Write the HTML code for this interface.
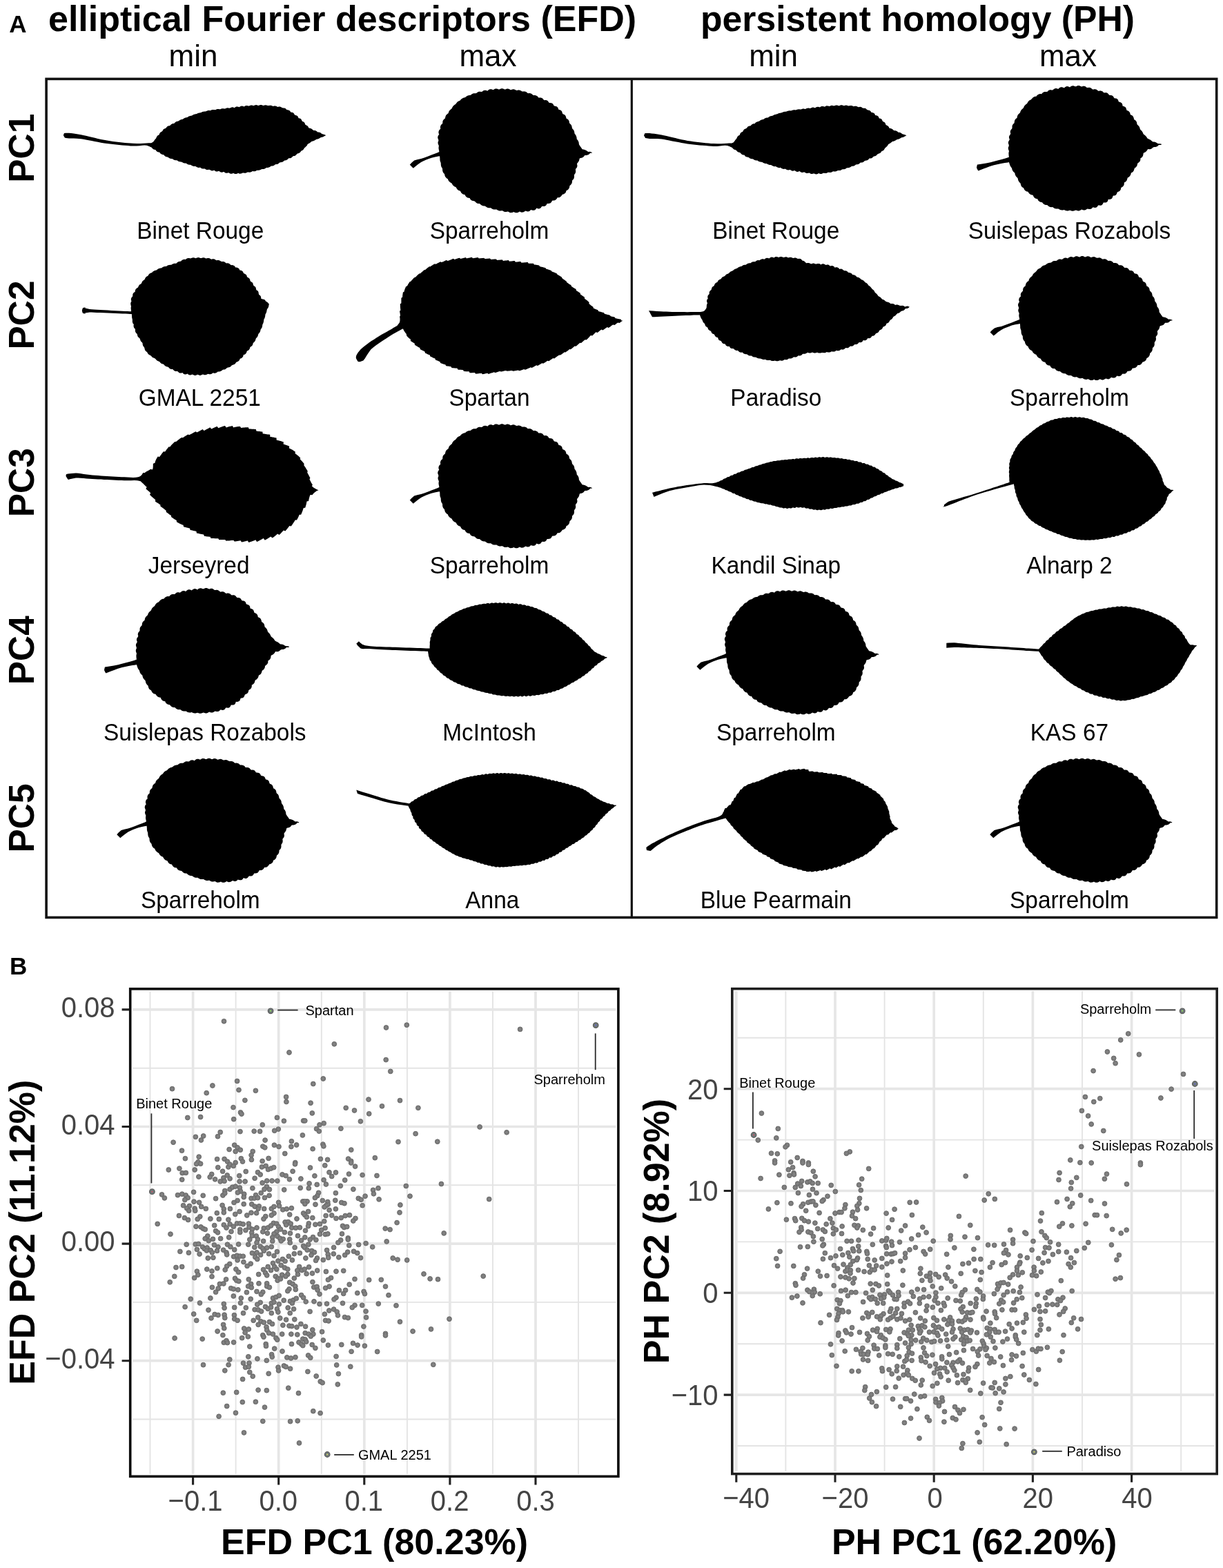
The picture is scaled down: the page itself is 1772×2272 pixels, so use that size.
<!DOCTYPE html>
<html lang="en"><head><meta charset="utf-8"><title>Figure: EFD vs PH leaf shape PCA</title>
<style>html,body{margin:0;padding:0;background:#fff}body{width:1772px;height:2272px;overflow:hidden}svg{display:block}text{font-family:"Liberation Sans", sans-serif}.b{font-weight:700}.ax{fill:#444;font-size:42.6px}.nm{font-size:34.4px;text-anchor:middle}.mm{font-size:44px;text-anchor:middle}.pc{font-size:52.7px;font-weight:700;text-anchor:middle}.lb{font-size:20px}.at{font-size:52px;font-weight:700;text-anchor:middle}.gM{stroke:#e6e6e6;stroke-width:3.7;fill:none}.gm{stroke:#e4e4e4;stroke-width:1.9;fill:none}.tk{stroke:#222;stroke-width:3.1;fill:none}.ld{stroke:#2a2a2a;stroke-width:1.8;fill:none}.d circle{fill:#7c7c7c;stroke:#6a6a6a;stroke-width:1}.di circle{fill:#949494}</style></head><body>
<svg width="1772" height="2272" viewBox="0 0 1772 2272">
<rect width="1772" height="2272" fill="#fff"/>
<text class="b" x="13.2" y="46.6" font-size="35">A</text>
<text class="b" x="70" y="44.5" font-size="52" textLength="852" lengthAdjust="spacingAndGlyphs">elliptical Fourier descriptors (EFD)</text>
<text class="b" x="1015" y="44.5" font-size="52" textLength="629" lengthAdjust="spacingAndGlyphs">persistent homology (PH)</text>
<text class="mm" x="280.0" y="96">min</text>
<text class="mm" x="707.0" y="96">max</text>
<text class="mm" x="1120.6" y="96">min</text>
<text class="mm" x="1547.5" y="96">max</text>
<rect x="67.1" y="114.4" width="1695.6" height="1215" fill="none" stroke="#111" stroke-width="3.6"/>
<line x1="915.3" y1="114.4" x2="915.3" y2="1329.4" stroke="#111" stroke-width="3.2"/>
<text class="pc" transform="translate(49.3 214.8) rotate(-90) scale(.977 1)">PC1</text>
<text class="pc" transform="translate(49.3 456.4) rotate(-90) scale(.977 1)">PC2</text>
<text class="pc" transform="translate(49.3 699.2) rotate(-90) scale(.977 1)">PC3</text>
<text class="pc" transform="translate(49.3 942.2) rotate(-90) scale(.977 1)">PC4</text>
<text class="pc" transform="translate(49.3 1185.4) rotate(-90) scale(.977 1)">PC5</text>
<text class="nm" transform="translate(290.3 345.5) scale(.972 1)">Binet Rouge</text>
<text class="nm" transform="translate(709.0 345.5) scale(.972 1)">Sparreholm</text>
<text class="nm" transform="translate(1124.3 345.5) scale(.972 1)">Binet Rouge</text>
<text class="nm" transform="translate(1549.4 345.5) scale(.972 1)">Suislepas Rozabols</text>
<text class="nm" transform="translate(289.3 588.0) scale(.972 1)">GMAL 2251</text>
<text class="nm" transform="translate(709.0 588.0) scale(.972 1)">Spartan</text>
<text class="nm" transform="translate(1124.3 588.0) scale(.972 1)">Paradiso</text>
<text class="nm" transform="translate(1549.4 588.0) scale(.972 1)">Sparreholm</text>
<text class="nm" transform="translate(288.1 830.5) scale(.972 1)">Jerseyred</text>
<text class="nm" transform="translate(709.0 830.5) scale(.972 1)">Sparreholm</text>
<text class="nm" transform="translate(1124.3 830.5) scale(.972 1)">Kandil Sinap</text>
<text class="nm" transform="translate(1549.4 830.5) scale(.972 1)">Alnarp 2</text>
<text class="nm" transform="translate(296.8 1073.0) scale(.972 1)">Suislepas Rozabols</text>
<text class="nm" transform="translate(709.0 1073.0) scale(.972 1)">McIntosh</text>
<text class="nm" transform="translate(1124.3 1073.0) scale(.972 1)">Sparreholm</text>
<text class="nm" transform="translate(1549.4 1073.0) scale(.972 1)">KAS 67</text>
<text class="nm" transform="translate(290.3 1315.5) scale(.972 1)">Sparreholm</text>
<text class="nm" transform="translate(713.3 1315.5) scale(.972 1)">Anna</text>
<text class="nm" transform="translate(1124.3 1315.5) scale(.972 1)">Blue Pearmain</text>
<text class="nm" transform="translate(1549.4 1315.5) scale(.972 1)">Sparreholm</text>
<g fill="#000">
<defs>
<path id="lf-binet" d="M221.3,206.1 222.1,205.4 222.8,204.4 223.6,203.4 224.4,202.3 225.4,201.2 226.3,200 226.9,198.5 227.7,197.2 228.9,196.1 230.5,195.5 230.9,194 231.5,192.9 232.2,191.9 233.3,191.2 234.6,190.6 235.5,189.7 236.1,188.3 237,187.2 238.3,186.4 239.9,186 241.1,184.7 242.3,183.3 243.3,182.7 244.6,182.3 246,182.2 247,181.2 248,180.2 249.2,179.4 250.6,179 252.2,178.9 253.3,177.7 254.5,176.7 255.9,176.1 257.5,175.8 259,175.3 260.2,174.2 261.6,173.4 263.2,173 264.9,172.8 266.1,171.8 267.5,171 268.7,170.5 270.1,170.2 271.6,170.1 272.7,169.1 273.9,168.5 275.3,168 276.7,167.7 278.1,167.5 279.4,166.6 280.7,166 282.1,165.6 283.5,165.3 285,165 286.3,164.3 287.6,163.7 289.1,163.4 290.6,163.2 292,162.8 293.3,162.1 294.7,161.7 296.2,161.5 297.7,161.5 299,161 300.3,160.4 301.7,160.1 303.2,160 304.7,160.2 306.1,159.6 307.5,159.1 309,158.9 310.5,159 312,159.2 313.4,158.5 314.9,158.1 316.4,158 317.9,158.3 319.3,158.2 320.7,157.6 322.1,157.2 323.5,157.2 324.9,157.6 326.3,157.5 327.5,156.8 328.8,156.4 330.1,156.3 331.8,156.7 333.5,156.5 334.9,155.7 336.5,155.3 338,155.5 339.6,156.2 341,155.2 342.3,154.6 343.8,154.4 345.2,154.7 346.7,155.3 348,154.3 349.4,153.7 350.8,153.6 352.3,154 353.8,154.4 355.1,153.5 356.6,153 358.1,153.1 359.6,153.5 361.1,153.6 362.5,152.8 363.9,152.5 365.4,152.6 367,153.2 368.4,152.8 369.9,152.2 371.3,152.1 372.8,152.4 374.3,153.1 375.8,152.4 377.2,152 378.7,152 380.2,152.5 381.6,153 383.2,152.4 384.7,152.2 386.3,152.4 387.8,153.1 389.4,153 391,152.7 392.6,152.8 394.1,153.3 395.6,154 397.1,153.5 398.6,153.4 400.1,153.7 401.4,154.4 402.6,154.9 404,154.6 405.3,154.5 407,155 408.5,156.1 410,156.4 411.5,156.4 412.9,156.8 414.1,157.6 415,158.8 416.3,159.2 417.8,159.4 419.2,160 420.3,161 421.1,162.4 422.5,162.8 424,163.1 425.3,163.8 426.2,165 426.9,166.6 428.5,166.9 430,167.4 431.2,168.3 432,169.7 432.6,171.2 434.3,171.4 435.6,172 436.7,173.2 437.3,174.7 438.2,175.9 439.8,176.5 441,177.5 441.7,178.8 442.2,180.4 443.4,181.3 444.8,181.9 445.9,182.8 446.7,184 447.4,185.5 449.1,185.8 450.6,186.2 452,187 453.2,188.2 454.6,188.9 456.3,189 457.7,189.5 459,190.3 460.2,191.4 461.6,191.5 462.9,191.8 464.7,192.6 466.3,193.9 468.2,194.4 469.9,194.9 471.2,195.5 472,196.1 472.2,196.3 471.9,196.4 471.1,196.4 470,197.2 468.7,198 467,198.7 465.1,199 463.4,200 461.8,200.9 460.3,201.5 458.8,201.8 457.4,202.4 456.2,203.3 454.8,203.9 453.4,204.4 451.8,204.7 450.6,205.8 449.3,206.8 447.9,207.7 446.7,208.3 445.6,209.1 445,210.4 444.2,211.5 443.2,212.5 442.1,213.4 440.9,214.4 440.3,215.8 439.3,217.1 438,218.1 436.3,218.7 435.3,220.2 434.5,221.1 433.5,221.8 432.3,222.3 430.9,222.6 429.9,223.4 429,224.5 427.9,225.4 426.6,225.9 425.1,226.1 423.9,226.9 422.8,228.1 421.6,228.9 420.1,229.3 418.3,229.3 417.2,230.6 415.9,231.6 414.4,232.2 412.6,232.4 411.4,232.9 410.5,233.9 409.3,234.7 408,235.1 406.6,235.2 405.2,235.5 404.1,236.6 402.9,237.4 401.5,237.9 399.9,238 398.5,238.5 397.3,239.5 396,240.2 394.5,240.5 392.9,240.5 391.6,241.4 390.3,242.3 388.8,242.8 387.3,242.9 385.7,243 384.5,244 383.1,244.7 381.7,245 380.1,245 378.8,245.3 377.5,246.1 376.1,246.6 374.7,246.8 373.1,246.7 371.7,247.1 370.3,247.9 368.9,248.3 367.4,248.3 365.8,248 364.4,248.9 363,249.5 361.5,249.7 360,249.5 358.5,249.4 357.2,250.2 355.8,250.7 354.4,250.8 352.9,250.5 351.5,250.4 350.3,251.2 349,251.6 347.7,251.7 346.4,251.4 345.1,250.7 343.4,251.7 341.8,252.1 340.2,251.9 338.6,251.1 337.2,251.2 335.6,251.7 334.2,251.8 332.8,251.2 331.6,250.2 330.1,250.4 328.7,250.8 327.3,250.7 325.9,250.2 324.7,249.1 323.1,249.2 321.6,249.7 320,249.5 318.7,248.9 317.4,247.7 315.9,248.3 314.4,248.6 312.9,248.4 311.5,247.6 310.2,246.7 308.6,247.3 307,247.4 305.6,247 304.2,246 302.7,245.8 301.1,246.1 299.6,246 298.2,245.4 296.9,244.4 295.4,244.5 293.9,244.6 292.5,244.3 291.1,243.6 289.9,242.5 288.3,242.9 286.8,242.8 285.4,242.3 284.1,241.6 282.8,240.8 281.3,240.9 279.8,240.7 278.5,240.2 277.2,239.4 275.9,238.8 274.4,238.8 273,238.5 271.7,237.9 270.4,237.1 269,236.6 267.5,236.6 266.1,236.2 264.7,235.6 263.4,234.7 261.9,234.5 260.3,234.3 258.9,233.9 257.5,233.1 256.2,232.3 254.6,232.3 253.1,232 251.7,231.4 250.4,230.5 249,230 247.5,229.9 246.2,229.5 244.9,228.9 243.9,227.9 242.7,227.4 240.9,227.2 239.4,226.6 238.2,225.6 237.2,224.2 235.5,224.1 234.1,223.6 232.8,222.8 231.9,221.7 230.9,220.6 229.4,220.4 228.1,219.9 227,219.2 226.1,218.3 225.3,217.1 223.6,216.8 222.2,216.2 221,215.3 220.1,214.3 219.1,213.3 217.9,212.9 216.7,212.3 215.4,211.7 214.1,211.2 212.6,210.8 209.3,210.5 206,210.8 202.2,211.2 197.8,211.6 192.6,211.6 189.2,211.4 185.4,211.1 181.4,210.8 177.1,210.5 172.7,210.1 168.2,209.6 163.7,209.1 159.3,208.6 155,208.1 150.8,207.4 146.3,206.7 141.8,205.8 137.3,204.9 132.8,204.1 128.5,203.2 124.5,202.5 120.8,201.8 117.5,201.3 111.5,200.7 106.8,200.6 103.1,200.6 100,200.6 95.4,199.9 93.8,199.6 92.8,197.8 91.8,196.1 92.4,194.5 93,193 95,192.8 100,192.8 103.2,193.1 106.9,193.5 111.5,194.2 117.5,195.3 120.8,196 124.5,196.8 128.5,197.8 132.8,198.8 137.3,199.8 141.8,200.9 146.3,201.9 150.8,202.8 155,203.6 159.3,204.2 163.7,204.9 168.1,205.4 172.5,206 176.9,206.5 181.2,206.9 185.2,207.3 189.1,207.6 192.6,207.8 198.3,208 203.4,208 208,207.8 211.9,207.5 215.1,207.3 219.1,207.3Z"/>
<path id="lf-sparre" d="M636.3,220.1 636.3,219.9 636.3,219.4 636.2,218.6 636,217.5 635.7,216.2 635.5,214.7 635.6,213.1 635.9,211.3 635.1,209.5 634.5,207.6 634.6,205.8 635.4,203.9 635.1,202.1 634.4,200.4 634.2,198.9 634.5,197.5 635.2,196 636.3,194.7 635.6,193.2 635.4,191.7 635.6,190.3 636.1,189 637,187.8 638.3,186.8 638,185.3 638,183.8 638.3,182.4 639,181.1 640,180 641.2,179 641.3,177.6 641.4,176.1 641.8,174.7 642.6,173.5 643.6,172.4 644.9,171.5 645.2,170 645.6,168.5 646.2,167.1 647.2,166 648.3,165 649.7,164.1 650,162.5 650.6,161.2 651.4,160 652.5,158.9 653.7,158 654.8,157 655.4,155.6 656.2,154.3 657.2,153.1 658.4,152.1 659.7,151.3 660.7,150.2 661.6,148.9 662.6,147.8 663.7,146.9 665,146.2 666.5,145.7 667.5,144.6 668.5,143.6 669.6,142.7 670.9,142 672.2,141.6 673.7,141.3 674.8,140.4 676,139.4 677.3,138.7 678.8,138.2 680.4,138 682.1,137.8 683.4,136.6 684.9,135.7 686.2,135.3 687.5,135.2 688.9,135.3 690.3,135 691.4,134 692.7,133.3 694.1,132.8 695.6,132.8 697.2,133.1 698.7,132.7 700,131.6 701.4,130.9 702.9,130.7 704.5,130.9 706.3,131.7 707.6,130.4 709,129.6 710.5,129.2 712.1,129.3 713.7,129.9 715.2,130 716.5,129.1 717.8,128.5 719.3,128.4 720.7,128.7 722.2,129.4 723.6,129.6 725.1,128.7 726.6,128.2 728,128.2 729.5,128.7 731,129.6 732.4,129.4 733.9,128.8 735.4,128.5 736.8,128.7 738.2,129.3 739.6,130.2 741,129.9 742.5,129.4 743.8,129.3 745.2,129.5 746.4,130 747.6,130.8 749.2,131 750.8,130.6 752.3,130.5 753.7,130.9 755.1,131.6 756.2,132.6 757.6,132.6 759.1,132.4 760.5,132.5 761.8,132.9 763,133.6 764.1,134.7 765.4,135.2 767,135 768.5,135.2 769.9,135.7 771.3,136.7 772.4,138.1 773.8,138.1 775.3,138.1 776.7,138.4 778,139 779.2,140 780.2,141.4 781.8,141.5 783.5,141.5 785,141.9 786.3,142.8 787.4,144.2 788.6,145.2 790.4,145.1 792,145.3 793.4,146.1 794.5,147.2 795.3,148.8 796.8,149.1 798.4,149.2 799.8,149.6 801,150.4 801.8,151.5 802.4,152.9 803.9,153.7 805.8,153.9 807.2,154.7 808.3,156 808.9,157.6 809.6,159 811.4,159.3 812.8,160 813.8,161.1 814.5,162.4 814.8,164 815.6,165.2 817.1,165.7 818.3,166.5 819.2,167.5 819.8,168.7 820.2,170.1 820.6,171.7 822.2,172.4 823.4,173.4 824.2,174.7 824.7,176.1 824.9,177.7 825.5,178.9 826.7,179.9 827.6,181 828.2,182.3 828.6,183.7 828.8,185.1 829.3,186.4 830.4,187.5 831.3,188.7 831.9,190.1 832.3,191.7 832.4,193.3 833.3,194.6 834.3,195.9 834.9,197.3 835.4,198.8 835.6,200.2 835.8,201.7 836.8,202.8 837.5,203.8 838.1,204.9 838.7,206.8 838.8,208.6 839.3,210.1 840.2,211.3 841,212.5 841.8,213.6 842.8,215 843.6,216.2 845.2,216.6 847.1,217 848.9,217.7 850.6,218.8 852.2,219.9 854.2,219.8 855.7,220.1 856.8,220.5 857.6,220.8 857.7,221.3 857.6,221.7 856.8,221.7 855.6,221.6 854.5,222.5 853.2,223.7 851.5,224.6 849.6,225 847.3,225 846,226.8 844.5,228.1 842.8,228.8 841.1,229.1 839.8,229.6 839.3,231.4 838.9,232.9 838.3,234.1 837.5,235.2 836.4,236.4 836,237.8 836.4,239.5 836.4,241.1 835.8,242.8 835,243.8 834,244.9 833.9,246.2 834.2,247.7 834.1,249.1 833.8,250.5 833.1,251.8 832.1,253 831.9,254.5 832,256.1 831.8,257.5 831.3,258.9 830.4,260.2 829.2,261.2 829,262.6 828.9,264.1 828.5,265.5 827.8,266.8 826.8,267.9 825.5,268.9 825.2,270.4 824.9,271.9 824.2,273.3 823.3,274.4 822.1,275.4 820.6,276.1 820.2,277.6 819.6,278.9 818.7,280 817.6,280.8 816.3,281.4 814.8,281.7 814,282.9 813.2,284.1 812.2,285.1 810.9,285.9 809.4,286.3 807.7,286.3 806.8,287.7 805.8,289 804.5,290 802.9,290.5 801.5,290.6 800,290.8 799.3,292.3 798.4,293.5 797.2,294.4 795.8,294.8 794.2,294.9 792.6,295.1 791.8,296.8 790.7,298 789.4,298.7 787.8,298.9 785.9,298.7 784.7,299.6 783.7,301.1 782.4,302 780.8,302.4 779.1,302.2 777.4,301.6 776.4,303.1 775.2,304.2 773.8,304.8 772.3,304.8 770.7,304.4 769.1,304 767.8,305.4 766.4,306.3 764.9,306.6 763.3,306.3 761.7,305.6 760.2,306.2 758.8,307.2 757.4,307.6 755.9,307.7 754.4,307.3 752.9,306.5 751.6,307.3 750.3,308 749,308.3 747.7,308.3 746,307.9 744.5,307 743,307.7 741.5,308.1 740,308.2 738.6,307.9 737.3,307.3 736,306.4 734.6,306.8 733.2,307.1 731.8,307 730.5,306.7 729.2,306.1 728,305.3 726.6,305.2 725.1,305.4 723.6,305.4 722.2,305 720.9,304.4 719.6,303.5 718.1,303.5 716.6,303.6 715.2,303.4 713.8,303 712.4,302.2 711.2,301.2 709.7,301.3 708.1,301.3 706.7,300.9 705.3,300.3 704,299.4 702.8,298.4 701.2,298.5 699.8,298.3 698.4,297.8 697.1,297 696,295.9 694.8,295.1 693.1,295.1 691.6,294.8 690.3,294.1 689.1,293.1 688.1,291.8 686.6,291.3 685,291.1 683.6,290.6 682.3,289.7 681.3,288.5 680.6,286.9 678.9,286.8 677.4,286.5 676.2,285.8 675.1,284.7 674.2,283.4 673.5,282 671.8,281.7 670.4,281.2 669.2,280.3 668.2,279.2 667.5,277.8 666.6,276.6 665.1,276.2 663.8,275.5 662.7,274.5 661.9,273.4 661.2,272.2 660.4,271 658.8,270.4 657.4,269.5 656.3,268.5 655.4,267.2 654.7,265.7 653.4,264.9 652,264.1 650.9,263.1 650,261.9 649.2,260.6 648.8,259.2 647.4,258.4 646.3,257.5 645.5,256.5 644.8,255.3 644.3,253.8 644.1,252.2 642.9,251 642,249.7 641.4,248.3 641.1,246.8 641.1,245.3 640.8,243.8 639.9,242.6 639.3,241.3 639,240.1 638.8,238.8 638.8,237.6 638.6,235.7 637.8,233.8 637.4,231.9 637.4,230.2 637.3,228.6 637.2,227.4 637.1,226.6 637.1,226.3 635,226.6 630.2,227.5 625.1,228.8 621.5,230.1 617.5,231.6 613.6,233.2 610.1,235.1 605.2,238.5 600.8,242.1 598.8,243.8 596.3,241.3 593.8,238.8 595.9,236.2 600.1,232.6 604.5,231.3 610.1,230.1 614.8,228.4 620.2,226.4 625.1,224.6 629.9,222.7 634.4,220.9Z"/>
<path id="lf-suis" d="M1461.8,227.8 1461.8,227.6 1461.8,227.1 1461.7,226.3 1461.6,225.3 1461.5,224 1461.4,222.5 1461.5,220.9 1462,219.1 1461.3,217.3 1460.8,215.4 1460.9,213.5 1461.8,211.6 1461.7,209.8 1461,208.1 1460.9,206.4 1461.2,205 1462.1,203.6 1462.9,202.1 1462.2,200.6 1461.9,199 1462.1,197.6 1462.7,196.2 1463.7,194.9 1464.3,193.6 1463.8,192 1463.8,190.5 1464.2,189.1 1465,187.8 1466.2,186.6 1466.6,185.1 1466.5,183.6 1466.7,182.1 1467.3,180.8 1468.2,179.6 1469.4,178.6 1469.8,177.1 1469.9,175.5 1470.4,174.1 1471.2,172.8 1472.3,171.7 1473.6,170.7 1473.8,169 1474.3,167.5 1475.1,166.1 1476.1,164.9 1477.2,164 1478.1,162.9 1478.5,161.5 1479.2,160.2 1480,159 1481.1,157.9 1482.3,156.9 1483.2,155.7 1483.8,154.3 1484.6,153 1485.6,151.9 1486.8,150.9 1488.1,150.1 1488.8,148.8 1489.5,147.6 1490.4,146.5 1491.4,145.6 1492.5,144.9 1494,144.3 1495,143.1 1496,141.9 1497.1,140.9 1498.4,140.2 1499.9,139.8 1501.4,139.8 1502.3,138.5 1503.4,137.5 1504.6,136.7 1506,136.3 1507.4,136.1 1509.1,136.3 1510.1,135 1511.2,133.9 1512.6,133.2 1514,132.9 1515.7,132.9 1517.3,133 1518.4,131.7 1519.7,130.7 1521.2,130.3 1522.8,130.2 1524.5,130.7 1525.8,130.1 1527.1,128.9 1528.5,128.2 1529.9,128 1531.5,128.2 1533.2,129 1534.4,127.8 1535.8,126.8 1537.2,126.3 1538.7,126.3 1540.3,126.8 1541.9,127.4 1543.1,126.2 1544.5,125.4 1545.9,125.1 1547.3,125.2 1548.8,125.7 1550.2,126.4 1551.6,125.1 1553.1,124.4 1554.6,124.2 1556.1,124.5 1557.6,125.2 1559.1,125.2 1560.5,124.4 1561.9,124 1563.3,124 1564.8,124.4 1566.2,125.2 1567.6,125.4 1569.2,124.8 1570.7,124.7 1572.2,125.1 1573.5,125.9 1574.8,127.1 1576.4,127 1578,126.8 1579.5,127 1580.9,127.7 1582.2,128.7 1583.5,129.7 1585.2,129.3 1586.7,129.3 1588.1,129.6 1589.4,130.2 1590.6,131.2 1591.8,131.9 1593.4,131.6 1594.9,131.5 1596.3,131.9 1597.6,132.6 1598.7,133.7 1599.9,134.5 1601.5,134.2 1603,134.3 1604.4,134.8 1605.6,135.8 1606.5,137.1 1607.7,138 1609.4,137.9 1610.9,138.2 1612.2,138.9 1613.2,140.1 1613.9,141.6 1615.1,142.4 1616.8,142.5 1618.2,143 1619.4,144 1620.2,145.3 1620.6,147 1621.8,147.8 1623.5,148.2 1624.8,149 1625.7,150.1 1626.3,151.6 1626.5,153.5 1628.1,154 1629.7,154.7 1630.9,155.6 1631.6,156.9 1632.1,158.5 1632.6,160.1 1634.4,160.6 1635.8,161.5 1636.8,162.7 1637.5,164.2 1637.7,166 1639.1,166.8 1640.6,167.6 1641.6,168.6 1642.3,169.9 1642.8,171.2 1643,173.1 1644.6,173.9 1645.8,175 1646.6,176.2 1647.1,177.6 1647.3,179.1 1647.7,180.4 1648.9,181.4 1649.8,182.4 1650.6,183.5 1651.3,185 1651.7,186.5 1652.4,187.9 1653.6,188.9 1654.5,190.1 1655.3,191.3 1656,192.6 1656.5,194.1 1657.6,195.1 1658.9,196 1660,196.9 1660.9,198 1661.7,199.2 1662.5,200.6 1663.9,201.2 1665.3,201.9 1666.6,202.6 1667.9,203.5 1669,204.5 1670.4,205.4 1672.3,205.6 1674.2,206 1676,206.9 1677.5,208.1 1679.2,208.3 1680.8,208.3 1681.9,208.4 1682.6,208.6 1682.7,209.3 1682.6,209.9 1681.9,210.1 1680.6,210.1 1679,209.9 1677.6,211.4 1676,212.5 1674.1,213 1672.1,213 1670.4,213.7 1669.1,215 1668,215.8 1666.3,216.3 1664.7,216.3 1663.1,216.1 1662.3,217.5 1661.5,218.6 1660.6,219.6 1659.4,220.5 1658.3,221.1 1656.8,221.7 1656.5,223.1 1656.3,224.7 1655.9,226.1 1655,227.4 1653.8,228.5 1652.3,229.5 1652.4,231.3 1652,232.9 1651.3,234.1 1650.3,235.2 1649,236.1 1648,237.3 1647.8,238.9 1647.3,240.3 1646.5,241.6 1645.4,242.7 1644,243.6 1643.4,245 1643,246.6 1642.4,247.8 1641.5,248.9 1640.4,249.8 1639,250.6 1638.5,251.9 1638.1,253.4 1637.4,254.6 1636.5,255.7 1635.3,256.7 1633.9,257.4 1633.4,258.8 1633,260.3 1632.4,261.7 1631.5,262.8 1630.4,263.8 1628.8,264.6 1628.8,266.3 1628.5,267.9 1627.8,269.3 1626.8,270.4 1625.4,271.3 1624.2,272.3 1624,274.1 1623.3,275.6 1622.3,276.7 1621.1,277.4 1619.5,277.9 1618.6,279 1618.1,280.6 1617.3,281.9 1616.2,282.9 1614.7,283.5 1612.9,283.6 1612.2,285.1 1611.6,286.7 1610.6,287.9 1609.3,288.6 1607.7,288.9 1605.8,288.7 1605.3,290.6 1604.6,292 1603.5,293 1602.1,293.6 1600.4,293.6 1598.7,293.5 1598,295.3 1597.1,296.6 1595.9,297.4 1594.4,297.8 1592.7,297.6 1591.1,297.5 1590.2,299.1 1589.1,300.2 1587.8,300.8 1586.3,300.9 1584.6,300.5 1583.1,300.6 1582,301.9 1580.7,302.7 1579.2,303.1 1577.7,303 1576,302.4 1574.6,302.9 1573.2,303.9 1571.8,304.4 1570.2,304.5 1568.8,304.2 1567.3,303.6 1566,304.3 1564.7,305 1563.3,305.4 1561.8,305.4 1560.3,305.1 1558.8,304.5 1557.4,305.1 1556,305.6 1554.6,305.8 1553.1,305.7 1551.7,305.3 1550.3,304.7 1549,305.1 1547.6,305.5 1546.1,305.6 1544.6,305.3 1543.1,304.8 1541.7,303.9 1540.2,304.4 1538.7,304.5 1537.2,304.3 1535.8,303.9 1534.5,303.1 1533.2,302.4 1531.7,302.6 1530.2,302.6 1528.8,302.3 1527.5,301.8 1526.2,300.8 1524.9,300 1523.3,300.2 1521.7,300 1520.3,299.5 1519.1,298.7 1518,297.5 1516.7,296.9 1515.1,296.9 1513.6,296.5 1512.3,295.8 1511.2,294.8 1510.3,293.4 1509,292.9 1507.4,292.7 1506,292.1 1504.8,291.1 1503.9,289.9 1503.3,288.3 1501.7,287.9 1500.2,287.4 1499,286.7 1498,285.6 1497.2,284.3 1496.7,282.8 1495.1,282.6 1493.5,282.1 1492.2,281.3 1491.1,280.3 1490.2,279 1489.4,277.8 1487.8,277.5 1486.4,277 1485.3,276.1 1484.3,275 1483.6,273.6 1482.9,272.3 1481.6,271.6 1480.5,270.7 1479.7,269.5 1479.1,268.1 1478.8,266.6 1478.3,265.2 1477.1,264.2 1476.2,263 1475.5,261.7 1475,260.3 1474.8,258.7 1474,257.5 1472.9,256.4 1471.9,255.2 1471.2,253.9 1470.6,252.3 1470.4,250.7 1469.1,249.6 1468,248.5 1467.2,247.3 1466.6,245.9 1466.2,244.6 1466,243.4 1465.1,242.6 1463.8,240.4 1463,238.4 1462.4,236.6 1462,235.5 1461.8,235.1 1460.1,235.4 1455.9,236.1 1450.4,237.1 1444.7,238.3 1440.1,239.3 1434.3,241.1 1429.2,243 1425,244.6 1419.9,246.6 1417.5,247.6 1416.4,245.9 1415,243.1 1415.5,240.3 1416,238.6 1417.9,238.3 1422.7,237.6 1428.9,236.6 1435.1,235.3 1439.7,234.1 1445.4,232.6 1451.3,230.9 1456.6,229.4 1460.4,228.3Z"/>
<path id="lf-gmal" d="M190.1,451.3 190.1,451 190,450.3 189.9,449.1 189.7,447.6 189.6,445.9 190,444 189.5,442.1 189.2,440.1 189.5,438.2 190.5,436.6 190,435 189.8,433.4 190.2,431.9 191,430.5 192.2,429.5 192.2,427.9 192.4,426.3 193,425 194,423.8 195.6,422.9 195.8,421.4 196.1,420 196.9,418.8 197.9,417.8 199.3,417.1 200.2,415.9 200.8,414.4 201.6,413.2 202.8,412.1 204.2,411.4 205.2,410.1 205.7,408.8 206.4,407.6 207.4,406.6 208.6,405.8 209.7,404.8 210.2,403.4 211,402.1 212,401 213.3,400.2 214.6,399.4 215.3,398 216.2,396.9 217.4,396 218.7,395.4 220.2,395 221.2,393.8 222.4,392.9 223.7,392.2 225.1,391.7 226.7,391.4 227.9,390.4 229.2,389.6 230.7,389 232.2,388.6 233.8,388.4 235.1,387.4 236.4,386.7 237.8,386.2 239.3,386 240.9,385.9 242.2,385 243.7,384.3 245.2,383.9 246.8,383.8 248.3,383.7 249.6,382.8 251,382.2 252.4,381.8 253.8,381.7 255.3,381.7 256.6,380.5 257.9,379.6 259.3,379 260.8,378.8 262.3,378.5 263.3,377.3 264.5,376.4 265.8,375.9 267.2,375.7 268.9,376 270.1,374.9 271.4,374.2 272.8,373.9 274.3,374 275.8,374.6 277.2,374 278.7,373.4 280.2,373.2 281.7,373.5 283.2,374.3 284.7,373.8 286.2,373.2 287.6,373 289.1,373.4 290.5,374.1 291.9,374 293.4,373.4 294.8,373.2 296.3,373.5 297.6,374.2 299.1,374.6 300.6,374 302.2,373.9 303.7,374.3 305.1,375.2 306.4,375.7 307.9,375.2 309.4,375.2 310.9,375.6 312.2,376.4 313.5,377.3 315.2,376.9 316.8,376.9 318.2,377.4 319.5,378.3 320.9,379.1 322.5,378.9 324,379 325.3,379.6 326.6,380.5 327.9,381.5 329.5,381.3 331.1,381.5 332.5,382.2 333.7,383.2 334.9,384.2 336.5,384.1 338,384.4 339.2,385.1 340.3,386.1 341.1,387.5 342.7,387.5 344.3,387.9 345.6,388.7 346.6,389.8 347.3,391.4 348.9,391.7 350.3,392.2 351.4,393.1 352.3,394.3 352.8,395.8 354,396.6 355.5,397.2 356.7,398.1 357.5,399.4 357.9,401 358.9,402.1 360.4,402.8 361.5,403.8 362.2,405.2 362.5,406.8 363.3,408 364.7,408.7 365.8,409.6 366.6,411 366.9,412.7 367.6,414.1 369.1,414.9 370.2,415.9 370.8,417.3 371,418.9 371.5,420.3 373,421.1 374.1,422.2 374.6,423.7 374.8,425.4 375.3,426.9 376.7,428 377.6,429.1 378.1,430.4 378.3,431.7 378.5,432.9 380.8,433.6 382.3,433.7 384.1,434.8 384.8,436.3 386.4,437.3 388.1,438.4 389.2,439.8 389.8,441 390.2,441.3 389.6,441.5 389.4,442.8 389.1,444.5 388.3,446.3 387,448.1 386.5,450.1 386.3,451.4 385.9,452.7 385.4,454 384.6,455.3 384.3,456.8 384.2,458.3 383.8,459.8 383.3,461.2 382.5,462.5 382.2,463.9 382.1,465.4 381.8,466.8 381.4,468.2 380.7,469.5 380.2,470.9 380.1,472.4 379.8,473.8 379.2,475.2 378.3,476.4 377.5,477.8 377.3,479.3 376.8,480.8 375.9,482.2 374.8,483.3 374.1,484.7 373.7,486.4 373.1,487.8 372.2,489 371.1,490 370.5,491.3 370.2,492.8 369.6,494.1 368.7,495.3 367.5,496.3 366.6,497.4 366.3,499 365.6,500.4 364.7,501.5 363.5,502.3 362.3,503.2 362,504.8 361.4,506.1 360.4,507.2 359.2,508.1 357.7,508.8 357.3,510.4 356.6,511.8 355.6,512.9 354.3,513.7 352.7,514.2 352.4,515.9 351.7,517.3 350.6,518.4 349.3,519.2 347.7,519.7 347.2,521.3 346.4,522.6 345.2,523.6 343.9,524.3 342.3,524.7 341.5,526 340.6,527.2 339.4,528 338.1,528.6 336.5,528.9 335.4,529.8 334.4,530.9 333.2,531.7 331.8,532.2 330.2,532.4 328.9,533.1 327.8,534.1 326.6,534.9 325.3,535.4 323.8,535.6 322.4,535.9 321.3,537 320.1,537.8 318.7,538.3 317.2,538.5 315.6,538.4 314.5,539.5 313.1,540.3 311.7,540.7 310.2,540.7 308.6,540.3 307.4,541.3 306.1,542 304.7,542.3 303.2,542.2 301.7,541.7 300.3,542.3 298.9,543 297.4,543.3 295.9,543.2 294.4,542.5 293,542.8 291.6,543.6 290.2,543.9 288.7,543.7 287.2,543 285.7,542.8 284.3,543.7 282.8,544 281.3,543.7 279.8,542.9 278.4,542.5 276.9,543.3 275.4,543.6 274,543.3 272.7,542.5 271.5,541.4 270.1,542.2 268.4,542.6 266.9,542.3 265.6,541.5 264.5,540.1 263,540.5 261.4,540.6 260.1,540.4 258.9,539.6 257.8,538.5 256.6,537.8 255,538 253.5,537.7 252.2,537 251,535.8 249.8,534.8 248.1,534.9 246.6,534.4 245.3,533.6 244.3,532.3 242.9,531.4 241.3,531.2 239.8,530.6 238.7,529.7 237.7,528.4 236.4,527.6 234.8,527.3 233.4,526.5 232.3,525.5 231.3,524.2 229.9,523.5 228.5,522.9 227.2,522.2 226.1,521.1 225.2,519.9 223.9,519.1 222.4,518.6 221.1,517.9 220,516.9 219.1,515.7 217.9,514.9 216.5,514.3 215.3,513.5 214.3,512.4 213.6,511.1 212.8,509.9 211.5,509 210.5,507.9 209.8,506.5 209.5,504.9 209.1,503.4 207.9,502.1 207.1,500.8 206.7,499.3 206.6,497.6 205.9,496.3 204.8,495.3 203.8,494 203.2,492.6 202.9,491.1 202.1,489.9 200.9,489 199.9,487.9 199.3,486.7 199,485.2 198.6,483.7 197.3,482.7 196.5,481.5 196,480.2 195.9,478.6 196,477 194.8,475.8 194,474.5 193.6,473.1 193.5,471.6 193.9,470 192.8,468.9 192.2,467.7 191.8,466 191.9,464.1 191.7,462.3 191.2,460.5 191.1,458.8 191,457.3 190.9,456.1 190.8,455.3 190.8,455.1 190.2,455 188.4,454.9 185.6,454.8 181.9,454.6 177.5,454.4 172.6,454.2 167.4,454 161.8,453.7 156.3,453.5 150.8,453.2 145.5,453 140.6,452.9 136.3,452.7 132.8,452.6 130,452.6 123.3,453.5 123.8,454.6 121.3,454.3 120,453.8 119.4,452.4 118.8,450.1 119.4,447.7 120,446.3 121.3,445.8 123.8,445.6 123.4,446.6 130,448.1 132.7,448.3 136.3,448.5 140.5,448.8 145.3,449 150.5,449.3 155.9,449.6 161.4,449.9 166.9,450.2 172.1,450.4 177,450.7 181.3,450.9 184.9,451.1 187.7,451.2 189.4,451.3Z"/>
<path id="lf-spartan" d="M578.8,467.6 579.1,466.6 579.3,465.5 579.5,464.3 579.5,463 579.5,461.6 579.3,460.2 579.1,458.8 580,457.2 579.8,455.7 579.6,454.2 579.3,452.6 579,451 580.4,449.5 580.2,448 580.1,446.5 579.9,445 579.9,443.6 579.8,442.1 579.8,440.6 581.4,439.3 581.4,437.8 581.4,436.3 581.4,434.7 581.4,433.2 581.5,431.7 583.1,430.5 583.2,429.1 583.3,427.6 583.5,426.2 583.7,424.8 583.9,423.5 585.5,422.7 585.9,421.1 586.4,419.6 586.9,418.1 587.5,416.7 588.1,415.3 589.8,414.6 590.5,413.4 591.2,412.1 592,410.8 592.8,409.6 593.7,408.3 595.3,407.8 596.2,406.6 597.1,405.5 598.1,404.4 599.1,403.3 600.1,402.2 601.7,401.8 602.8,400.7 603.9,399.7 605,398.6 606.2,397.6 607.3,396.5 609,396.2 610.2,395.1 611.2,394.2 612.3,393.2 613.4,392.2 614.5,391.3 616.1,391 617.2,390 618.4,389.1 619.5,388.1 620.7,387.2 621.9,386.2 623.7,386.2 624.9,385.3 626.2,384.5 627.5,383.6 628.7,382.9 629.9,382.2 631.6,382.7 632.9,382 634.1,381.3 635.4,380.7 636.7,380 638,379.3 639.8,380.1 641.2,379.5 642.6,378.9 644,378.3 645.4,377.6 646.9,377 648.7,378.1 650.2,377.4 651.5,376.9 652.8,376.4 654.1,375.9 655.5,375.3 656.9,374.8 658.6,376.1 660,375.6 661.4,375.1 662.9,374.6 664.4,374.1 665.8,373.7 667.5,375.1 669,374.6 670.4,374.2 671.9,373.8 673.3,373.4 674.7,373 676.2,374.4 677.6,374.1 679.1,373.7 680.7,373.4 682.2,373 683.7,372.8 685.1,374.2 686.6,373.9 688.1,373.7 689.6,373.5 691,373.3 692.5,373.1 693.9,374.5 695.3,374.3 696.8,374.2 698.3,374 699.7,373.9 701.2,373.7 702.6,375.1 704.1,374.9 705.6,374.8 707.1,374.7 708.5,374.6 710,374.5 711.4,375.9 712.9,375.8 714.4,375.7 715.9,375.6 717.4,375.5 718.9,375.4 720.2,376.9 721.7,376.8 723.2,376.7 724.7,376.6 726.2,376.4 727.7,376.3 729,377.9 730.6,377.8 732.1,377.6 733.6,377.4 735.2,377.3 736.7,377.1 738.1,378.8 739.7,378.6 741.2,378.4 742.7,378.3 744.2,378.1 745.7,377.9 747,379.7 748.5,379.6 749.9,379.4 751.3,379.2 752.7,379.1 754.3,378.9 755.7,380.8 757.3,380.6 758.8,380.5 760.3,380.3 761.8,380.2 763.2,380.1 764.7,380 765.8,381.8 767.2,381.7 768.6,381.7 770,381.7 771.4,381.7 772.9,381.8 773.9,383.5 775.4,383.6 776.8,383.8 778.3,384 779.7,384.2 781.1,384.5 782,386.1 783.4,386.4 784.8,386.7 786.2,387 787.6,387.4 789,387.8 790.4,388.2 791.4,389.7 792.8,390.1 794.3,390.5 795.7,391 797.2,391.5 798.6,392 799.6,393.4 801.1,393.9 802.5,394.4 803.9,395 805.3,395.7 806.7,396.3 807.5,397.7 808.9,398.5 810.1,399.2 811.4,400 812.6,400.8 813.8,401.6 814.4,403.1 815.6,404 816.9,404.9 818.1,405.8 819.3,406.7 820.6,407.5 821.3,409.2 822.6,410.1 823.8,410.9 824.9,411.7 826.2,412.5 827.5,413.3 828,415 829.3,415.8 830.6,416.7 831.9,417.5 833.2,418.3 834.6,419.1 834.9,421 836.2,421.7 837.4,422.5 838.5,423.2 839.6,423.9 840.6,424.6 841.1,426.7 842.5,427.6 843.7,428.4 844.9,429.2 846,430 847,430.7 846.9,432.6 848,433.4 849.1,434.2 850.2,435 851.4,436 852.5,436.9 853.6,437.9 853.4,439.9 854.5,440.9 855.7,441.9 856.8,442.9 858.1,443.8 859.4,444.7 860,446.7 861.2,447.3 862.4,447.8 863.7,448.3 865,448.8 866.3,449.3 867.1,450.9 868.6,451.4 870.1,451.8 871.6,452.2 873.2,452.7 874.8,453.1 876,454.8 877.7,455.2 878.9,455.6 880.4,455.9 881.9,456.3 883.6,456.7 884.9,458.3 886.8,458.7 888.6,459.1 890.5,459.5 891.8,461.2 893.6,461.6 895.3,461.9 897,462.2 898.4,462.5 899.8,462.7 900.4,464.4 901.4,464.6 902.1,464.7 902.5,464.8 902.7,464.6 902.5,464.5 902,464.8 901.2,465.4 900.1,466.1 898.9,467 897.5,468 895.3,467.5 893.7,468.6 892.1,469.8 890.5,471 888.1,470.4 886.6,471.5 885.2,472.5 884.1,473.4 882.9,474.2 881.7,475.1 879.7,474 878.5,474.9 877.2,475.8 876,476.7 874.8,477.6 873.5,478.5 871.4,477.4 870.2,478.3 869,479.3 867.9,480.2 866.7,481.2 865.6,482.1 863.5,481.3 862.3,482.3 861.2,483.4 860.2,484.4 859.1,485.5 858.1,486.6 856,486 854.9,487.1 853.9,488.2 852.9,489.3 851.8,490.4 850.7,491.4 849.5,492.5 847.5,492.2 846.4,493.2 845.4,494.1 844.3,495.1 843.2,496.1 842.1,497 840.2,496.8 839.1,497.8 838,498.8 836.9,499.7 835.7,500.7 834.6,501.7 832.7,501.6 831.5,502.6 830.3,503.5 829.1,504.5 827.9,505.4 826.8,506.3 825.1,506.1 824,507 822.9,507.9 821.8,508.7 820.6,509.6 819.5,510.4 817.8,510.3 816.6,511.2 815.4,512 814.3,512.9 813.1,513.8 811.9,514.6 810.2,514.4 809,515.3 807.7,516.1 806.5,517 805.3,517.8 804.1,518.7 803,519.5 801.2,519.1 800,519.9 798.8,520.7 797.6,521.6 796.4,522.4 795.1,523.3 793.3,522.8 792.1,523.6 790.8,524.4 789.6,525.2 788.3,526 787.1,526.8 785.3,526.2 784,527 782.8,527.8 781.5,528.5 780.3,529.2 779,530 777.2,529.3 775.9,530 774.6,530.8 773.3,531.5 771.9,532.2 770.6,532.9 768.9,532.2 767.6,532.9 766.2,533.5 764.9,534.1 763.6,534.7 762.2,535.3 760.9,535.8 759.2,535.1 757.9,535.6 756.5,536.1 755.2,536.5 753.7,537 752.3,537.3 750.7,536.6 749.3,536.8 747.8,537.1 746.3,537.3 744.9,537.5 743.4,537.7 741.9,536.9 740.4,537 739,537.2 737.5,537.4 736,537.6 734.6,537.8 733.1,537 731.6,537.3 730.1,537.6 728.8,537.9 727.4,538.2 726,538.6 724.4,537.9 723,538.3 721.6,538.8 720.2,539.2 718.8,539.7 717.4,540.1 715.8,539.3 714.4,539.8 713.1,540.2 711.7,540.6 710.4,541.1 709.1,541.5 707.8,541.9 706.3,540.7 705.1,541 703.5,541.3 702,541.7 700.5,542 699,542.2 697.6,540.7 696.2,540.9 694.8,541.1 693.4,541.3 692,541.5 690.6,541.6 689.2,541.7 688,539.9 686.6,540 685.1,540.1 683.6,540.2 682.1,540.3 680.6,540.3 679.6,538.3 678.1,538.3 676.6,538.2 675,538.2 673.5,538.1 672,538.1 671,536 669.5,535.9 668,535.8 666.5,535.8 664.9,535.7 663.4,535.6 662.4,533.6 660.8,533.5 659.3,533.4 657.7,533.3 656.1,533.2 654.5,533.1 653.5,531.2 652,531 650.5,530.8 649,530.6 647.5,530.4 646.1,530.1 645.3,528.3 643.8,527.9 642.3,527.5 640.9,527 639.5,526.5 638.1,526 637.6,524.2 636.3,523.7 635,523.1 633.7,522.5 632.3,521.9 631,521.4 630.4,519.6 629,519 627.6,518.4 626.2,517.8 624.8,517.1 623.4,516.5 622.8,514.6 621.4,514 620,513.4 618.6,512.7 617.2,512.1 615.9,511.4 615.5,509.5 614.1,508.8 612.7,508.1 611.4,507.4 610,506.7 608.7,506 608.4,504.1 607.1,503.4 605.9,502.7 604.6,501.9 603.4,501.2 602.2,500.5 600.9,499.8 600.8,497.7 599.6,497 598.4,496.2 597.2,495.5 596,494.7 594.8,493.9 595,491.8 593.8,491 592.7,490 591.5,488.9 590.3,487.7 589.1,486.2 588.8,484 587.6,482.5 586.5,481 585.5,479.5 584.8,478.3 584.4,477.2 583.9,476.6 583.8,476.3 581.4,477.6 575.9,480.5 570,483.8 566.7,485.8 563.2,488.1 559.5,490.4 555.9,492.8 552.5,495.1 548.5,497.8 544.6,500.4 541,503.2 537.5,506.3 534.4,510.4 531.4,515.1 528.7,519.5 526.3,522.6 521.3,524.3 518.8,523.9 517.7,522.5 516.3,520.1 515.7,517.9 516.3,515.1 518.6,511 522.5,506.3 525.1,504 528.1,501.5 531.4,499 535,496.3 538.2,494.1 541.7,491.9 545.3,489.6 549,487.3 552.5,485.1 556.2,483 560,480.9 563.7,478.8 567.1,476.9 570,475.1 575.4,472.1Z"/>
<path id="lf-paradiso" d="M1018.8,451.3 1020.3,450.5 1021.3,449.4 1022.3,448.2 1023.3,446.8 1023.8,445 1023.8,443.7 1023.9,442.3 1024.3,440.8 1025,439.2 1024.2,437.5 1024,435.8 1024.5,434.1 1025.7,432.7 1025.3,431.1 1025.3,429.6 1025.7,428.2 1026.7,427 1027.8,425.8 1027.6,424.1 1028,422.6 1028.9,421.2 1030.3,420.2 1030.9,419 1031.2,417.5 1031.8,416.3 1032.8,415.2 1034.2,414.4 1035,413.2 1035.5,411.7 1036.5,410.5 1037.7,409.6 1039.3,409 1040,407.4 1040.8,406.3 1041.8,405.4 1043.1,404.7 1044.6,404.3 1045.4,402.9 1046.4,401.8 1047.7,401 1049.1,400.4 1050.4,399.7 1051.4,398.5 1052.5,397.6 1053.8,396.9 1055.1,396.4 1056.4,395.5 1057.4,394.5 1058.6,393.6 1059.8,393 1061.2,392.5 1062.3,391.7 1063.4,390.8 1064.6,390 1065.9,389.4 1067.4,389 1068.7,388.2 1070,387.3 1071.2,386.7 1072.5,386.3 1073.9,386.1 1075.1,385.4 1076.3,384.6 1077.6,384 1079,383.7 1080.6,383.7 1081.8,382.8 1083.1,382 1084.5,381.5 1086,381.3 1087.5,381.3 1088.7,380.3 1090,379.6 1091.4,379.2 1093,379.2 1094.5,378.9 1095.7,377.9 1097.1,377.2 1098.6,377 1100.2,377.2 1101.5,376.6 1102.8,375.7 1104.3,375.2 1105.8,375.2 1107.4,375.7 1108.7,374.7 1110,373.9 1111.4,373.7 1112.9,373.9 1114.4,374.5 1115.6,373.4 1116.9,372.8 1118.2,372.5 1119.6,372.8 1121.1,373.5 1122.4,372.7 1123.8,372.1 1125.3,372 1126.9,372.4 1128.5,373 1130.1,372.1 1131.4,371.9 1132.8,372.1 1134.2,372.7 1135.7,373 1137.2,372.4 1138.8,372.2 1140.4,372.6 1141.9,373.6 1143.6,373 1145.2,372.8 1146.8,373 1148.3,373.8 1149.8,374 1151.3,373.6 1152.8,373.6 1154.1,374 1155.3,374.7 1156.5,375.1 1157.7,374.8 1159.8,375.1 1161.3,376.1 1162.2,377.4 1163.6,377.7 1164.8,378.2 1165.9,378.9 1166.9,379.9 1168.1,381.2 1170.2,381 1171.4,381 1172.6,381.2 1173.9,381.7 1175.2,382.6 1176.7,381.9 1178.3,381.6 1179.8,381.7 1181.4,382.4 1183,382.6 1184.6,382 1186.2,381.9 1187.8,382.3 1189.3,383.4 1190.9,382.5 1192.4,382.3 1193.9,382.5 1195.2,383.3 1196.7,383.9 1198.4,383.4 1200,383.5 1201.4,384.2 1202.6,385.4 1204.2,385.2 1205.8,385.1 1207.2,385.4 1208.5,386.3 1209.5,387.7 1211.2,387.2 1212.7,387.2 1214,387.7 1215.2,388.6 1216.4,389.9 1218.1,389.5 1219.6,389.7 1220.9,390.4 1222.1,391.5 1223.3,392.3 1224.9,392.2 1226.3,392.5 1227.6,393.3 1228.6,394.5 1229.9,395.1 1231.5,395.2 1232.9,395.8 1234.1,396.6 1235.1,397.9 1236.5,398.3 1238,398.5 1239.4,399.2 1240.5,400.2 1241.5,401.5 1243.1,401.7 1244.5,402.2 1245.7,402.9 1246.8,404 1247.8,405.1 1249.2,405.4 1250.4,406 1251.6,406.9 1252.6,408.1 1253.6,409.2 1254.9,409.8 1256.1,410.6 1257.1,411.7 1257.9,412.8 1258.8,413.9 1260,414.6 1261,415.4 1261.9,416.4 1262.7,417.5 1263.6,418.8 1265,419.7 1266.1,420.8 1266.9,422 1267.6,423.4 1268.6,424.5 1269.8,425.4 1270.8,426.5 1271.7,427.7 1272.5,429.1 1273.9,429.7 1275.2,430.5 1276.4,431.5 1277.4,432.7 1278.5,433.8 1280.1,434.3 1281.4,434.9 1282.6,435.9 1283.7,437.1 1285.2,437.5 1286.6,437.7 1287.9,438.2 1289.1,438.9 1290.2,440 1291.7,440 1293.2,440 1294.6,440.2 1295.9,440.9 1297.2,441.9 1298.8,441.6 1300.3,441.5 1301.8,441.9 1303.4,442.8 1305.4,443 1307.4,442.7 1309.4,443.2 1311.2,444.4 1313.2,443.7 1314.9,443.6 1316.2,444 1317.3,444.5 1317.9,445 1318.2,444.6 1317.7,444.4 1317,445.4 1315.8,446.4 1314,447.1 1311.7,447.3 1310.4,449.1 1309.4,449.8 1308.2,450.3 1306.9,450.6 1305.5,450.9 1304.5,452.1 1303.4,453 1302,453.7 1300.4,454.1 1299.1,455.2 1298,456.6 1297.1,457.4 1296,458.1 1294.7,458.7 1293.9,459.7 1293.2,461 1292.4,462.1 1291.2,463 1289.8,463.7 1289,464.9 1288.3,466.3 1287.3,467.4 1286,468.3 1284.4,468.8 1283.9,470.4 1283.1,471.7 1282,472.6 1280.7,473.3 1279.3,473.8 1278.7,475.4 1277.9,476.6 1276.8,477.5 1275.3,478.1 1274,478.9 1273.4,480.4 1272.5,481.6 1271.2,482.4 1269.7,482.7 1268.6,483.7 1267.8,485.1 1266.8,486.1 1265.4,486.7 1263.7,486.8 1262.7,487.9 1261.7,489.2 1260.5,490 1259,490.3 1257.3,490.1 1256.4,491.4 1255.3,492.6 1254,493.2 1252.4,493.3 1250.6,493.1 1249.7,494.7 1248.4,495.8 1246.9,496.2 1245,496 1243.9,496.7 1243,497.9 1241.8,498.7 1240.5,499 1238.9,498.9 1237.6,499.4 1236.5,500.7 1235.3,501.5 1233.8,501.8 1232.2,501.6 1230.9,502.4 1229.8,503.5 1228.5,504.2 1227,504.3 1225.3,504.1 1224.2,505.1 1223,506 1221.7,506.5 1220.2,506.5 1218.6,506.2 1217.4,507.2 1216.1,507.9 1214.7,508.2 1213.3,508.2 1211.7,507.8 1210.5,508.8 1209.1,509.4 1207.7,509.6 1206.3,509.5 1204.8,509.2 1203.5,510 1202.2,510.4 1200.8,510.6 1199.3,510.5 1197.9,510.1 1196.6,510.8 1195.2,511.2 1193.7,511.3 1192.2,511.1 1190.6,510.9 1189.1,511.4 1187.5,511.6 1185.9,511.4 1184.4,510.8 1182.8,511.1 1181.3,511.4 1179.7,511.4 1178.2,511 1176.8,510.6 1175.3,511.2 1174,511.5 1172.7,511.5 1171.4,511.3 1170.1,510.8 1168.5,511.8 1167.1,512.4 1165.7,512.7 1164.4,512.8 1163,512.8 1162.1,513.8 1161.1,514.7 1159.9,515.2 1158.4,515.5 1156.6,515.2 1155.2,516.6 1154.1,517.2 1152.9,517.5 1151.5,517.5 1150,517.2 1148.8,518.3 1147.5,519.1 1146,519.5 1144.4,519.4 1142.9,519.6 1141.5,520.6 1140.1,521.2 1138.5,521.3 1136.9,521 1135.5,521.7 1134.2,522.4 1132.8,522.7 1131.4,522.6 1130.1,522.3 1128.5,522.8 1127,523.2 1125.5,523.3 1124,523 1122.6,522.5 1121.2,522.9 1119.8,523 1118.4,522.9 1117,522.4 1115.7,521.8 1114.3,522.1 1112.9,522.1 1111.5,521.9 1110.1,521.4 1108.7,520.8 1107.2,521 1105.8,520.9 1104.3,520.5 1103,519.9 1101.6,519.4 1100.1,519.4 1098.6,519.2 1097.2,518.7 1095.9,517.9 1094.4,517.6 1092.9,517.5 1091.4,517.2 1090.1,516.5 1088.9,515.6 1087.4,515.5 1086,515.4 1084.6,515 1083.4,514.3 1082.2,513.2 1080.7,513.2 1079.3,513.1 1077.9,512.6 1076.7,511.8 1075.7,510.5 1074,510.7 1072.5,510.5 1071.2,509.9 1070.1,508.9 1069,507.7 1067.2,507.9 1065.7,507.6 1064.4,506.8 1063.3,505.5 1061.8,505 1060.1,504.9 1058.6,504.4 1057.5,503.2 1056.6,501.7 1054.8,501.9 1053.2,501.6 1052,500.8 1051.2,499.6 1050.5,498.2 1048.6,498.2 1047.1,497.6 1046.1,496.6 1045.4,495.1 1044.6,494 1043.1,493.6 1041.9,492.9 1041,491.9 1040.5,490.5 1040,489.1 1038.4,488.7 1037.1,488.1 1036.1,487 1035.4,485.5 1034.6,484.2 1032.9,483.7 1031.7,482.9 1030.7,481.6 1030.2,480 1028.9,479.2 1027.5,478.5 1026.4,477.5 1025.8,476.2 1025.4,474.8 1023.9,473.8 1022.5,472.7 1021.7,471.3 1021.3,469.7 1020.5,468.4 1019.3,467.4 1018.5,466.3 1018,465 1017.6,463.8 1016.4,461.9 1015.3,459.9 1014.6,458.1 1014,456.8 1013.8,456.3 1012.7,456.4 1009.6,456.5 1005.1,456.6 999.7,456.9 993.7,457.1 987.9,457.3 982.5,457.6 978.2,457.8 973.2,458 967.7,458.2 962.2,458.5 956.9,458.7 952.2,459 948.4,459.2 945.9,459.3 945,459.3 942.5,454.7 940,450.1 941.8,450.2 946.1,450.6 951.8,451 957.5,451.3 961.3,451.5 965.3,451.6 969.6,451.8 973.9,451.9 978.3,452 982.5,452.1 986.9,452.1 991.4,452.1 995.9,452.2 1000.2,452.1 1004.2,452.1 1007.6,452.1 1014.4,452.1Z"/>
<path id="lf-jersey" d="M200.1,691.3 201.8,690.8 203.3,689.9 204.5,688.9 205.6,687.7 206.4,686.4 207.3,685 209.5,685.3 210.4,684.4 211.7,683.5 213.1,682.7 214.6,682 216,681.3 217.2,680.6 218.1,679.7 220.7,680.6 221.3,679.3 221.6,677.9 221.7,676.5 221.8,675 221.8,673.4 221.9,671.7 224.5,670.8 224.8,669.3 225.3,667.7 225.8,666.4 226.4,665.2 227.1,664 227.9,662.7 228.7,661.5 231.2,661.9 232.1,660.6 233,659.4 234,658.1 234.9,656.8 235.9,655.6 236.9,654.3 239,654.5 239.9,653.4 240.7,652.2 241.6,651 242.5,649.9 243.4,648.7 244.3,647.5 246.3,647.4 247.2,646.3 248.2,645.1 249.2,644 250.2,642.9 251.2,641.9 252.3,640.9 253.4,639.9 255.2,640 256.3,639.1 257.3,638.2 258.4,637.3 259.6,636.4 260.7,635.6 261.9,634.7 263,633.9 264.9,634.3 266.1,633.4 267.4,632.6 268.7,631.8 270,631 271.2,630.2 272.4,629.5 274.2,630.3 275.5,629.6 276.8,628.9 278.1,628.2 279.4,627.4 280.7,626.7 282.1,625.9 283.4,625.2 285.4,626.5 286.8,625.8 288.2,625.1 289.6,624.3 291,623.6 292.4,622.8 293.6,622.1 295.5,624 296.8,623.4 298,622.7 299.3,622.1 300.5,621.4 301.8,620.7 303.1,620 304.3,619.3 306.3,621.6 307.6,620.9 308.9,620.3 310.2,619.7 311.6,619 313,618.4 314.5,617.8 316.3,620.2 317.7,619.7 319,619.2 320.4,618.7 321.7,618.2 323.2,617.8 324.6,617.3 326.1,616.9 327.7,619.4 329.2,618.9 330.7,618.5 332.2,618.1 333.7,617.8 335.2,617.4 336.8,617.1 338.2,619.4 339.6,619.1 341.1,618.8 342.5,618.6 343.9,618.3 345.2,618.1 346.5,617.9 347.7,617.7 349.3,619.9 351,619.7 352.6,619.5 354.1,619.4 355.6,619.3 357.1,619.3 358.5,619.2 359.9,619.2 360.7,621.6 362.1,621.6 363.5,621.6 364.9,621.7 366.4,621.8 367.9,621.8 369.3,621.9 370.8,622 371.4,624.6 372.9,624.7 374.4,624.9 375.9,625 377.3,625.2 378.8,625.4 380.3,625.5 380.8,628.4 382.2,628.6 383.7,628.8 385.1,629 386.5,629.2 388,629.4 389.6,629.6 391.2,629.8 391.4,632.9 393,633.1 394.5,633.4 396,633.6 397.5,633.9 399,634.2 400.6,634.5 400.6,637.6 402.1,638 403.6,638.3 405.2,638.7 406.6,639.1 408,639.5 409.4,640 410.9,640.4 410.6,643.5 412.1,644 413.5,644.5 415,645 416.4,645.6 417.8,646.1 419.2,646.8 418.9,649.5 420.2,650.1 421.4,650.7 422.7,651.3 424,652.1 425.4,652.9 426.6,653.8 427.9,654.7 427.6,657 428.8,657.9 429.9,658.8 431.1,659.7 432.1,660.6 433.2,661.6 434.2,662.5 435.2,663.5 434.8,665.4 435.9,666.5 437,667.7 438,668.8 439,670 439.9,671.1 440.7,672.3 440.3,674.1 441.1,675.2 441.9,676.4 442.7,677.6 443.5,678.9 444.3,680.2 445.1,681.5 445.8,682.8 445.2,684.6 445.9,685.9 446.6,687.2 447.3,688.6 448,689.9 448.7,691.2 449.4,692.6 448.5,694.5 449.2,695.9 449.9,697.3 450.6,698.7 451.3,700 452.1,701.2 452.9,702.3 451.9,704.3 453.4,705.7 455.1,707 456.9,708.1 458.6,709 460.1,709.7 461.1,710.1 460.7,711.3 460,710.5 459.2,711.1 458,711.9 456.6,713 455,714.3 453.6,715.8 452.4,717.3 449.6,717 449,718.3 448.5,719.7 448.1,721.2 447.7,722.7 447.4,724.3 447.1,725.9 444.5,726.6 444.2,728.2 443.9,729.8 443.5,731.4 443.1,732.8 442.7,734.3 442.2,735.8 439.8,736.1 439.3,737.5 438.9,738.8 438.4,740.2 437.9,741.6 437.3,742.9 436.8,744.3 436.1,745.7 433.8,745.8 433.2,747.1 432.6,748.4 432,749.7 431.4,751 430.7,752.3 430,753.6 427.7,753.6 426.9,754.9 426.1,756.2 425.2,757.6 424.4,758.7 423.6,759.9 422.7,761.2 421.8,762.4 419.4,762 418.4,763.2 417.5,764.5 416.5,765.7 415.5,766.9 414.4,768.2 413.4,769.4 410.9,768.5 409.9,769.6 408.8,770.7 407.8,771.8 406.7,772.9 405.7,773.9 404.6,775 402.1,773.5 401,774.5 399.9,775.5 398.7,776.5 397.4,777.5 396.1,778.5 394.7,779.6 392.2,777.4 391.2,778.2 390,778.9 388.9,779.7 387.7,780.4 386.4,781.2 385.1,782 383.8,782.7 381.8,780.1 380.4,780.8 379.1,781.6 377.7,782.3 376.3,783 374.9,783.7 373.5,784.4 372.1,785 370.3,782.3 369,782.9 367.6,783.5 366.2,784 364.8,784.6 363.3,785.1 361.8,785.5 360.4,786 358.8,783.4 357.4,783.8 355.9,784.2 354.4,784.6 352.9,784.9 351.5,785.2 350,785.4 348.6,783.2 347.1,783.5 345.6,783.7 344.1,784 342.6,784.2 341.1,784.4 339.6,784.6 338.2,782.7 336.7,782.9 335.2,783.1 333.6,783.2 332.1,783.4 330.5,783.5 329,783.6 327.5,783.7 326.2,781.9 324.7,782 323.2,782.1 321.7,782.1 320.3,782.1 318.9,782.1 317.5,782.2 316.2,780.3 314.6,780.3 313,780.3 311.5,780.2 310,780.1 308.5,780.1 307,780 305.5,779.9 304.6,777.8 303.1,777.7 301.7,777.5 300.3,777.4 298.8,777.2 297.4,777 295.9,776.8 295.1,774.5 293.6,774.2 292.2,774 290.7,773.7 289.3,773.4 287.8,773.1 286.4,772.8 284.9,772.5 284.5,770 283,769.6 281.5,769.3 280.1,769 278.6,768.6 277.1,768.3 275.6,768 275,765.5 273.5,765.2 272,764.8 270.5,764.5 269,764.1 267.5,763.7 266,763.2 265.6,760.8 264.2,760.4 262.8,759.8 261.4,759.2 260,758.6 258.6,757.8 257.3,757.1 255.9,756.3 255.8,754.1 254.4,753.3 253.1,752.5 251.9,751.7 250.6,750.8 249.4,750 248.1,749.1 248,747.1 246.7,746.3 245.5,745.4 244.3,744.5 243.1,743.6 241.9,742.7 240.7,741.8 240.7,739.8 239.5,738.9 238.4,738 237.2,737.1 236,736.2 234.8,735.3 233.6,734.5 232.4,733.6 232.4,731.5 231.1,730.7 229.9,729.8 228.7,729 227.4,728.2 226.1,727.4 224.9,726.5 225.2,724.2 224.1,723.3 222.9,722.3 221.7,721.3 220.6,720.3 219.4,719.2 218.2,718.1 217,717 218.2,714.5 217.1,713.3 216,712.2 214.8,711.2 213.7,710.2 212.5,709.3 211.4,708.5 212.6,705.6 211.3,704.7 210.2,703.6 209.1,702.6 208.2,701.6 207.2,700.6 206.2,699.7 205.1,698.8 204.1,697.6 202.6,697.1 198.9,696.3 194.6,696.1 189.8,696.2 184.9,696.3 180.1,696.3 176,696.1 171.9,695.9 167.7,695.7 163.5,695.5 159.2,695.3 155,695.1 150.8,694.9 146.5,694.6 142.2,694.4 138,694.2 133.9,694 130,693.8 125.6,693.5 121.2,693.1 117.2,692.8 113.4,692.6 110,692.6 102.4,693.9 98.8,695.1 97.3,693.1 95.5,690.1 95.7,688.1 96.3,687.1 98.6,686.6 103.9,685.9 110,685.6 113.5,685.8 117.3,686.3 121.4,686.9 125.6,687.5 130,688.1 133.9,688.4 138,688.8 142.2,689.1 146.5,689.5 150.8,689.8 155,690.1 159.3,690.3 163.6,690.6 167.9,690.8 172.1,691 176.2,691.2 180.1,691.3 184.5,691.5 188.9,691.8 193,691.9 196.8,691.8Z"/>
<path id="lf-kandil" d="M1036.3,699.6 1037.5,699.2 1038.7,698.7 1039.9,698.3 1041.2,697.9 1042.5,697.2 1043.7,696.5 1045,695.9 1046.5,695.7 1047.7,694.6 1048.9,693.7 1050.5,693.3 1051.9,692.8 1053.1,691.7 1054.6,691 1056.3,691 1057.5,689.9 1058.6,689.2 1059.9,688.8 1061.4,688.8 1062.4,687.9 1063.5,687.1 1064.8,686.7 1066.3,686.7 1067.4,685.8 1068.6,685 1069.9,684.6 1071.4,684.6 1072.6,683.7 1073.9,682.9 1075.3,682.6 1076.9,682.6 1078.1,681.5 1079.5,680.8 1081.1,680.6 1082.6,680.1 1083.7,679.4 1085,678.9 1086.3,678.7 1087.6,678.3 1088.8,677.6 1090.2,677.1 1091.6,676.9 1093,676.4 1094.3,675.6 1095.7,675.2 1097.2,675.1 1098.5,674.4 1099.9,673.7 1101.3,673.4 1102.8,673.2 1104.1,672.5 1105.5,672 1107,671.7 1108.4,671.4 1109.7,670.8 1111.1,670.4 1112.5,670.2 1113.8,669.9 1115.1,669.4 1116.6,669 1118.1,669 1119.6,668.6 1121,668.1 1122.5,668 1124.1,668.1 1125.5,667.5 1126.9,667.2 1128.4,667.2 1129.9,667.2 1131.3,666.7 1132.7,666.5 1134.2,666.6 1135.6,666.5 1137,666.1 1138.4,665.9 1139.8,666.2 1141.1,666 1142.4,665.5 1143.8,665.4 1145.1,665.6 1146.7,665.4 1148.3,664.9 1149.8,664.9 1151.4,665.4 1152.8,664.6 1154.3,664.3 1155.8,664.6 1157.2,664.8 1158.6,664.1 1160.1,664 1161.5,664.3 1162.9,664.3 1164.3,663.7 1165.8,663.7 1167.2,664.1 1168.7,663.9 1170.1,663.3 1171.6,663.4 1173.1,664 1174.5,663.3 1176,662.9 1177.5,663.1 1179,663.6 1180.4,662.8 1181.9,662.6 1183.4,662.9 1184.9,662.9 1186.3,662.3 1187.8,662.3 1189.3,662.8 1190.7,662.5 1192.2,662.1 1193.7,662.3 1195.2,662.9 1196.6,662.4 1198.1,662.2 1199.6,662.5 1201,663 1202.5,662.5 1204,662.5 1205.5,663 1206.9,663.2 1208.4,662.9 1209.9,663.1 1211.3,663.7 1212.8,663.6 1214.3,663.4 1215.8,663.8 1217.2,664.6 1218.7,664.1 1220.2,664.2 1221.6,664.7 1222.9,665.2 1224.4,664.9 1225.9,665.1 1227.3,665.7 1228.7,666 1230.2,665.8 1231.6,666.1 1233,666.9 1234.4,667 1235.9,666.9 1237.3,667.4 1238.5,668.3 1240,668.1 1241.4,668.1 1242.7,668.6 1243.8,669.5 1245.2,669.5 1246.8,669.5 1248.2,670.1 1249.5,671.2 1251.1,670.9 1252.6,671.1 1253.8,672 1255.1,672.7 1256.6,672.6 1258,672.9 1259.1,673.8 1260.3,674.5 1261.7,674.5 1263,674.8 1264.1,675.7 1265,676.7 1266.8,676.6 1268.2,677.3 1269.3,678.4 1270.7,679.1 1272.2,679.4 1273.4,680.3 1274.2,681.5 1275.6,682 1277,682.5 1278.1,683.3 1278.9,684.6 1280.3,685 1281.8,685.6 1282.9,686.7 1283.9,688 1285.4,688.4 1286.6,689.2 1287.6,690.4 1288.7,691.3 1290.2,691.9 1291.4,692.8 1292.6,694 1294.1,694.4 1295.7,695.1 1297.2,696.2 1299.1,696.8 1301,697.6 1302.6,698.8 1304.4,699.2 1305.9,699.8 1307.1,700.5 1308.1,701.1 1308.8,701.2 1309,701.3 1309.2,702.9 1309,704.6 1308.8,704.6 1308.1,704.6 1307.2,705 1306.1,705.5 1304.6,705.9 1302.9,706 1301.2,706.9 1299.3,707.4 1297.2,707.6 1295.5,708.6 1293.6,709.1 1291.8,709.4 1290.3,710.3 1289,710.8 1287.6,710.9 1286.3,711.5 1285.1,712.2 1283.7,712.7 1282.3,712.9 1281,713.6 1279.7,714.4 1278.4,714.9 1276.8,715 1275.6,715.9 1274.4,716.7 1272.9,717.1 1271.4,717.2 1270.3,718.3 1269,719 1267.5,719.3 1266.1,719.8 1264.9,720.8 1263.6,721.4 1262,721.6 1260.8,722.5 1259.5,723.4 1258.1,723.9 1256.5,723.9 1255.4,725.1 1254.2,725.9 1252.8,726.2 1251.3,726.3 1250.3,727.3 1248.9,727.9 1247.5,728.1 1246.1,728.3 1244.9,729.2 1243.7,729.7 1242.4,729.8 1241,729.7 1239.9,730.6 1238.6,731.1 1237.2,731.2 1235.7,731.1 1234.3,732 1232.7,732.4 1231.5,732.4 1230.2,732.4 1229,733.1 1227.6,733.4 1226.2,733.4 1224.8,733.4 1223.4,734.1 1222,734.4 1220.5,734.3 1219,734.6 1217.6,735.1 1216.1,735.3 1214.6,735.1 1213.2,735.6 1211.8,736.1 1210.4,736.1 1209,735.9 1207.7,736.4 1206.2,736.9 1204.8,736.9 1203.3,736.6 1202,737.4 1200.6,737.8 1199.2,737.8 1197.7,737.6 1196.4,738.3 1195.1,738.7 1193.7,738.6 1192.3,738.2 1190.9,739 1189.5,739.2 1188.1,738.9 1186.6,738.6 1185.1,739.2 1183.8,739.2 1182.5,738.7 1181.1,738.3 1179.7,738.7 1178.2,738.6 1176.9,737.8 1175.5,737.5 1174,737.8 1172.6,737.5 1171.3,736.6 1169.8,736.5 1168.3,736.7 1166.9,736.3 1165.6,735.3 1164.2,735.6 1162.8,735.8 1161.4,735.5 1160.2,734.7 1158.7,735.2 1157.2,735.6 1155.8,735.4 1154.3,734.6 1152.9,735.6 1151.6,736 1150.1,735.8 1148.7,735.3 1147.4,736.2 1146,736.6 1144.6,736.4 1143.2,736 1141.8,736.7 1140.4,736.9 1139,736.5 1137.7,736 1136.2,736.5 1134.7,736.4 1133.4,735.8 1132,735.4 1130.4,735.5 1129,735.2 1127.7,734.4 1126.2,734.2 1124.7,734.1 1123.3,733.6 1122,732.8 1120.5,732.8 1119.1,732.6 1117.8,732.1 1116.5,731.3 1115.1,731.5 1113.5,731.3 1112.1,730.8 1110.7,730.3 1109.2,730.4 1107.7,730.1 1106.4,729.6 1105,729.3 1103.5,729.3 1102.1,729 1100.8,728.4 1099.3,728.2 1097.9,728.1 1096.5,727.7 1095.2,726.8 1093.7,726.8 1092.3,726.6 1091,726 1089.9,725.2 1088.4,725.1 1087,724.9 1085.7,724.2 1084.6,723.3 1083,723.3 1081.6,723 1080.4,722.2 1079.2,721.4 1077.7,721.3 1076.3,720.9 1075.1,720.1 1073.8,719.4 1072.3,719.3 1070.9,718.7 1069.7,717.7 1068.2,717.2 1066.7,716.9 1065.4,716.1 1064.3,714.9 1062.6,714.9 1061.2,714.4 1060,713.5 1058.8,712.7 1057.4,712.6 1056.1,712.1 1055,711.4 1053.6,710.6 1052,710.3 1050.7,709.7 1049.5,708.8 1048.2,708.4 1046.9,708 1045.6,707.4 1044.4,706.8 1043,706.4 1041.6,706 1040.1,705.6 1036.5,704.7 1032.7,703.8 1028.7,703.1 1024.5,702.7 1020.1,702.6 1016.2,702.8 1012.1,703.3 1007.9,703.9 1003.6,704.7 999.3,705.5 995,706.3 990.8,707 986.6,707.8 982.4,708.5 978.2,709.3 974.1,710.3 970,711.3 965.6,712.8 960.7,714.6 955.8,716.6 951.6,718.3 948.6,719.6 947.5,720.1 946.3,716.9 945,713.8 946.3,713.5 949.6,712.6 954.4,711.4 959.8,710 965.3,708.7 970,707.6 974.2,706.7 978.4,705.9 982.5,705.1 986.7,704.4 990.9,703.7 995,703.1 999.3,702.5 1003.7,701.9 1008.1,701.3 1012.4,700.8 1016.4,700.4 1020.1,700.1 1024.6,700 1028.4,700.2 1032.1,700.3Z"/>
<path id="lf-alnarp" d="M1462.6,698.8 1462.6,698.6 1462.5,698.1 1462.5,697.3 1462.4,696.3 1462.3,695 1462.4,693.5 1462.3,691.9 1462.1,690.1 1462.1,688.3 1462.4,686.3 1461.8,684.4 1462,682.4 1462.5,680.5 1461.9,678.6 1462,676.9 1462.6,675.3 1462.4,673.8 1462.2,672.5 1462.5,670.7 1463.4,669.2 1463.3,667.7 1463.4,666.2 1463.9,664.9 1464.8,663.8 1465.3,662.7 1465.5,661.3 1466,660 1466.8,658.9 1467.9,657.7 1468,656.2 1468.5,654.9 1469.3,653.7 1470.4,652.7 1470.7,651.2 1471.3,649.8 1472.2,648.6 1473.3,647.5 1473.9,646.1 1474.6,644.7 1475.6,643.6 1476.8,642.6 1477.5,641.2 1478.3,640.1 1479.3,639.1 1480.5,638.2 1481.4,637.1 1482.3,636 1483.4,635 1484.7,634.2 1485.7,633.2 1486.7,632.1 1487.9,631.2 1489.1,630.4 1490.3,629.4 1491.3,628.3 1492.5,627.4 1493.7,626.7 1494.8,625.8 1495.8,624.7 1496.9,623.8 1498.1,623.1 1499.4,622.3 1500.4,621.2 1501.5,620.3 1502.7,619.6 1504.1,619 1505.1,617.9 1506.3,617 1507.5,616.3 1509,615.9 1510.1,614.9 1511.2,614.1 1512.5,613.5 1513.9,613.2 1515.1,612.4 1516.3,611.5 1517.6,610.9 1519,610.7 1520.3,610.2 1521.5,609.3 1522.9,608.8 1524.3,608.6 1525.8,608.4 1527.1,607.5 1528.5,607 1530.1,607 1531.5,607 1532.8,606.2 1534.2,605.7 1535.7,605.8 1537.3,606.2 1538.7,605.3 1540.3,604.9 1541.8,605.1 1543.4,605.4 1544.9,604.6 1546.4,604.4 1548,604.7 1549.5,604.9 1550.9,604.3 1552.4,604.1 1553.8,604.4 1555.1,605 1556.7,604.2 1558.2,604 1559.7,604.4 1561.2,604.9 1562.7,604.4 1564.1,604.2 1565.5,604.5 1566.8,605.2 1568.2,604.9 1569.6,604.8 1571,605.1 1572.3,605.8 1573.7,606 1575.2,605.9 1576.6,606.3 1577.8,606.9 1579.1,607.6 1580.6,607.6 1581.9,607.9 1583.2,608.7 1584.3,609.7 1585.9,609.7 1587.3,610.1 1588.6,610.8 1589.7,611.8 1591.2,612 1592.6,612.3 1593.9,613 1595.1,614 1596.5,614.3 1598,614.5 1599.3,615.1 1600.4,616.1 1601.8,616.5 1603.3,616.7 1604.6,617.3 1605.8,618.2 1607.1,618.9 1608.6,619.1 1610,619.6 1611.2,620.6 1612.4,621.4 1614,621.6 1615.4,622.1 1616.4,623.1 1617.5,624.1 1619.1,624.2 1620.4,624.6 1621.6,625.6 1622.5,626.9 1624.2,626.9 1625.6,627.3 1626.7,628.2 1627.6,629.5 1629.2,629.8 1630.6,630.2 1631.8,631.1 1632.6,632.4 1634,632.9 1635.4,633.4 1636.6,634.3 1637.4,635.6 1638.7,636.4 1640.1,637 1641.2,638 1642.1,639.3 1643.2,640.3 1644.7,640.9 1645.8,641.9 1646.5,643.2 1647.6,644.2 1648.9,644.9 1650,645.8 1650.8,647 1651.5,648.1 1652.8,648.7 1654.1,649.7 1655.1,650.9 1656.1,652.2 1657.5,652.9 1658.6,653.9 1659.5,655.1 1660.2,656.3 1661.5,657 1662.6,657.9 1663.4,659.1 1664.1,660.4 1665.2,661.2 1666.3,662.2 1667.2,663.4 1667.8,664.7 1668.8,665.7 1669.8,666.8 1670.7,667.9 1671.3,669.2 1672.1,670.4 1673.1,671.4 1673.9,672.6 1674.5,673.8 1675.1,675.1 1676.1,676.3 1676.9,677.7 1677.5,679.1 1678.2,680.6 1679.2,681.9 1679.9,683.3 1680.3,684.9 1681,686.2 1681.8,687.4 1682.4,688.7 1682.7,690.1 1683.3,691.7 1684.1,693.2 1684.5,694.7 1684.5,696.3 1685,697.6 1685.7,698.8 1686.2,700.1 1686.5,701.3 1687.2,702.8 1688.5,703.7 1689.6,704.7 1690.4,705.9 1691.5,706.9 1692.9,707.4 1694.5,708.2 1696.2,709.7 1698.3,709.7 1699.8,710 1700.2,710.6 1700,711 1699,711.3 1697.9,712.3 1696.8,713.7 1695.2,714.9 1693.7,716.1 1693,717.8 1692.4,718.9 1691.5,720 1690.8,721.3 1690.8,722.8 1690.5,724.3 1689.7,725.7 1689,727.1 1688.7,728.8 1688,730.2 1687,731.2 1686.1,732.3 1685.7,733.6 1684.9,734.8 1683.9,735.8 1682.6,736.7 1682.1,738.2 1681.2,739.4 1680,740.4 1678.6,741.3 1677.9,742.7 1676.9,743.8 1675.8,744.6 1674.4,745.3 1673.6,746.6 1672.6,747.7 1671.3,748.5 1669.9,749.2 1669,750.5 1667.9,751.6 1666.5,752.4 1665,753.1 1664.1,754.4 1662.9,755.4 1661.6,756 1660.2,756.6 1659.3,757.8 1658.2,758.8 1656.9,759.4 1655.4,759.8 1654.5,761.1 1653.4,762.1 1652,762.7 1650.4,762.9 1649.4,764.3 1648.2,765.3 1646.7,765.8 1645,766 1644.1,767.2 1643,768 1641.6,768.4 1640.1,768.3 1639,769.3 1637.8,770.2 1636.4,770.7 1634.8,770.6 1633.6,771.4 1632.4,772.4 1631,772.8 1629.4,772.8 1628,773.3 1626.8,774.3 1625.5,774.7 1624,774.7 1622.6,774.8 1621.4,775.9 1620,776.4 1618.5,776.4 1617,776.3 1615.8,777.3 1614.5,777.9 1613,777.9 1611.5,777.5 1610.2,778.5 1608.9,779.1 1607.4,779.2 1605.9,778.8 1604.5,779.4 1603.2,780.1 1601.7,780.2 1600.1,779.9 1598.7,780.3 1597.4,780.9 1595.9,781.1 1594.4,780.9 1592.9,781.2 1591.5,781.7 1589.9,781.9 1588.4,781.6 1586.9,781.9 1585.4,782.4 1583.9,782.5 1582.4,782.2 1580.9,782.4 1579.4,782.8 1578,782.8 1576.5,782.5 1575.1,782.5 1573.7,782.8 1572.2,782.8 1570.8,782.5 1569.3,782.3 1567.9,782.6 1566.5,782.5 1565.1,782.2 1563.8,781.7 1562.3,782 1560.9,781.9 1559.6,781.6 1558.2,781 1556.8,781 1555.4,781 1554,780.6 1552.6,780 1551.2,779.8 1549.7,779.7 1548.3,779.3 1547,778.5 1545.5,778.1 1544,778 1542.5,777.5 1541.2,776.7 1539.8,776.2 1538.3,776 1536.9,775.5 1535.6,774.6 1534.2,774.1 1532.7,773.9 1531.3,773.4 1530.1,772.6 1528.7,772 1527.2,771.8 1525.8,771.3 1524.5,770.4 1523.2,769.8 1521.7,769.6 1520.3,769.1 1519.1,768.2 1517.9,767.4 1516.4,767.2 1515,766.7 1513.9,765.9 1512.8,764.9 1511.3,764.7 1509.9,764.1 1508.7,763.3 1507.6,762.1 1506,761.9 1504.6,761.3 1503.4,760.4 1502.3,759.2 1500.8,758.9 1499.5,758.2 1498.3,757.3 1497.3,756.1 1495.9,755.6 1494.6,754.8 1493.6,753.7 1492.8,752.4 1491.5,751.7 1490.5,750.7 1489.6,749.6 1488.9,748.3 1487.8,747.2 1486.8,746.2 1486,744.9 1485.4,743.6 1484.5,742.4 1483.5,741.3 1482.8,740 1482.2,738.7 1481.5,737.4 1480.6,736.4 1479.9,735.2 1479.3,733.7 1478.7,732.3 1477.7,731.1 1477,729.8 1476.7,728.3 1476.2,726.9 1475.3,725.7 1474.7,724.3 1474.4,722.9 1474.2,721.5 1473.3,720.3 1472.7,719 1472.4,717.6 1472.4,715.8 1471.3,714.2 1470.9,712.2 1470.9,710.1 1470,708.3 1469.7,706.5 1469.6,704.8 1469.2,703.4 1469,702.3 1468.9,701.6 1468.8,701.3 1468.2,701.5 1466.4,702 1463.6,702.7 1459.9,703.8 1455.6,705 1450.7,706.3 1445.4,707.8 1440,709.3 1434.5,710.9 1429.1,712.5 1423.9,714 1419.2,715.5 1415,716.8 1410.8,718.2 1406.5,719.8 1402.2,721.4 1397.8,723 1393.5,724.7 1389.3,726.3 1385.3,727.9 1381.5,729.4 1378,730.8 1374.9,732 1372.2,733 1370,733.8 1366.1,734.5 1368,733.1 1368,731.2 1373.8,727.1 1376.4,726.1 1379.7,725 1383.3,723.9 1387.4,722.7 1391.8,721.4 1396.4,720.1 1401.1,718.8 1405.8,717.4 1410.5,716 1415,714.6 1419.1,713.3 1423.7,711.8 1428.7,710.1 1433.9,708.4 1439.2,706.6 1444.4,704.9 1449.2,703.3 1453.5,701.9 1457.2,700.6 1460.1,699.7 1461.9,699Z"/>
<path id="lf-mcintosh" d="M622.6,939.6 622.6,939.3 622.6,938.5 622.6,937.4 622.6,935.9 622.8,934.2 622.8,932.3 622.7,930.3 623.2,928.5 623.5,926.7 623.4,924.9 623.8,923.6 624.7,922.4 625,920.9 624.9,919.4 625.4,918 626.5,916.8 627,915.4 627.2,913.8 628,912.4 629.3,911.4 630.1,910 630.6,908.7 631.6,907.7 632.9,907 634.1,906.1 634.9,904.7 636,903.7 637.5,903.1 638.8,902.2 639.8,900.9 641.1,900 642.7,899.5 643.8,898.4 644.9,897.2 646.1,896.5 647.5,896 648.6,895 649.7,893.9 650.9,893.1 652.4,892.5 653.5,891.6 654.6,890.5 655.9,889.8 657.4,889.3 658.6,888.4 659.8,887.5 661.2,886.8 662.6,886.4 663.9,885.7 665,884.9 666.3,884.3 667.7,883.9 669,883.5 670.2,882.7 671.5,882.1 672.9,881.8 674.4,881.6 675.6,880.8 677,880.2 678.4,879.9 679.9,879.8 681.2,879.1 682.5,878.5 683.9,878.2 685.3,878.2 686.7,877.7 688,877.1 689.4,876.8 690.9,876.9 692.3,876.6 693.7,875.9 695.1,875.6 696.6,875.7 698,875.6 699.4,875 700.8,874.7 702.3,874.8 703.7,875 705.1,874.2 706.5,873.9 707.9,874.1 709.4,874.7 710.7,873.9 712.1,873.5 713.4,873.5 714.8,874.1 716.2,873.8 717.6,873.3 719,873.2 720.4,873.7 721.8,874 723.3,873.3 724.7,873.2 726.2,873.6 727.6,874.2 729.1,873.5 730.5,873.3 732,873.7 733.4,874.5 735,873.7 736.5,873.6 738,874 739.5,874.7 741.1,874 742.6,874 744.1,874.5 745.6,875.1 747.1,874.6 748.6,874.5 749.9,875 751.2,875.9 752.7,875.3 754.3,875.3 755.8,875.8 757.2,876.7 758.9,876.3 760.4,876.4 761.7,876.9 763,877.9 764.6,877.6 766,877.7 767.3,878.2 768.5,879.1 770,879.1 771.4,879.2 772.8,879.7 774,880.7 775.5,881 777,881.1 778.4,881.7 779.5,882.7 780.9,883.2 782.4,883.4 783.7,884 784.9,885 786.1,885.7 787.7,885.9 789,886.5 790.2,887.5 791.3,888.4 792.8,888.5 794.2,889 795.3,890 796.2,891.3 797.8,891.3 799.2,891.8 800.3,892.7 801.2,894.1 802.8,894.3 804.2,894.7 805.4,895.6 806.2,897.1 807.8,897.4 809.2,897.8 810.3,898.7 811.1,900.1 812.4,900.7 813.9,901.1 815.1,902 815.9,903.3 817.1,904.2 818.7,904.5 819.9,905.4 820.7,906.6 821.7,907.7 823.2,908 824.4,908.8 825.3,909.9 826.2,911.3 827.9,911.7 829.2,912.5 830.1,913.8 831.1,915.1 832.7,915.5 833.9,916.4 834.8,917.7 835.7,918.9 837.2,919.4 838.3,920.3 839.2,921.5 840,922.8 841.5,923.4 842.7,924.4 843.6,925.7 844.5,927 845.9,927.7 847,928.8 847.8,930 848.7,931.2 850,932 851,932.9 851.8,934 852.5,935.3 853.9,936.1 855,937.1 855.8,938.2 856.4,939.5 857.5,940.4 858.5,941.2 859.5,942.2 860.3,943.3 861.4,944.3 862.8,944.9 864,945.6 865.3,946.5 866.8,947.3 868.6,947.8 870.3,948.7 871.9,949.7 873.7,950 875.3,950.7 876.5,951.6 877.7,952 878.7,952.1 879.4,952.2 879.5,952.6 879.5,953 879,953.3 878.1,953.7 876.9,954.1 875.7,955.1 874.5,956.3 872.9,957.2 871.1,957.9 869.9,959.6 868.3,960.6 866.4,961.2 865.4,962.8 864.5,963.7 863.3,964.4 861.9,964.8 861.2,966.1 860.4,967.3 859.2,968.2 857.7,968.7 856.9,970 856,971.3 854.8,972.2 853.3,972.7 852.4,973.9 851.5,975.2 850.2,976.1 848.7,976.5 847.7,977.6 846.8,978.8 845.5,979.6 844,980 842.9,980.9 841.9,982.1 840.6,982.9 839.1,983.3 837.8,984.1 836.8,985.2 835.5,986 834,986.4 832.7,987.2 831.7,988.2 830.4,989 828.9,989.3 827.6,990 826.5,991.1 825.2,991.9 823.8,992.3 822.4,992.9 821.4,994 820.1,994.8 818.7,995.2 817.3,995.6 816.2,996.7 814.9,997.5 813.4,997.8 811.9,998.2 810.7,999.2 809.3,999.9 807.7,1000.1 806.3,1000.3 805.2,1001.2 804,1001.8 802.6,1002 801,1001.8 799.9,1002.7 798.6,1003.4 797.1,1003.7 795.6,1003.4 794.2,1004.1 792.9,1004.9 791.5,1005.1 789.9,1004.8 788.5,1005.3 787.1,1006.1 785.7,1006.3 784.1,1005.9 782.7,1006.3 781.4,1007.1 780,1007.3 778.5,1007 777,1006.9 775.7,1007.8 774.2,1008.1 772.7,1007.8 771.2,1007.4 769.8,1008.4 768.4,1008.7 766.9,1008.4 765.4,1007.8 764,1008.8 762.5,1009.2 761,1008.8 759.5,1008.1 758.1,1009.1 756.6,1009.4 755.2,1009.1 753.7,1008.2 752.2,1009.2 750.8,1009.5 749.3,1009.3 747.8,1008.5 746.3,1009.2 744.8,1009.5 743.3,1009.2 741.8,1008.5 740.3,1009 738.9,1009.3 737.4,1009.1 736,1008.4 734.5,1008.7 733.1,1009 731.7,1008.8 730.3,1008.2 729,1008.1 727.6,1008.4 726.1,1008.3 724.6,1007.7 723.1,1007.4 721.6,1007.6 720.2,1007.4 718.8,1006.9 717.5,1006.4 716,1006.5 714.6,1006.4 713.3,1005.9 712.1,1005.1 710.6,1005.2 709.2,1005.1 707.9,1004.7 706.6,1004 705.1,1003.9 703.6,1003.8 702.2,1003.4 700.9,1002.7 699.4,1002.4 697.9,1002.4 696.5,1002 695.2,1001.2 693.7,1000.9 692.2,1000.8 690.8,1000.4 689.5,999.7 688.1,999.2 686.6,999.2 685.2,998.8 683.9,998.1 682.7,997.3 681.1,997.4 679.7,997.1 678.4,996.3 677.1,995.4 675.6,995.5 674.2,995.2 672.9,994.5 671.8,993.4 670.2,993.5 668.8,993.2 667.6,992.6 666.5,991.5 665.1,991.2 663.7,991 662.4,990.4 661.3,989.4 660,988.7 658.5,988.5 657.2,987.9 656.1,986.9 654.9,986 653.4,985.7 652.1,985.1 651,984.1 650,983 648.5,982.7 647.2,982 646.2,981.1 645.3,979.8 643.8,979.3 642.5,978.6 641.5,977.5 640.6,976.1 639.1,975.5 637.9,974.5 636.9,973.4 636.1,972 634.7,971.3 633.5,970.4 632.7,969.3 632,968 630.9,967.3 629.9,966.5 628.7,965.1 628,963.5 626.7,962.5 625.7,961.3 625,960 624.7,958.6 623.7,957.6 622.9,956.4 622.4,955.2 622.1,953.5 621.4,951.8 620.9,949.9 620.7,948 620.4,946.4 620.2,945.1 620.1,944.1 620.1,943.8 619.4,943.8 617.4,943.7 614.4,943.6 610.4,943.5 605.8,943.3 600.6,943.1 595.1,943 589.4,942.7 583.7,942.5 578.3,942.3 573.2,942.1 568.8,942 565,941.8 559.3,941.5 554.1,941.3 549.5,941 545.4,940.7 541.6,940.5 538.2,940.2 535,940.1 529.3,940 525.6,940.2 522.5,939.6 518.2,935.6 516.3,932.6 518.1,930.9 520,929.3 521.5,931.1 525,933.8 529.2,935.3 536.3,936.3 539.2,936.6 542.4,936.7 545.9,936.9 549.8,937 554.2,937.2 559.3,937.4 565,937.6 568.5,937.7 572.8,937.8 577.5,938 582.7,938.2 588.2,938.4 593.7,938.6 599.2,938.8 604.5,938.9 609.3,939.1 613.7,939.3 617.3,939.4 620.1,939.5 621.9,939.5Z"/>
<path id="lf-kas" d="M1505.1,940.6 1505.3,940.4 1505.7,939.9 1506.4,939 1507.3,938 1508.5,936.8 1509.9,935.6 1511,934 1512.3,932.5 1514,931.5 1515,929.9 1515.7,928.9 1516.7,928 1518,927.3 1519.2,926.5 1519.9,925.1 1520.9,924 1522.2,923.1 1523.7,922.5 1524.4,921 1525.4,919.8 1526.6,918.9 1528.1,918.3 1529,917.2 1529.9,916 1531,915.1 1532.4,914.4 1533.7,913.8 1534.6,912.5 1535.7,911.5 1536.9,910.8 1538.3,910.3 1539.4,909.3 1540.3,908.2 1541.5,907.3 1542.8,906.7 1544.1,906.1 1545,904.9 1546.1,903.9 1547.3,903.1 1548.6,902.5 1549.7,901.5 1550.6,900.4 1551.8,899.4 1553,898.7 1554.3,898 1555.3,896.9 1556.4,895.9 1557.6,895.2 1558.9,894.6 1560.1,893.8 1561.3,892.9 1562.5,892.2 1563.8,891.7 1565.2,891.3 1566.3,890.5 1567.5,889.8 1568.9,889.2 1570.3,888.9 1571.6,888.3 1573,887.6 1574.4,887.1 1576,886.7 1577.7,886.4 1578.8,885.8 1580,885.4 1581.3,885.1 1582.7,885 1584.1,884.7 1585.4,884.2 1586.8,883.8 1588.2,883.6 1589.7,883.8 1591.1,883.1 1592.5,882.6 1594,882.4 1595.5,882.5 1597,882.3 1598.4,881.7 1599.8,881.4 1601.2,881.4 1602.7,881.7 1604.1,880.9 1605.5,880.4 1607,880.3 1608.6,880.6 1610,880.2 1611.4,879.6 1612.9,879.4 1614.4,879.6 1615.9,879.7 1617.3,879 1618.8,878.6 1620.3,878.8 1621.8,879.3 1623.3,878.7 1624.7,878.3 1626.2,878.4 1627.7,878.9 1629.1,879 1630.5,878.6 1631.9,878.5 1633.3,878.9 1634.6,879.6 1636.1,879.4 1637.6,879.2 1639,879.4 1640.3,880 1641.7,880.5 1643.2,880.3 1644.6,880.4 1646,880.8 1647.2,881.6 1648.7,881.6 1650.1,881.6 1651.4,881.8 1652.7,882.4 1654.1,883.3 1655.7,883.1 1657.2,883.3 1658.6,883.9 1659.9,884.8 1661.4,884.9 1662.9,885.1 1664.4,885.6 1665.6,886.4 1667,887 1668.5,887.1 1669.9,887.6 1671.2,888.3 1672.4,889.3 1673.9,889.4 1675.3,889.7 1676.7,890.4 1678,891.4 1679.4,891.8 1681,892.1 1682.4,892.7 1683.6,893.7 1684.9,894.5 1686.5,894.7 1687.9,895.3 1689.1,896.2 1690.1,897.5 1691.6,897.6 1693,898.1 1694.2,899 1695.1,900.1 1696.4,901 1697.9,901.5 1699.1,902.4 1700.1,903.6 1700.9,904.9 1702.4,905.4 1703.7,906.2 1704.6,907.4 1705.2,908.9 1706.4,909.7 1707.7,910.4 1708.7,911.4 1709.4,912.7 1709.9,914.1 1711.5,914.9 1712.6,916.1 1713.3,917.6 1713.8,919.3 1715.3,920.3 1716.3,921.6 1716.9,923.1 1717.2,924.7 1718.4,925.6 1719.3,926.6 1719.9,927.7 1720.3,928.8 1721.5,930.8 1722.4,932 1723,932.8 1724,933.7 1725.2,934.6 1727,934.3 1728.9,934.4 1730.8,934.9 1732.4,935.1 1733.6,934.9 1734,935.1 1733.9,935.6 1733.1,936.4 1731.7,937.5 1730.4,939.2 1729.2,941 1727.7,942.6 1726.9,943.5 1726.4,944.7 1725.8,945.9 1725.1,947.1 1724.2,948.2 1723.4,949.4 1722.8,950.9 1722.1,952.3 1721.1,953.6 1720.1,955 1719.7,956.2 1719.1,957.4 1718.4,958.6 1717.5,959.7 1716.9,961 1716.4,962.5 1715.7,963.8 1714.8,965 1713.9,966.2 1713.5,967.7 1712.8,969 1711.9,970.2 1710.8,971.3 1710.3,972.6 1709.6,974 1708.7,975.2 1707.6,976.2 1706.7,977.4 1706.1,978.8 1705.3,980 1704.2,981 1702.9,981.9 1702.3,983.3 1701.4,984.6 1700.2,985.6 1698.7,986.3 1697.8,987.7 1696.9,988.7 1695.8,989.6 1694.5,990.1 1693.2,990.8 1692.2,992 1691.1,993 1689.7,993.6 1688.1,993.9 1687.1,995.1 1685.9,996.1 1684.5,996.8 1683,997.1 1681.7,998 1680.5,999 1679.2,999.7 1677.7,1000.1 1676.3,1000.5 1675.3,1001.5 1674.1,1002.2 1672.8,1002.7 1671.3,1002.9 1670.1,1003.5 1669,1004.3 1667.7,1004.9 1666.3,1005.2 1664.8,1005.3 1663.6,1006.2 1662.4,1006.9 1661,1007.3 1659.5,1007.4 1658,1007.9 1656.7,1008.6 1655.3,1009.1 1654,1009.3 1652.5,1009.3 1651.3,1010.1 1650,1010.7 1648.7,1011.1 1647.2,1011.2 1645.8,1011.5 1644.5,1012.2 1643.1,1012.7 1641.6,1012.9 1640.1,1012.8 1638.8,1013.5 1637.4,1014.1 1636,1014.3 1634.5,1014.3 1633.1,1014.4 1631.7,1015 1630.4,1015.3 1629,1015.3 1627.7,1014.9 1626.2,1015.1 1624.8,1015.5 1623.3,1015.5 1621.9,1015.1 1620.5,1014.5 1619,1014.9 1617.6,1014.9 1616.2,1014.6 1614.9,1013.8 1613.5,1013.6 1612,1013.8 1610.6,1013.6 1609.3,1013 1608.1,1012 1606.6,1012.3 1605.2,1012.4 1603.9,1012.1 1602.6,1011.4 1601.2,1010.7 1599.6,1011 1598.1,1010.9 1596.7,1010.3 1595.5,1009.2 1593.9,1009.5 1592.4,1009.5 1591,1009 1589.7,1008.1 1588.3,1007.7 1586.8,1007.8 1585.4,1007.5 1584.1,1006.7 1583,1005.6 1581.4,1005.7 1580,1005.5 1578.6,1004.9 1577.4,1003.8 1575.9,1003.3 1574.3,1003.1 1572.9,1002.4 1571.7,1001.4 1570.4,1000.5 1568.9,1000.2 1567.5,999.6 1566.3,998.7 1565.3,997.5 1563.7,997.3 1562.4,996.8 1561.2,996 1560.2,995.1 1558.7,994.2 1557.2,993.7 1555.9,992.9 1554.7,991.9 1553.6,990.9 1552.2,990.5 1551,989.8 1549.8,988.8 1548.9,987.7 1547.5,987 1546.2,986.3 1545,985.3 1544.1,984.2 1543.1,983.2 1541.8,982.5 1540.6,981.6 1539.7,980.6 1538.8,979.3 1537.6,978.5 1536.4,977.6 1535.3,976.6 1534.4,975.3 1533.4,974.3 1532.1,973.5 1531,972.5 1530,971.4 1529.3,970.1 1527.8,969.5 1526.6,968.6 1525.5,967.6 1524.7,966.3 1523.4,965.4 1522.1,964.7 1521,963.7 1520.1,962.5 1519.2,961.3 1517.8,960.7 1516.7,959.8 1515.9,958.7 1515.2,957.5 1514,956.4 1512.6,955.2 1511.6,953.6 1510.9,951.8 1509.5,950.5 1508.4,949.1 1507.6,947.6 1506.8,946.3 1506.1,945.3 1505.5,944.5 1505.2,944 1505.1,943.8 1503.2,943.7 1497.9,943.5 1490.1,943.1 1486.9,942.9 1483.3,942.6 1479.2,942.3 1475,942 1470.5,941.7 1465.9,941.4 1461.3,941.1 1456.9,940.8 1452.6,940.6 1448.4,940.3 1444.1,940.1 1439.9,939.9 1435.6,939.7 1431.4,939.5 1427.2,939.3 1423,939.1 1419,939 1415,938.8 1410.6,938.7 1406.1,938.5 1401.5,938.4 1397.1,938.3 1392.9,938.2 1389,938.1 1385.5,938.1 1382.5,938.1 1374.2,938.4 1371.3,938.8 1371.3,937.4 1371.3,935.1 1371.3,933 1371.3,931.8 1374.2,931.4 1382.5,931.3 1385.5,931.5 1389,931.9 1392.9,932.3 1397.1,932.7 1401.5,933.2 1406.1,933.7 1410.6,934.2 1415,934.6 1419,934.9 1423,935.2 1427.2,935.5 1431.4,935.7 1435.6,936 1439.9,936.3 1444.1,936.5 1448.4,936.8 1452.6,937.1 1456.9,937.3 1461.3,937.6 1465.9,938 1470.5,938.3 1475,938.6 1479.2,938.8 1483.3,939.1 1486.9,939.4 1490.1,939.6 1497.9,940.1 1503.2,940.4Z"/>
<path id="lf-anna" d="M590.1,1163.8 593.1,1164.5 592.6,1164.6 592.7,1164.3 593.4,1164 594.4,1163.4 595.4,1162.3 596.8,1161.3 598.7,1160.7 600,1159.1 601.7,1158 603.7,1157.6 604.9,1155.9 606,1155.3 607.5,1155 608.7,1154.5 609.7,1153.3 611,1152.7 612.6,1152.5 613.9,1151.7 615,1150.6 616.5,1150.1 618.3,1150.1 619.4,1148.7 620.9,1147.9 622.7,1147.8 623.8,1147 624.8,1146 626.1,1145.5 627.6,1145.4 628.7,1144.7 629.9,1143.7 631.3,1143.2 632.8,1143.2 634,1142.2 635.2,1141.3 636.7,1140.9 638.3,1140.8 639.4,1139.7 640.8,1139 642.3,1138.7 643.7,1138.2 645,1137.3 646.3,1136.8 647.7,1136.6 648.9,1136 650.1,1135.2 651.4,1134.7 652.9,1134.5 654.1,1133.8 655.4,1133 656.7,1132.6 658.2,1132.4 659.4,1131.6 660.7,1131 662.1,1130.6 663.6,1130.5 664.8,1129.6 666.1,1129 667.4,1128.8 668.9,1128.7 670.1,1127.9 671.4,1127.4 672.9,1127.2 674.3,1127.1 675.6,1126.4 677,1126 678.4,1125.9 679.9,1125.8 681.2,1125.1 682.6,1124.8 684,1124.9 685.4,1124.7 686.7,1124 688.1,1123.8 689.6,1124 691,1123.7 692.3,1123.1 693.7,1122.9 695.2,1123.2 696.6,1122.7 698,1122.2 699.5,1122.1 701,1122.7 702.4,1121.8 703.8,1121.3 705.3,1121.5 706.8,1121.9 708.2,1121 709.6,1120.7 711.1,1121.1 712.6,1121.1 714,1120.4 715.5,1120.3 717.1,1121 718.6,1120.4 720.1,1120 721.5,1120.2 723,1121.1 724.4,1120.2 725.8,1119.9 727.3,1120.3 728.7,1120.8 730.2,1120.1 731.7,1120 733.2,1120.6 734.6,1120.7 736.1,1120.2 737.6,1120.3 739,1121 740.5,1120.7 742,1120.4 743.4,1120.7 744.8,1121.6 746.3,1121 747.7,1120.8 749.1,1121.2 750.5,1121.9 752,1121.4 753.4,1121.4 754.8,1121.8 756.1,1122.4 757.6,1122 759,1122 760.3,1122.5 761.6,1123.1 763.1,1122.7 764.5,1122.8 765.8,1123.3 767.1,1123.9 768.6,1123.5 770,1123.6 771.3,1124.3 772.6,1124.7 774.1,1124.4 775.5,1124.6 776.8,1125.3 778.2,1125.7 779.7,1125.5 781.1,1125.8 782.4,1126.6 783.8,1126.8 785.3,1126.6 786.7,1127 787.9,1128 789.4,1128 790.9,1127.9 792.2,1128.4 793.4,1129.5 794.9,1129.2 796.4,1129.2 797.7,1129.8 798.9,1131 800.5,1130.4 802,1130.5 803.3,1131.2 804.6,1132.1 806.2,1131.6 807.7,1131.8 808.9,1132.7 810.3,1133.2 811.9,1132.9 813.3,1133.3 814.5,1134.3 815.9,1134.4 817.4,1134.3 818.8,1134.8 819.9,1135.8 821.4,1135.8 822.8,1135.8 824.3,1136.4 825.5,1137.7 827.3,1137.3 828.8,1137.5 830.2,1138.5 831.6,1139 833.3,1138.9 834.7,1139.5 835.9,1140.6 837.5,1140.6 839,1140.8 840.2,1141.5 841.3,1142.6 842.8,1142.5 844.2,1142.9 845.3,1143.6 846.6,1144.7 848.3,1145.1 849.6,1145.9 850.7,1147.1 852,1147.8 853.4,1148.5 854.4,1149.5 855.3,1150.7 856.7,1151.3 858,1152 859,1152.9 860.1,1154 861.5,1154.4 862.8,1155.1 863.9,1156 865.1,1156.9 866.4,1157.4 867.7,1158 868.8,1158.9 870,1159.7 871.4,1160.1 872.7,1160.7 873.9,1161.6 875.2,1162.1 876.7,1162.3 878.2,1162.9 879.7,1163.9 881.7,1163.9 883.4,1164.5 885.1,1165.4 886.9,1165.3 888.5,1165.7 889.8,1166.6 891,1166.7 892,1166.6 892.6,1166.6 892.7,1167.1 892.7,1167.5 892.1,1167.9 890.9,1168.3 889.8,1169.2 888.7,1170.6 887.1,1171.6 885.5,1172.6 884.3,1174.2 882.8,1175.1 881.5,1175.7 881,1177 880.1,1178.1 878.8,1178.9 877.5,1179.6 876.9,1181.1 875.9,1182.2 874.4,1183 873.4,1184.2 872.7,1185.6 871.5,1186.6 869.9,1187.3 869.5,1188.8 868.7,1190 867.4,1191 866.3,1192 865.8,1193.5 864.9,1194.7 863.5,1195.6 862.8,1196.9 862.1,1198.3 860.9,1199.4 859.5,1200.1 858.9,1201.7 858,1202.8 856.7,1203.6 855.5,1204.6 854.7,1205.9 853.7,1206.8 852.3,1207.5 851.3,1208.5 850.3,1209.7 849.1,1210.6 847.6,1211 846.7,1212.4 845.5,1213.5 844,1214.2 842.7,1215 841.8,1216.1 840.7,1216.9 839.3,1217.3 838.1,1218.1 837.1,1219.3 835.9,1220 834.3,1220.3 833.2,1221.3 832.1,1222.4 830.7,1223 829.1,1223.2 828.1,1224.6 826.9,1225.6 825.3,1225.9 824,1226.7 823,1228 821.7,1228.7 820.2,1228.8 819.2,1229.9 818.3,1231.1 817,1231.7 815.3,1231.8 814.5,1233.2 813.5,1234.3 812,1234.8 810.4,1235 809.6,1236.6 808.5,1237.5 806.9,1237.8 805.5,1238.4 804.5,1239.8 803.1,1240.4 801.4,1240.3 800.3,1241.5 799.2,1242.5 797.8,1242.8 796,1242.5 795.1,1244 793.8,1244.9 792.3,1245 790.7,1245.1 789.6,1246.4 788.2,1247 786.5,1246.8 785.2,1247.6 783.9,1248.5 782.4,1248.8 780.7,1248.4 779.6,1249.7 778.2,1250.4 776.7,1250.4 775.2,1250.3 774.1,1251.3 772.8,1251.8 771.2,1251.8 769.7,1251.8 768.4,1252.7 767,1252.9 765.5,1252.7 764.1,1252.9 762.8,1253.5 761.4,1253.7 760,1253.4 758.6,1253.6 757.3,1254.1 755.9,1254.2 754.5,1253.9 753.2,1254.1 751.8,1254.5 750.4,1254.6 749,1254.4 747.6,1254.6 746.2,1255.1 744.7,1255.1 743.1,1254.8 741.7,1255.4 740.2,1255.7 738.6,1255.6 737.1,1255.5 735.6,1256.1 734.1,1256.3 732.6,1256 731.1,1256.2 729.6,1256.6 728.2,1256.6 726.7,1256.1 725.4,1256.5 724,1256.8 722.6,1256.6 721.1,1255.8 719.5,1256.4 718,1256.4 716.5,1255.8 715.2,1255.3 713.6,1255.6 712.2,1255.4 710.9,1254.6 709.6,1254.2 708.1,1254.4 706.7,1254 705.5,1253.2 704,1252.9 702.5,1253 701.1,1252.5 699.9,1251.5 698.3,1251.6 696.8,1251.4 695.4,1250.7 694.2,1249.8 692.5,1249.9 691.1,1249.5 689.8,1248.6 688.3,1248.2 686.8,1248.1 685.4,1247.5 684.1,1246.5 682.6,1246.5 681.1,1246.3 679.7,1245.6 678.4,1244.8 676.8,1244.9 675.4,1244.6 674,1243.9 672.6,1243.5 671.1,1243.4 669.7,1242.9 668.4,1242.1 666.9,1241.8 665.4,1241.5 664,1240.8 662.7,1239.9 661.3,1239.7 660,1239.2 658.8,1238.4 657.6,1237.5 656.2,1237.2 654.9,1236.5 653.7,1235.6 652.5,1234.8 651,1234.3 649.8,1233.6 648.7,1232.5 647.4,1231.9 646,1231.4 644.9,1230.5 643.9,1229.4 642.5,1228.9 641.2,1228.3 640,1227.4 639.1,1226.2 637.5,1225.8 636.3,1225.1 635.3,1224 634.2,1223 632.8,1222.6 631.6,1221.8 630.7,1220.6 629.6,1219.7 628.1,1219.3 627,1218.4 626.2,1217.1 625.1,1216.3 623.6,1215.8 622.5,1214.7 621.9,1213.2 620.3,1212.7 619,1212 618.1,1210.8 617.4,1209.2 615.8,1208.9 614.6,1208.1 613.9,1206.7 613.1,1205.4 611.6,1204.9 610.6,1204 610.1,1202.6 609.1,1201.3 607.6,1200.5 606.8,1199.1 606.8,1197.2 605,1196.5 603.9,1195.3 603.6,1193.7 603,1192.3 601.6,1191.4 600.9,1190.2 600.8,1188.7 600.2,1187.5 598.8,1186.3 598.3,1184.6 598.4,1182.9 597.1,1181.7 596.5,1180.3 596.5,1178.8 596.1,1177.4 595.3,1176.3 594.8,1175.2 594.3,1172.9 593,1171 592.2,1169.3 591.6,1168 591.3,1167.6 590,1167.4 586.4,1166.9 581.4,1166.2 575.7,1165.4 570,1164.5 565,1163.6 560.8,1162.6 556.5,1161.4 552.3,1160.2 548.1,1159 544,1157.7 540,1156.6 534.7,1155 528.9,1153.3 523.5,1151.7 519.6,1150.5 518,1150 517.1,1147.3 516.3,1144.5 517.5,1144.9 520.6,1145.9 525.1,1147.4 530.3,1149 535.4,1150.6 540,1152 544.1,1153.3 548.3,1154.6 552.5,1155.9 556.7,1157.1 560.9,1158.3 565,1159.3 569.5,1160.3 574.2,1161.1 579,1162 583.4,1162.7 587.2,1163.3Z"/>
<path id="lf-bluep" d="M1043.8,1182.1 1045.4,1181 1046.5,1179.8 1047.2,1178.5 1047.6,1177.2 1048.6,1176.1 1048.9,1174.9 1049.3,1173.7 1049.9,1172.4 1050.7,1171.1 1052.5,1171 1053.4,1169.9 1054.4,1168.8 1055.4,1167.7 1056.3,1166.6 1058.2,1166.5 1059,1165.2 1059.6,1163.9 1060.2,1162.6 1060.6,1161.3 1062.3,1160.6 1062.7,1159.2 1063.2,1157.7 1063.8,1156.2 1065.6,1155.4 1066.1,1154.2 1066.7,1152.9 1067.4,1151.5 1068.1,1150.1 1069.8,1149.5 1070.5,1148.1 1071.3,1146.7 1072,1145.4 1072.8,1144.1 1074.4,1143.7 1075.2,1142.7 1076.3,1141.4 1077.3,1140.3 1078.3,1139.3 1079.9,1139.2 1081,1138.4 1082.2,1137.5 1083.5,1136.7 1084.9,1135.9 1086.3,1136 1087.5,1135.4 1088.7,1134.9 1089.9,1134.3 1091.2,1133.8 1092.7,1134 1094.1,1133.4 1095.5,1132.8 1096.9,1132.2 1098.6,1132.2 1100.2,1131.4 1101.3,1130.8 1102.5,1130.2 1103.7,1129.5 1105.2,1129.4 1106.5,1128.7 1107.8,1127.9 1109,1127.2 1110.4,1126.4 1112,1126.3 1113.3,1125.5 1114.6,1124.7 1115.9,1124 1117.2,1123.2 1118.9,1123.3 1120.1,1122.6 1121.5,1121.9 1122.8,1121.1 1124.5,1121.4 1125.8,1120.7 1127.2,1119.9 1128.5,1119.2 1129.8,1118.5 1131.5,1118.9 1132.9,1118.3 1134.2,1117.6 1135.6,1116.9 1137,1116.3 1138.7,1117 1140.1,1116.4 1141.5,1115.9 1142.9,1115.3 1144.3,1114.8 1145.9,1115.8 1147.4,1115.3 1149,1114.9 1150.5,1114.4 1152.1,1115.5 1153.6,1115.1 1155.1,1114.7 1156.5,1114.3 1157.9,1113.9 1159.3,1115.2 1160.5,1114.8 1161.6,1114.5 1162.6,1114.3 1165.1,1113.8 1167.2,1115 1169,1114.9 1170.4,1114.9 1171.3,1114.9 1171.4,1115.5 1171.5,1116.9 1172.6,1117.5 1172.8,1117.9 1173.3,1117.8 1174,1117.7 1175.1,1117.6 1176.3,1117.5 1177.8,1117.4 1179.2,1118.6 1180.9,1118.5 1182.7,1118.3 1184.6,1118.2 1186.4,1119.3 1188.3,1119.2 1190.2,1119.1 1192,1119 1193.6,1120.1 1195.2,1120 1196.5,1120 1197.9,1119.9 1199.2,1121.1 1200.6,1121 1202.1,1120.9 1203.5,1120.8 1205,1120.7 1206.3,1121.9 1207.8,1121.8 1209.3,1121.8 1210.7,1121.7 1212.2,1121.6 1213.4,1122.9 1214.9,1122.9 1216.3,1122.9 1217.7,1122.9 1219,1122.9 1220,1124.3 1221.6,1124.4 1223.1,1124.5 1224.7,1124.7 1226.2,1124.8 1227.1,1126.4 1228.6,1126.6 1230,1126.8 1231.5,1127.1 1232.9,1127.3 1233.7,1129 1235.1,1129.3 1236.5,1129.5 1237.9,1129.8 1239.3,1130 1240,1131.8 1241.5,1132.1 1243.1,1132.4 1244.7,1132.7 1246.2,1133 1247,1134.9 1248.6,1135.2 1250.1,1135.5 1251.6,1135.9 1252.3,1137.8 1253.7,1138.2 1255.2,1138.5 1256.6,1139 1258.1,1139.4 1258.8,1141.3 1260.3,1141.7 1261.8,1142.2 1263.3,1142.7 1264.1,1144.5 1265.5,1145.1 1266.9,1145.6 1268.3,1146.2 1269.7,1146.9 1270.2,1148.6 1271.5,1149.3 1272.7,1150 1274,1150.9 1275.3,1151.8 1275.7,1153.5 1276.9,1154.5 1278,1155.5 1279,1156.5 1280.1,1157.6 1280.3,1159.2 1281.2,1160.3 1282.1,1161.3 1283,1162.4 1283.2,1164.1 1284.1,1165.4 1284.8,1166.7 1285.6,1168.1 1286.2,1169.4 1286.2,1171 1286.8,1172.3 1287.3,1173.7 1287.9,1175 1288.4,1176.4 1288.2,1178 1288.6,1179.4 1288.9,1180.8 1289.3,1182.2 1289.7,1183.6 1289.3,1185.1 1289.8,1186.4 1290.3,1187.5 1291,1189 1291.8,1190.3 1291.9,1191.9 1292.7,1193.1 1293.7,1194.2 1294.6,1195.1 1295.6,1195.9 1296.4,1197.6 1298.1,1198.3 1299.9,1198.9 1301,1200.4 1302.2,1200.7 1302.7,1200.6 1302.3,1200.5 1301.4,1201.1 1300.1,1201.9 1298.5,1202.9 1296.2,1203 1294.5,1204.2 1293,1205.5 1291.9,1206.4 1290.2,1206.2 1289,1207.3 1287.9,1208.4 1286.8,1209.5 1284.9,1209.5 1283.7,1210.7 1282.7,1212 1281.6,1213.2 1280.7,1214.4 1278.9,1214.6 1278.1,1215.9 1277.3,1217.1 1276.6,1218.4 1274.9,1218.9 1274.2,1220.2 1273.5,1221.5 1272.7,1222.9 1271.8,1224.3 1269.9,1224.8 1269.1,1225.9 1268.3,1227 1267.4,1228.2 1266.5,1229.3 1264.8,1229.7 1263.8,1230.9 1262.8,1232 1261.8,1233.2 1260.1,1233.5 1259,1234.7 1257.8,1235.8 1256.7,1236.9 1255.5,1238 1253.8,1238 1252.7,1239 1251.6,1239.9 1250.4,1240.8 1249.2,1241.7 1247.5,1241.6 1246.3,1242.4 1245.1,1243.3 1243.8,1244.2 1242,1244 1240.7,1244.9 1239.4,1245.7 1238.1,1246.6 1236.8,1247.5 1235,1247.2 1233.9,1248 1232.7,1248.8 1231.5,1249.6 1230.3,1250.5 1228.6,1250 1227.4,1250.8 1226.1,1251.6 1224.9,1252.5 1223.7,1253.3 1221.9,1252.6 1220.7,1253.5 1219.4,1254.3 1218.2,1255.1 1217,1255.9 1215.2,1255.1 1214,1255.8 1212.7,1256.6 1211.4,1257.4 1209.6,1256.4 1208.3,1257.2 1207,1257.9 1205.6,1258.7 1204.3,1259.4 1202.5,1258.3 1201.2,1259 1199.8,1259.7 1198.5,1260.4 1197.2,1261 1195.5,1259.8 1194.2,1260.4 1192.9,1261 1191.6,1261.6 1190.3,1262.1 1188.6,1261 1187.1,1261.6 1185.7,1262.1 1184.3,1262.6 1182.9,1263.1 1181.4,1262 1180,1262.5 1178.6,1262.9 1177.2,1263.2 1175.8,1263.5 1174.4,1262.4 1173,1262.7 1171.6,1262.9 1170.1,1263 1168.6,1263.1 1167.3,1261.9 1165.8,1261.9 1164.3,1261.8 1162.8,1261.7 1161.6,1260.4 1160,1260.3 1158.5,1260.1 1157,1259.9 1155.5,1259.7 1154.4,1258.4 1152.9,1258.2 1151.5,1258 1150.1,1257.9 1148.6,1257.7 1147.4,1256.6 1146,1256.4 1144.5,1256.3 1143.2,1256.2 1141.8,1256 1140.6,1254.9 1139.3,1254.8 1137.9,1254.6 1136.5,1254.3 1135.1,1254.1 1134.1,1252.8 1132.7,1252.5 1131.3,1252.1 1130,1251.7 1128.6,1251.2 1127.8,1249.8 1126.4,1249.3 1125.1,1248.7 1123.7,1248.2 1122.3,1247.6 1121.6,1246.1 1120.2,1245.5 1118.8,1245 1117.4,1244.4 1116,1243.9 1115.3,1242.3 1113.9,1241.8 1112.5,1241.4 1111.1,1240.9 1110.3,1239.3 1108.9,1238.9 1107.5,1238.4 1106.1,1238 1104.7,1237.5 1103.9,1235.9 1102.5,1235.4 1101.2,1234.9 1099.8,1234.4 1098.5,1233.8 1097.9,1232.2 1096.5,1231.6 1095.1,1230.9 1093.7,1230.1 1092.4,1229.4 1091.7,1227.7 1090.4,1226.9 1089.1,1226.1 1087.8,1225.3 1087.2,1223.7 1086,1222.9 1084.7,1222 1083.5,1221.2 1082.3,1220.4 1081.7,1218.8 1080.4,1217.9 1079.2,1217 1078,1216.1 1076.8,1215.1 1076.2,1213.6 1075,1212.7 1073.9,1211.7 1072.8,1210.8 1072.3,1209.3 1071.2,1208.4 1070.1,1207.6 1068.9,1206.5 1067.7,1205.5 1067.1,1203.9 1065.9,1202.9 1064.8,1201.9 1063.7,1200.9 1062.6,1199.9 1062.2,1198.3 1061.1,1197.4 1060,1196.4 1058.7,1195.2 1057.9,1193.3 1056.5,1191.9 1055.1,1190.4 1053.8,1188.9 1052.9,1187.5 1052.1,1186.5 1051.5,1185.8 1051.3,1185.6 1050.4,1185.8 1047.8,1186.5 1043.9,1187.6 1039.2,1188.9 1034.1,1190.4 1028.9,1191.9 1024.1,1193.3 1020.1,1194.6 1015.5,1196.1 1011.3,1197.6 1007.2,1199.1 1003.2,1200.6 999.1,1202.2 995,1203.8 990.8,1205.5 986.4,1207.3 982.1,1209.1 977.8,1211 973.8,1212.8 970,1214.6 965.9,1216.7 962.1,1218.9 958.6,1221.1 955.4,1223.2 952.5,1225.1 947.9,1228.5 944.1,1231.7 942.5,1233.1 939.8,1232.6 937,1232.1 936.6,1230.1 936.3,1228.1 938.5,1226.2 945,1222.1 948.2,1220.4 952.1,1218.3 956.5,1216.1 961.1,1213.9 965.7,1211.6 970,1209.6 974.2,1207.7 978.4,1205.8 982.5,1204 986.7,1202.2 990.9,1200.5 995,1198.8 999.2,1197.2 1003.4,1195.6 1007.6,1194 1011.8,1192.5 1016,1191 1020.1,1189.6 1024.3,1188.2 1028.7,1187 1033.1,1185.8 1037.2,1184.7 1040.9,1183.4Z"/>
</defs>
<use href="#lf-binet"/>
<use href="#lf-sparre"/>
<use href="#lf-binet" transform="translate(841.2 0.3)"/>
<use href="#lf-suis"/>
<use href="#lf-gmal"/>
<use href="#lf-spartan"/>
<use href="#lf-paradiso"/>
<use href="#lf-sparre" transform="translate(840.8 242.8)"/>
<use href="#lf-jersey"/>
<use href="#lf-sparre" transform="translate(0.0 486.0)"/>
<use href="#lf-kandil"/>
<use href="#lf-alnarp"/>
<use href="#lf-suis" transform="translate(-1264.0 728.0)"/>
<use href="#lf-mcintosh"/>
<use href="#lf-sparre" transform="translate(415.6 727.0)"/>
<use href="#lf-kas"/>
<use href="#lf-sparre" transform="translate(-424.5 970.5)"/>
<use href="#lf-anna"/>
<use href="#lf-bluep"/>
<use href="#lf-sparre" transform="translate(840.5 970.5)"/>
</g>
<text class="b" x="14.1" y="1411.5" font-size="35">B</text>
<g>
<rect x="188.7" y="1432.9" width="707.2" height="706.4" fill="#fff"/>
<path class="gm" d="M217.5 1432.9V2139.3M341.6 1432.9V2139.3M465.8 1432.9V2139.3M589.9 1432.9V2139.3M714.0 1432.9V2139.3M838.0 1432.9V2139.3M188.7 2056.5H895.9M188.7 1886.9H895.9M188.7 1717.3H895.9M188.7 1547.7H895.9"/>
<path class="gM" d="M279.6 1432.9V2139.3M403.7 1432.9V2139.3M527.8 1432.9V2139.3M651.9 1432.9V2139.3M776.0 1432.9V2139.3M188.7 1971.7H895.9M188.7 1802.1H895.9M188.7 1632.5H895.9M188.7 1462.9H895.9"/>
<g class="d"><circle cx="324.5" cy="1479.8" r="3.4"/><circle cx="419.0" cy="1525.0" r="3.4"/><circle cx="343.6" cy="1566.5" r="3.4"/><circle cx="307.9" cy="1573.0" r="3.4"/><circle cx="249.5" cy="1577.7" r="3.4"/><circle cx="346.0" cy="1579.3" r="3.4"/><circle cx="370.4" cy="1580.3" r="3.4"/><circle cx="299.2" cy="1583.7" r="3.4"/><circle cx="414.6" cy="1589.4" r="3.4"/><circle cx="414.9" cy="1596.5" r="3.4"/><circle cx="354.9" cy="1594.3" r="3.4"/><circle cx="338.0" cy="1604.6" r="3.4"/><circle cx="348.5" cy="1611.9" r="3.4"/><circle cx="350.0" cy="1614.1" r="3.4"/><circle cx="271.8" cy="1619.5" r="3.4"/><circle cx="290.6" cy="1618.5" r="3.4"/><circle cx="338.7" cy="1621.7" r="3.4"/><circle cx="401.4" cy="1619.4" r="3.4"/><circle cx="411.4" cy="1624.2" r="3.4"/><circle cx="439.6" cy="1623.9" r="3.4"/><circle cx="380.3" cy="1629.8" r="3.4"/><circle cx="403.3" cy="1636.1" r="3.4"/><circle cx="397.7" cy="1638.3" r="3.4"/><circle cx="348.0" cy="1639.6" r="3.4"/><circle cx="368.2" cy="1639.1" r="3.4"/><circle cx="376.6" cy="1639.3" r="3.4"/><circle cx="319.2" cy="1640.5" r="3.4"/><circle cx="315.5" cy="1646.7" r="3.4"/><circle cx="294.7" cy="1646.0" r="3.4"/><circle cx="283.4" cy="1647.3" r="3.4"/><circle cx="291.4" cy="1652.0" r="3.4"/><circle cx="438.4" cy="1644.9" r="3.4"/><circle cx="384.1" cy="1652.1" r="3.4"/><circle cx="422.4" cy="1653.7" r="3.4"/><circle cx="251.1" cy="1655.2" r="3.4"/><circle cx="339.7" cy="1659.2" r="3.4"/><circle cx="397.4" cy="1659.2" r="3.4"/><circle cx="429.6" cy="1659.0" r="3.4"/><circle cx="404.0" cy="1661.5" r="3.4"/><circle cx="421.9" cy="1661.5" r="3.4"/><circle cx="380.8" cy="1661.1" r="3.4"/><circle cx="383.8" cy="1662.8" r="3.4"/><circle cx="344.1" cy="1662.8" r="3.4"/><circle cx="348.3" cy="1666.2" r="3.4"/><circle cx="332.1" cy="1665.5" r="3.4"/><circle cx="341.2" cy="1668.4" r="3.4"/><circle cx="366.2" cy="1668.4" r="3.4"/><circle cx="263.5" cy="1667.2" r="3.4"/><circle cx="412.8" cy="1671.5" r="3.4"/><circle cx="364.1" cy="1673.8" r="3.4"/><circle cx="288.2" cy="1676.2" r="3.4"/><circle cx="268.4" cy="1678.7" r="3.4"/><circle cx="314.6" cy="1679.6" r="3.4"/><circle cx="325.1" cy="1679.4" r="3.4"/><circle cx="349.3" cy="1678.7" r="3.4"/><circle cx="389.1" cy="1678.4" r="3.4"/><circle cx="364.4" cy="1680.4" r="3.4"/><circle cx="329.5" cy="1683.1" r="3.4"/><circle cx="380.1" cy="1682.4" r="3.4"/><circle cx="341.2" cy="1684.6" r="3.4"/><circle cx="351.5" cy="1683.1" r="3.4"/><circle cx="286.9" cy="1683.8" r="3.4"/><circle cx="427.8" cy="1684.6" r="3.4"/><circle cx="589.3" cy="1485.2" r="3.4"/><circle cx="559.5" cy="1489.0" r="3.4"/><circle cx="484.3" cy="1512.8" r="3.4"/><circle cx="559.2" cy="1535.6" r="3.4"/><circle cx="565.8" cy="1552.4" r="3.4"/><circle cx="468.3" cy="1563.0" r="3.4"/><circle cx="453.8" cy="1570.5" r="3.4"/><circle cx="534.0" cy="1593.1" r="3.4"/><circle cx="579.5" cy="1594.6" r="3.4"/><circle cx="450.1" cy="1598.2" r="3.4"/><circle cx="553.5" cy="1602.8" r="3.4"/><circle cx="605.9" cy="1605.3" r="3.4"/><circle cx="501.2" cy="1605.3" r="3.4"/><circle cx="513.5" cy="1609.0" r="3.4"/><circle cx="452.3" cy="1612.9" r="3.4"/><circle cx="534.7" cy="1613.8" r="3.4"/><circle cx="441.8" cy="1623.9" r="3.4"/><circle cx="522.4" cy="1624.8" r="3.4"/><circle cx="469.2" cy="1627.6" r="3.4"/><circle cx="463.0" cy="1629.8" r="3.4"/><circle cx="493.9" cy="1635.2" r="3.4"/><circle cx="458.6" cy="1635.7" r="3.4"/><circle cx="462.3" cy="1639.1" r="3.4"/><circle cx="602.1" cy="1642.7" r="3.4"/><circle cx="577.0" cy="1654.5" r="3.4"/><circle cx="633.8" cy="1654.2" r="3.4"/><circle cx="467.9" cy="1658.1" r="3.4"/><circle cx="468.9" cy="1660.8" r="3.4"/><circle cx="453.1" cy="1664.7" r="3.4"/><circle cx="508.8" cy="1666.1" r="3.4"/><circle cx="543.3" cy="1677.7" r="3.4"/><circle cx="464.4" cy="1679.3" r="3.4"/><circle cx="474.6" cy="1680.3" r="3.4"/><circle cx="504.6" cy="1679.1" r="3.4"/><circle cx="508.7" cy="1682.4" r="3.4"/><circle cx="753.6" cy="1491.4" r="3.4"/><circle cx="695.1" cy="1632.9" r="3.4"/><circle cx="734.1" cy="1640.8" r="3.4"/><circle cx="244.3" cy="1695.0" r="3.4"/><circle cx="259.9" cy="1693.1" r="3.4"/><circle cx="264.1" cy="1699.7" r="3.4"/><circle cx="269.3" cy="1699.4" r="3.4"/><circle cx="282.2" cy="1695.0" r="3.4"/><circle cx="284.7" cy="1686.5" r="3.4"/><circle cx="290.6" cy="1686.2" r="3.4"/><circle cx="315.8" cy="1691.6" r="3.4"/><circle cx="322.6" cy="1697.2" r="3.4"/><circle cx="330.9" cy="1690.9" r="3.4"/><circle cx="333.1" cy="1687.2" r="3.4"/><circle cx="338.3" cy="1689.4" r="3.4"/><circle cx="356.2" cy="1697.5" r="3.4"/><circle cx="373.5" cy="1698.7" r="3.4"/><circle cx="377.2" cy="1701.9" r="3.4"/><circle cx="379.4" cy="1690.9" r="3.4"/><circle cx="385.2" cy="1689.4" r="3.4"/><circle cx="388.5" cy="1694.5" r="3.4"/><circle cx="392.6" cy="1693.1" r="3.4"/><circle cx="396.7" cy="1691.6" r="3.4"/><circle cx="424.1" cy="1697.2" r="3.4"/><circle cx="427.5" cy="1686.8" r="3.4"/><circle cx="263.7" cy="1709.2" r="3.4"/><circle cx="287.9" cy="1705.1" r="3.4"/><circle cx="306.7" cy="1701.4" r="3.4"/><circle cx="304.2" cy="1705.6" r="3.4"/><circle cx="311.6" cy="1708.8" r="3.4"/><circle cx="319.2" cy="1711.9" r="3.4"/><circle cx="323.9" cy="1706.7" r="3.4"/><circle cx="329.2" cy="1702.9" r="3.4"/><circle cx="333.1" cy="1707.8" r="3.4"/><circle cx="325.1" cy="1711.4" r="3.4"/><circle cx="346.8" cy="1703.6" r="3.4"/><circle cx="347.1" cy="1711.9" r="3.4"/><circle cx="355.1" cy="1711.9" r="3.4"/><circle cx="369.1" cy="1707.3" r="3.4"/><circle cx="380.1" cy="1713.9" r="3.4"/><circle cx="386.7" cy="1711.0" r="3.4"/><circle cx="394.1" cy="1711.0" r="3.4"/><circle cx="401.8" cy="1711.1" r="3.4"/><circle cx="409.0" cy="1701.9" r="3.4"/><circle cx="414.2" cy="1703.6" r="3.4"/><circle cx="419.4" cy="1708.8" r="3.4"/><circle cx="435.9" cy="1708.0" r="3.4"/><circle cx="234.5" cy="1730.9" r="3.4"/><circle cx="280.6" cy="1727.3" r="3.4"/><circle cx="257.5" cy="1731.7" r="3.4"/><circle cx="263.8" cy="1730.2" r="3.4"/><circle cx="269.3" cy="1732.0" r="3.4"/><circle cx="333.1" cy="1723.2" r="3.4"/><circle cx="336.8" cy="1720.2" r="3.4"/><circle cx="341.2" cy="1719.1" r="3.4"/><circle cx="347.4" cy="1721.0" r="3.4"/><circle cx="325.8" cy="1725.4" r="3.4"/><circle cx="348.5" cy="1726.1" r="3.4"/><circle cx="344.4" cy="1728.0" r="3.4"/><circle cx="365.9" cy="1721.7" r="3.4"/><circle cx="386.4" cy="1719.5" r="3.4"/><circle cx="383.0" cy="1723.2" r="3.4"/><circle cx="390.4" cy="1723.5" r="3.4"/><circle cx="378.2" cy="1728.6" r="3.4"/><circle cx="411.7" cy="1723.9" r="3.4"/><circle cx="435.2" cy="1721.3" r="3.4"/><circle cx="238.4" cy="1735.9" r="3.4"/><circle cx="272.2" cy="1735.6" r="3.4"/><circle cx="267.8" cy="1738.6" r="3.4"/><circle cx="294.2" cy="1732.3" r="3.4"/><circle cx="312.6" cy="1736.7" r="3.4"/><circle cx="322.9" cy="1732.0" r="3.4"/><circle cx="325.8" cy="1729.0" r="3.4"/><circle cx="353.7" cy="1730.2" r="3.4"/><circle cx="353.2" cy="1734.6" r="3.4"/><circle cx="370.6" cy="1731.7" r="3.4"/><circle cx="364.0" cy="1736.4" r="3.4"/><circle cx="368.4" cy="1736.1" r="3.4"/><circle cx="373.5" cy="1735.6" r="3.4"/><circle cx="383.5" cy="1735.4" r="3.4"/><circle cx="390.1" cy="1732.3" r="3.4"/><circle cx="344.1" cy="1739.6" r="3.4"/><circle cx="339.0" cy="1742.5" r="3.4"/><circle cx="281.0" cy="1741.2" r="3.4"/><circle cx="288.6" cy="1742.3" r="3.4"/><circle cx="403.6" cy="1742.3" r="3.4"/><circle cx="438.8" cy="1740.8" r="3.4"/><circle cx="265.6" cy="1746.7" r="3.4"/><circle cx="274.4" cy="1747.4" r="3.4"/><circle cx="270.7" cy="1750.8" r="3.4"/><circle cx="273.7" cy="1754.3" r="3.4"/><circle cx="282.2" cy="1751.1" r="3.4"/><circle cx="282.8" cy="1754.3" r="3.4"/><circle cx="291.7" cy="1748.4" r="3.4"/><circle cx="298.3" cy="1751.4" r="3.4"/><circle cx="322.1" cy="1746.4" r="3.4"/><circle cx="324.3" cy="1751.8" r="3.4"/><circle cx="333.4" cy="1751.5" r="3.4"/><circle cx="353.2" cy="1744.7" r="3.4"/><circle cx="364.7" cy="1744.9" r="3.4"/><circle cx="369.1" cy="1748.1" r="3.4"/><circle cx="375.3" cy="1747.8" r="3.4"/><circle cx="374.2" cy="1751.4" r="3.4"/><circle cx="382.7" cy="1751.5" r="3.4"/><circle cx="393.3" cy="1751.4" r="3.4"/><circle cx="397.0" cy="1748.4" r="3.4"/><circle cx="404.6" cy="1747.4" r="3.4"/><circle cx="409.8" cy="1752.8" r="3.4"/><circle cx="415.3" cy="1751.8" r="3.4"/><circle cx="422.4" cy="1750.6" r="3.4"/><circle cx="314.3" cy="1757.7" r="3.4"/><circle cx="324.3" cy="1756.9" r="3.4"/><circle cx="347.1" cy="1755.5" r="3.4"/><circle cx="364.0" cy="1757.2" r="3.4"/><circle cx="371.6" cy="1757.7" r="3.4"/><circle cx="397.0" cy="1758.0" r="3.4"/><circle cx="439.6" cy="1758.0" r="3.4"/><circle cx="259.4" cy="1761.5" r="3.4"/><circle cx="267.4" cy="1764.7" r="3.4"/><circle cx="272.6" cy="1767.5" r="3.4"/><circle cx="289.8" cy="1762.8" r="3.4"/><circle cx="286.2" cy="1766.5" r="3.4"/><circle cx="304.9" cy="1766.0" r="3.4"/><circle cx="317.3" cy="1766.5" r="3.4"/><circle cx="330.9" cy="1767.2" r="3.4"/><circle cx="340.8" cy="1759.4" r="3.4"/><circle cx="357.8" cy="1761.0" r="3.4"/><circle cx="393.3" cy="1760.9" r="3.4"/><circle cx="384.8" cy="1762.5" r="3.4"/><circle cx="382.0" cy="1766.2" r="3.4"/><circle cx="419.7" cy="1759.9" r="3.4"/><circle cx="430.0" cy="1766.0" r="3.4"/><circle cx="343.4" cy="1772.8" r="3.4"/><circle cx="347.8" cy="1772.8" r="3.4"/><circle cx="352.2" cy="1773.8" r="3.4"/><circle cx="360.3" cy="1773.1" r="3.4"/><circle cx="396.3" cy="1772.3" r="3.4"/><circle cx="400.7" cy="1773.1" r="3.4"/><circle cx="413.1" cy="1770.9" r="3.4"/><circle cx="417.5" cy="1770.6" r="3.4"/><circle cx="421.2" cy="1773.1" r="3.4"/><circle cx="228.2" cy="1773.4" r="3.4"/><circle cx="284.0" cy="1777.2" r="3.4"/><circle cx="291.0" cy="1777.8" r="3.4"/><circle cx="294.2" cy="1780.1" r="3.4"/><circle cx="297.2" cy="1781.4" r="3.4"/><circle cx="310.7" cy="1775.6" r="3.4"/><circle cx="324.3" cy="1774.8" r="3.4"/><circle cx="328.0" cy="1779.0" r="3.4"/><circle cx="333.1" cy="1773.8" r="3.4"/><circle cx="338.3" cy="1777.2" r="3.4"/><circle cx="361.0" cy="1778.2" r="3.4"/><circle cx="365.4" cy="1781.2" r="3.4"/><circle cx="372.0" cy="1779.0" r="3.4"/><circle cx="347.8" cy="1781.6" r="3.4"/><circle cx="355.9" cy="1782.6" r="3.4"/><circle cx="382.3" cy="1779.7" r="3.4"/><circle cx="388.2" cy="1779.0" r="3.4"/><circle cx="392.6" cy="1776.0" r="3.4"/><circle cx="403.6" cy="1777.5" r="3.4"/><circle cx="406.5" cy="1781.2" r="3.4"/><circle cx="414.6" cy="1774.8" r="3.4"/><circle cx="422.7" cy="1779.0" r="3.4"/><circle cx="428.5" cy="1779.2" r="3.4"/><circle cx="434.4" cy="1778.7" r="3.4"/><circle cx="312.6" cy="1783.6" r="3.4"/><circle cx="315.5" cy="1785.9" r="3.4"/><circle cx="335.0" cy="1784.5" r="3.4"/><circle cx="347.8" cy="1785.6" r="3.4"/><circle cx="364.7" cy="1786.3" r="3.4"/><circle cx="380.8" cy="1784.8" r="3.4"/><circle cx="387.4" cy="1787.0" r="3.4"/><circle cx="400.7" cy="1784.8" r="3.4"/><circle cx="397.0" cy="1787.8" r="3.4"/><circle cx="412.4" cy="1785.6" r="3.4"/><circle cx="420.5" cy="1787.0" r="3.4"/><circle cx="247.0" cy="1788.2" r="3.4"/><circle cx="300.8" cy="1791.0" r="3.4"/><circle cx="297.2" cy="1794.8" r="3.4"/><circle cx="302.3" cy="1797.7" r="3.4"/><circle cx="308.5" cy="1795.4" r="3.4"/><circle cx="319.6" cy="1794.7" r="3.4"/><circle cx="331.7" cy="1792.9" r="3.4"/><circle cx="365.4" cy="1790.7" r="3.4"/><circle cx="371.3" cy="1791.0" r="3.4"/><circle cx="361.8" cy="1796.1" r="3.4"/><circle cx="373.5" cy="1795.8" r="3.4"/><circle cx="372.0" cy="1800.5" r="3.4"/><circle cx="381.6" cy="1798.3" r="3.4"/><circle cx="394.8" cy="1792.9" r="3.4"/><circle cx="394.8" cy="1798.3" r="3.4"/><circle cx="402.1" cy="1791.4" r="3.4"/><circle cx="405.8" cy="1794.4" r="3.4"/><circle cx="410.2" cy="1795.4" r="3.4"/><circle cx="407.3" cy="1798.0" r="3.4"/><circle cx="419.7" cy="1795.8" r="3.4"/><circle cx="420.2" cy="1800.7" r="3.4"/><circle cx="431.5" cy="1790.7" r="3.4"/><circle cx="436.6" cy="1797.3" r="3.4"/><circle cx="270.2" cy="1803.2" r="3.4"/><circle cx="283.2" cy="1802.9" r="3.4"/><circle cx="287.6" cy="1802.4" r="3.4"/><circle cx="285.4" cy="1810.5" r="3.4"/><circle cx="293.5" cy="1806.8" r="3.4"/><circle cx="296.4" cy="1809.5" r="3.4"/><circle cx="300.1" cy="1808.0" r="3.4"/><circle cx="299.4" cy="1812.0" r="3.4"/><circle cx="305.2" cy="1811.7" r="3.4"/><circle cx="307.4" cy="1814.9" r="3.4"/><circle cx="310.4" cy="1803.9" r="3.4"/><circle cx="316.0" cy="1806.8" r="3.4"/><circle cx="314.5" cy="1812.4" r="3.4"/><circle cx="329.5" cy="1803.2" r="3.4"/><circle cx="333.9" cy="1806.6" r="3.4"/><circle cx="339.7" cy="1810.8" r="3.4"/><circle cx="323.6" cy="1811.2" r="3.4"/><circle cx="328.0" cy="1814.9" r="3.4"/><circle cx="345.6" cy="1802.9" r="3.4"/><circle cx="359.8" cy="1803.2" r="3.4"/><circle cx="368.8" cy="1807.3" r="3.4"/><circle cx="377.2" cy="1806.1" r="3.4"/><circle cx="380.8" cy="1809.0" r="3.4"/><circle cx="386.7" cy="1808.0" r="3.4"/><circle cx="393.3" cy="1806.6" r="3.4"/><circle cx="382.3" cy="1812.4" r="3.4"/><circle cx="401.4" cy="1813.7" r="3.4"/><circle cx="427.1" cy="1807.6" r="3.4"/><circle cx="365.4" cy="1815.7" r="3.4"/><circle cx="372.0" cy="1814.9" r="3.4"/><circle cx="377.6" cy="1818.3" r="3.4"/><circle cx="389.6" cy="1816.7" r="3.4"/><circle cx="260.9" cy="1813.4" r="3.4"/><circle cx="273.4" cy="1815.2" r="3.4"/><circle cx="426.3" cy="1816.7" r="3.4"/><circle cx="434.4" cy="1815.7" r="3.4"/><circle cx="439.6" cy="1805.4" r="3.4"/><circle cx="289.1" cy="1817.1" r="3.4"/><circle cx="301.3" cy="1823.0" r="3.4"/><circle cx="308.9" cy="1822.3" r="3.4"/><circle cx="328.7" cy="1817.9" r="3.4"/><circle cx="338.6" cy="1820.8" r="3.4"/><circle cx="343.4" cy="1819.3" r="3.4"/><circle cx="347.8" cy="1820.1" r="3.4"/><circle cx="352.2" cy="1820.3" r="3.4"/><circle cx="344.1" cy="1825.9" r="3.4"/><circle cx="352.9" cy="1828.6" r="3.4"/><circle cx="369.8" cy="1821.5" r="3.4"/><circle cx="372.8" cy="1824.5" r="3.4"/><circle cx="397.0" cy="1819.6" r="3.4"/><circle cx="418.3" cy="1820.3" r="3.4"/><circle cx="423.4" cy="1825.9" r="3.4"/><circle cx="402.9" cy="1827.1" r="3.4"/><circle cx="409.5" cy="1824.5" r="3.4"/><circle cx="413.1" cy="1827.4" r="3.4"/><circle cx="395.5" cy="1830.3" r="3.4"/><circle cx="363.2" cy="1831.1" r="3.4"/><circle cx="332.8" cy="1831.4" r="3.4"/><circle cx="255.0" cy="1836.5" r="3.4"/><circle cx="263.7" cy="1835.5" r="3.4"/><circle cx="299.8" cy="1839.1" r="3.4"/><circle cx="307.0" cy="1841.8" r="3.4"/><circle cx="314.8" cy="1837.7" r="3.4"/><circle cx="328.7" cy="1834.7" r="3.4"/><circle cx="326.2" cy="1839.9" r="3.4"/><circle cx="358.1" cy="1834.4" r="3.4"/><circle cx="341.9" cy="1839.1" r="3.4"/><circle cx="345.6" cy="1843.3" r="3.4"/><circle cx="381.6" cy="1839.6" r="3.4"/><circle cx="388.2" cy="1835.5" r="3.4"/><circle cx="392.6" cy="1840.6" r="3.4"/><circle cx="397.7" cy="1835.5" r="3.4"/><circle cx="400.7" cy="1839.1" r="3.4"/><circle cx="407.3" cy="1833.3" r="3.4"/><circle cx="412.4" cy="1836.9" r="3.4"/><circle cx="416.8" cy="1839.1" r="3.4"/><circle cx="433.7" cy="1835.5" r="3.4"/><circle cx="430.8" cy="1840.9" r="3.4"/><circle cx="437.4" cy="1840.6" r="3.4"/><circle cx="285.4" cy="1842.1" r="3.4"/><circle cx="286.9" cy="1847.2" r="3.4"/><circle cx="374.7" cy="1846.5" r="3.4"/><circle cx="384.5" cy="1844.3" r="3.4"/><circle cx="386.7" cy="1847.9" r="3.4"/><circle cx="408.7" cy="1847.2" r="3.4"/><circle cx="416.8" cy="1846.5" r="3.4"/><circle cx="431.5" cy="1846.5" r="3.4"/><circle cx="252.8" cy="1849.4" r="3.4"/><circle cx="281.7" cy="1851.6" r="3.4"/><circle cx="307.0" cy="1849.7" r="3.4"/><circle cx="327.6" cy="1853.8" r="3.4"/><circle cx="340.5" cy="1852.4" r="3.4"/><circle cx="342.7" cy="1855.3" r="3.4"/><circle cx="345.9" cy="1856.5" r="3.4"/><circle cx="360.3" cy="1853.8" r="3.4"/><circle cx="399.2" cy="1849.4" r="3.4"/><circle cx="402.9" cy="1852.4" r="3.4"/><circle cx="402.1" cy="1855.3" r="3.4"/><circle cx="406.5" cy="1853.1" r="3.4"/><circle cx="413.9" cy="1849.4" r="3.4"/><circle cx="426.3" cy="1852.1" r="3.4"/><circle cx="246.2" cy="1857.8" r="3.4"/><circle cx="318.4" cy="1860.4" r="3.4"/><circle cx="323.9" cy="1860.0" r="3.4"/><circle cx="363.7" cy="1860.4" r="3.4"/><circle cx="375.0" cy="1859.7" r="3.4"/><circle cx="386.7" cy="1859.7" r="3.4"/><circle cx="419.7" cy="1858.2" r="3.4"/><circle cx="424.1" cy="1860.4" r="3.4"/><circle cx="307.4" cy="1865.3" r="3.4"/><circle cx="316.2" cy="1867.0" r="3.4"/><circle cx="312.6" cy="1872.2" r="3.4"/><circle cx="334.6" cy="1866.7" r="3.4"/><circle cx="338.3" cy="1867.8" r="3.4"/><circle cx="344.9" cy="1868.8" r="3.4"/><circle cx="359.6" cy="1863.8" r="3.4"/><circle cx="364.3" cy="1865.6" r="3.4"/><circle cx="386.7" cy="1863.8" r="3.4"/><circle cx="390.4" cy="1865.3" r="3.4"/><circle cx="357.4" cy="1872.6" r="3.4"/><circle cx="372.0" cy="1871.4" r="3.4"/><circle cx="380.8" cy="1872.2" r="3.4"/><circle cx="378.3" cy="1875.5" r="3.4"/><circle cx="427.8" cy="1863.8" r="3.4"/><circle cx="428.3" cy="1868.5" r="3.4"/><circle cx="419.0" cy="1867.8" r="3.4"/><circle cx="416.8" cy="1870.7" r="3.4"/><circle cx="276.2" cy="1882.2" r="3.4"/><circle cx="304.9" cy="1881.0" r="3.4"/><circle cx="289.5" cy="1888.0" r="3.4"/><circle cx="338.3" cy="1878.0" r="3.4"/><circle cx="349.3" cy="1881.0" r="3.4"/><circle cx="348.5" cy="1888.0" r="3.4"/><circle cx="363.2" cy="1882.2" r="3.4"/><circle cx="324.3" cy="1889.3" r="3.4"/><circle cx="377.2" cy="1887.3" r="3.4"/><circle cx="372.8" cy="1890.2" r="3.4"/><circle cx="395.5" cy="1881.0" r="3.4"/><circle cx="399.9" cy="1879.5" r="3.4"/><circle cx="404.3" cy="1877.3" r="3.4"/><circle cx="393.3" cy="1888.3" r="3.4"/><circle cx="397.0" cy="1886.8" r="3.4"/><circle cx="411.2" cy="1884.2" r="3.4"/><circle cx="420.5" cy="1885.4" r="3.4"/><circle cx="424.9" cy="1883.9" r="3.4"/><circle cx="429.3" cy="1881.4" r="3.4"/><circle cx="423.4" cy="1888.3" r="3.4"/><circle cx="404.3" cy="1889.8" r="3.4"/><circle cx="436.6" cy="1876.6" r="3.4"/><circle cx="439.6" cy="1880.2" r="3.4"/><circle cx="268.1" cy="1893.7" r="3.4"/><circle cx="302.0" cy="1898.2" r="3.4"/><circle cx="325.1" cy="1895.2" r="3.4"/><circle cx="339.7" cy="1894.5" r="3.4"/><circle cx="356.3" cy="1894.9" r="3.4"/><circle cx="369.1" cy="1897.6" r="3.4"/><circle cx="374.2" cy="1897.9" r="3.4"/><circle cx="378.6" cy="1900.1" r="3.4"/><circle cx="384.5" cy="1893.5" r="3.4"/><circle cx="388.2" cy="1896.4" r="3.4"/><circle cx="392.6" cy="1894.2" r="3.4"/><circle cx="401.4" cy="1896.7" r="3.4"/><circle cx="402.9" cy="1901.1" r="3.4"/><circle cx="393.3" cy="1902.7" r="3.4"/><circle cx="417.2" cy="1894.9" r="3.4"/><circle cx="425.6" cy="1896.8" r="3.4"/><circle cx="420.2" cy="1902.7" r="3.4"/><circle cx="352.5" cy="1902.7" r="3.4"/><circle cx="280.7" cy="1904.0" r="3.4"/><circle cx="311.1" cy="1904.5" r="3.4"/><circle cx="316.0" cy="1905.5" r="3.4"/><circle cx="325.1" cy="1905.2" r="3.4"/><circle cx="339.4" cy="1905.6" r="3.4"/><circle cx="284.7" cy="1913.3" r="3.4"/><circle cx="306.0" cy="1909.9" r="3.4"/><circle cx="325.8" cy="1909.6" r="3.4"/><circle cx="339.7" cy="1911.1" r="3.4"/><circle cx="344.1" cy="1913.3" r="3.4"/><circle cx="367.2" cy="1913.3" r="3.4"/><circle cx="373.8" cy="1908.9" r="3.4"/><circle cx="405.8" cy="1910.0" r="3.4"/><circle cx="414.6" cy="1912.2" r="3.4"/><circle cx="426.8" cy="1911.8" r="3.4"/><circle cx="377.9" cy="1914.7" r="3.4"/><circle cx="382.3" cy="1916.2" r="3.4"/><circle cx="374.2" cy="1919.4" r="3.4"/><circle cx="390.4" cy="1915.5" r="3.4"/><circle cx="394.5" cy="1918.4" r="3.4"/><circle cx="409.9" cy="1920.2" r="3.4"/><circle cx="419.0" cy="1921.1" r="3.4"/><circle cx="422.7" cy="1921.6" r="3.4"/><circle cx="430.0" cy="1923.1" r="3.4"/><circle cx="435.9" cy="1918.4" r="3.4"/><circle cx="323.6" cy="1919.4" r="3.4"/><circle cx="324.8" cy="1924.6" r="3.4"/><circle cx="315.1" cy="1929.0" r="3.4"/><circle cx="353.7" cy="1925.0" r="3.4"/><circle cx="360.3" cy="1926.0" r="3.4"/><circle cx="355.1" cy="1930.9" r="3.4"/><circle cx="386.0" cy="1922.8" r="3.4"/><circle cx="386.7" cy="1927.2" r="3.4"/><circle cx="389.6" cy="1931.6" r="3.4"/><circle cx="395.5" cy="1933.1" r="3.4"/><circle cx="408.7" cy="1933.1" r="3.4"/><circle cx="421.9" cy="1933.1" r="3.4"/><circle cx="430.8" cy="1933.8" r="3.4"/><circle cx="322.9" cy="1934.6" r="3.4"/><circle cx="380.8" cy="1934.6" r="3.4"/><circle cx="449.5" cy="1692.0" r="3.4"/><circle cx="470.8" cy="1688.7" r="3.4"/><circle cx="514.6" cy="1690.1" r="3.4"/><circle cx="477.0" cy="1698.7" r="3.4"/><circle cx="486.5" cy="1698.9" r="3.4"/><circle cx="508.7" cy="1685.0" r="3.4"/><circle cx="455.9" cy="1703.8" r="3.4"/><circle cx="480.7" cy="1704.5" r="3.4"/><circle cx="505.5" cy="1701.1" r="3.4"/><circle cx="525.1" cy="1702.6" r="3.4"/><circle cx="546.0" cy="1703.5" r="3.4"/><circle cx="469.1" cy="1709.7" r="3.4"/><circle cx="499.7" cy="1710.0" r="3.4"/><circle cx="448.1" cy="1714.8" r="3.4"/><circle cx="459.2" cy="1716.4" r="3.4"/><circle cx="472.4" cy="1716.0" r="3.4"/><circle cx="493.3" cy="1718.3" r="3.4"/><circle cx="447.3" cy="1721.7" r="3.4"/><circle cx="511.9" cy="1723.2" r="3.4"/><circle cx="588.3" cy="1718.5" r="3.4"/><circle cx="639.4" cy="1715.5" r="3.4"/><circle cx="548.0" cy="1721.7" r="3.4"/><circle cx="540.6" cy="1724.3" r="3.4"/><circle cx="461.6" cy="1728.3" r="3.4"/><circle cx="486.4" cy="1728.7" r="3.4"/><circle cx="541.4" cy="1729.8" r="3.4"/><circle cx="459.8" cy="1732.7" r="3.4"/><circle cx="456.4" cy="1735.6" r="3.4"/><circle cx="529.1" cy="1733.2" r="3.4"/><circle cx="519.3" cy="1736.4" r="3.4"/><circle cx="523.2" cy="1738.3" r="3.4"/><circle cx="594.0" cy="1733.2" r="3.4"/><circle cx="549.1" cy="1737.8" r="3.4"/><circle cx="445.1" cy="1740.8" r="3.4"/><circle cx="441.5" cy="1740.8" r="3.4"/><circle cx="441.8" cy="1744.5" r="3.4"/><circle cx="467.3" cy="1739.6" r="3.4"/><circle cx="474.8" cy="1741.5" r="3.4"/><circle cx="485.8" cy="1739.3" r="3.4"/><circle cx="494.8" cy="1742.5" r="3.4"/><circle cx="499.0" cy="1743.7" r="3.4"/><circle cx="457.0" cy="1745.2" r="3.4"/><circle cx="475.2" cy="1745.2" r="3.4"/><circle cx="472.6" cy="1746.7" r="3.4"/><circle cx="470.1" cy="1748.9" r="3.4"/><circle cx="525.1" cy="1746.7" r="3.4"/><circle cx="579.9" cy="1745.9" r="3.4"/><circle cx="477.1" cy="1753.4" r="3.4"/><circle cx="486.4" cy="1751.8" r="3.4"/><circle cx="446.6" cy="1755.5" r="3.4"/><circle cx="579.0" cy="1756.9" r="3.4"/><circle cx="441.8" cy="1760.6" r="3.4"/><circle cx="444.4" cy="1763.5" r="3.4"/><circle cx="452.8" cy="1764.6" r="3.4"/><circle cx="472.1" cy="1761.5" r="3.4"/><circle cx="480.7" cy="1761.0" r="3.4"/><circle cx="487.0" cy="1765.4" r="3.4"/><circle cx="494.2" cy="1764.6" r="3.4"/><circle cx="500.2" cy="1761.6" r="3.4"/><circle cx="506.5" cy="1760.7" r="3.4"/><circle cx="515.0" cy="1765.4" r="3.4"/><circle cx="511.8" cy="1769.0" r="3.4"/><circle cx="469.8" cy="1769.6" r="3.4"/><circle cx="575.1" cy="1771.6" r="3.4"/><circle cx="447.3" cy="1772.8" r="3.4"/><circle cx="456.9" cy="1774.3" r="3.4"/><circle cx="463.5" cy="1773.5" r="3.4"/><circle cx="446.6" cy="1776.7" r="3.4"/><circle cx="496.5" cy="1776.3" r="3.4"/><circle cx="498.7" cy="1778.5" r="3.4"/><circle cx="502.7" cy="1777.5" r="3.4"/><circle cx="471.1" cy="1779.4" r="3.4"/><circle cx="465.7" cy="1782.3" r="3.4"/><circle cx="558.2" cy="1780.1" r="3.4"/><circle cx="565.1" cy="1781.6" r="3.4"/><circle cx="442.5" cy="1783.1" r="3.4"/><circle cx="643.2" cy="1786.9" r="3.4"/><circle cx="463.5" cy="1788.2" r="3.4"/><circle cx="471.3" cy="1788.5" r="3.4"/><circle cx="474.9" cy="1787.8" r="3.4"/><circle cx="495.5" cy="1787.8" r="3.4"/><circle cx="441.8" cy="1792.9" r="3.4"/><circle cx="453.5" cy="1792.6" r="3.4"/><circle cx="449.2" cy="1796.1" r="3.4"/><circle cx="457.9" cy="1796.6" r="3.4"/><circle cx="504.3" cy="1793.9" r="3.4"/><circle cx="504.3" cy="1796.1" r="3.4"/><circle cx="493.7" cy="1797.0" r="3.4"/><circle cx="489.9" cy="1800.5" r="3.4"/><circle cx="560.2" cy="1798.9" r="3.4"/><circle cx="530.1" cy="1801.6" r="3.4"/><circle cx="446.9" cy="1803.2" r="3.4"/><circle cx="505.8" cy="1804.6" r="3.4"/><circle cx="519.6" cy="1803.5" r="3.4"/><circle cx="539.7" cy="1806.8" r="3.4"/><circle cx="483.6" cy="1807.6" r="3.4"/><circle cx="441.5" cy="1807.6" r="3.4"/><circle cx="445.1" cy="1811.2" r="3.4"/><circle cx="451.7" cy="1812.4" r="3.4"/><circle cx="455.4" cy="1814.5" r="3.4"/><circle cx="473.6" cy="1811.5" r="3.4"/><circle cx="503.7" cy="1814.2" r="3.4"/><circle cx="512.5" cy="1813.2" r="3.4"/><circle cx="517.8" cy="1815.7" r="3.4"/><circle cx="483.3" cy="1816.8" r="3.4"/><circle cx="475.2" cy="1817.6" r="3.4"/><circle cx="451.0" cy="1818.6" r="3.4"/><circle cx="499.7" cy="1818.6" r="3.4"/><circle cx="490.8" cy="1821.8" r="3.4"/><circle cx="522.5" cy="1822.6" r="3.4"/><circle cx="475.7" cy="1822.3" r="3.4"/><circle cx="442.9" cy="1823.0" r="3.4"/><circle cx="459.5" cy="1823.0" r="3.4"/><circle cx="457.6" cy="1826.4" r="3.4"/><circle cx="468.3" cy="1825.6" r="3.4"/><circle cx="569.2" cy="1823.0" r="3.4"/><circle cx="576.1" cy="1825.2" r="3.4"/><circle cx="589.7" cy="1825.9" r="3.4"/><circle cx="447.6" cy="1835.9" r="3.4"/><circle cx="441.2" cy="1839.1" r="3.4"/><circle cx="459.7" cy="1841.0" r="3.4"/><circle cx="472.4" cy="1842.5" r="3.4"/><circle cx="487.0" cy="1842.2" r="3.4"/><circle cx="497.7" cy="1841.3" r="3.4"/><circle cx="452.5" cy="1845.0" r="3.4"/><circle cx="444.1" cy="1845.7" r="3.4"/><circle cx="614.0" cy="1845.9" r="3.4"/><circle cx="479.6" cy="1851.6" r="3.4"/><circle cx="475.4" cy="1854.3" r="3.4"/><circle cx="514.0" cy="1853.4" r="3.4"/><circle cx="534.7" cy="1854.6" r="3.4"/><circle cx="552.3" cy="1854.3" r="3.4"/><circle cx="623.1" cy="1852.9" r="3.4"/><circle cx="634.5" cy="1853.7" r="3.4"/><circle cx="452.9" cy="1857.6" r="3.4"/><circle cx="506.2" cy="1861.2" r="3.4"/><circle cx="454.7" cy="1865.1" r="3.4"/><circle cx="459.1" cy="1864.4" r="3.4"/><circle cx="460.1" cy="1869.2" r="3.4"/><circle cx="477.1" cy="1864.1" r="3.4"/><circle cx="471.6" cy="1866.3" r="3.4"/><circle cx="558.5" cy="1864.1" r="3.4"/><circle cx="491.4" cy="1869.7" r="3.4"/><circle cx="500.6" cy="1869.5" r="3.4"/><circle cx="497.7" cy="1874.4" r="3.4"/><circle cx="517.8" cy="1873.6" r="3.4"/><circle cx="527.1" cy="1871.4" r="3.4"/><circle cx="528.5" cy="1874.7" r="3.4"/><circle cx="463.0" cy="1875.1" r="3.4"/><circle cx="563.0" cy="1876.7" r="3.4"/><circle cx="487.0" cy="1880.2" r="3.4"/><circle cx="484.0" cy="1882.7" r="3.4"/><circle cx="443.2" cy="1886.1" r="3.4"/><circle cx="455.0" cy="1885.8" r="3.4"/><circle cx="463.0" cy="1889.5" r="3.4"/><circle cx="473.5" cy="1889.1" r="3.4"/><circle cx="496.5" cy="1888.3" r="3.4"/><circle cx="548.3" cy="1889.1" r="3.4"/><circle cx="524.7" cy="1891.3" r="3.4"/><circle cx="514.0" cy="1891.3" r="3.4"/><circle cx="510.3" cy="1894.5" r="3.4"/><circle cx="574.0" cy="1891.7" r="3.4"/><circle cx="449.1" cy="1900.4" r="3.4"/><circle cx="476.8" cy="1899.0" r="3.4"/><circle cx="483.6" cy="1897.1" r="3.4"/><circle cx="488.2" cy="1900.8" r="3.4"/><circle cx="530.1" cy="1900.1" r="3.4"/><circle cx="470.4" cy="1904.2" r="3.4"/><circle cx="489.5" cy="1905.9" r="3.4"/><circle cx="499.5" cy="1908.6" r="3.4"/><circle cx="504.3" cy="1909.6" r="3.4"/><circle cx="530.6" cy="1908.9" r="3.4"/><circle cx="471.6" cy="1913.3" r="3.4"/><circle cx="476.1" cy="1914.0" r="3.4"/><circle cx="579.5" cy="1915.2" r="3.4"/><circle cx="651.0" cy="1911.2" r="3.4"/><circle cx="442.6" cy="1922.1" r="3.4"/><circle cx="526.9" cy="1922.1" r="3.4"/><circle cx="452.8" cy="1926.9" r="3.4"/><circle cx="624.5" cy="1925.9" r="3.4"/><circle cx="598.1" cy="1929.0" r="3.4"/><circle cx="466.6" cy="1929.7" r="3.4"/><circle cx="558.5" cy="1932.4" r="3.4"/><circle cx="442.2" cy="1931.6" r="3.4"/><circle cx="447.3" cy="1933.1" r="3.4"/><circle cx="453.9" cy="1933.1" r="3.4"/><circle cx="523.7" cy="1934.6" r="3.4"/><circle cx="708.7" cy="1737.6" r="3.4"/><circle cx="700.2" cy="1849.1" r="3.4"/><circle cx="253.1" cy="1939.0" r="3.4"/><circle cx="293.2" cy="1940.1" r="3.4"/><circle cx="350.7" cy="1938.7" r="3.4"/><circle cx="359.3" cy="1936.8" r="3.4"/><circle cx="382.0" cy="1937.2" r="3.4"/><circle cx="399.9" cy="1938.7" r="3.4"/><circle cx="401.7" cy="1941.2" r="3.4"/><circle cx="438.8" cy="1940.1" r="3.4"/><circle cx="324.3" cy="1945.3" r="3.4"/><circle cx="328.0" cy="1942.6" r="3.4"/><circle cx="329.5" cy="1945.6" r="3.4"/><circle cx="338.6" cy="1945.0" r="3.4"/><circle cx="361.8" cy="1951.1" r="3.4"/><circle cx="385.2" cy="1947.5" r="3.4"/><circle cx="385.5" cy="1950.4" r="3.4"/><circle cx="397.7" cy="1954.1" r="3.4"/><circle cx="409.0" cy="1958.0" r="3.4"/><circle cx="422.5" cy="1947.5" r="3.4"/><circle cx="433.0" cy="1945.0" r="3.4"/><circle cx="436.6" cy="1947.5" r="3.4"/><circle cx="438.8" cy="1949.7" r="3.4"/><circle cx="393.6" cy="1962.6" r="3.4"/><circle cx="394.3" cy="1966.1" r="3.4"/><circle cx="359.8" cy="1965.8" r="3.4"/><circle cx="372.9" cy="1968.8" r="3.4"/><circle cx="332.8" cy="1969.9" r="3.4"/><circle cx="386.3" cy="1971.3" r="3.4"/><circle cx="415.8" cy="1966.9" r="3.4"/><circle cx="421.5" cy="1968.0" r="3.4"/><circle cx="428.0" cy="1966.6" r="3.4"/><circle cx="294.5" cy="1977.7" r="3.4"/><circle cx="331.1" cy="1977.6" r="3.4"/><circle cx="352.5" cy="1975.1" r="3.4"/><circle cx="361.0" cy="1975.1" r="3.4"/><circle cx="355.6" cy="1981.2" r="3.4"/><circle cx="360.3" cy="1980.5" r="3.4"/><circle cx="325.8" cy="1985.9" r="3.4"/><circle cx="361.8" cy="1988.3" r="3.4"/><circle cx="366.2" cy="1994.2" r="3.4"/><circle cx="389.2" cy="1990.3" r="3.4"/><circle cx="403.0" cy="1981.2" r="3.4"/><circle cx="403.6" cy="1985.9" r="3.4"/><circle cx="411.4" cy="1979.0" r="3.4"/><circle cx="414.2" cy="1980.5" r="3.4"/><circle cx="420.6" cy="1983.2" r="3.4"/><circle cx="351.6" cy="1998.4" r="3.4"/><circle cx="417.8" cy="2011.2" r="3.4"/><circle cx="374.1" cy="2014.1" r="3.4"/><circle cx="386.3" cy="2014.7" r="3.4"/><circle cx="342.7" cy="2017.4" r="3.4"/><circle cx="323.3" cy="2018.2" r="3.4"/><circle cx="432.5" cy="2018.7" r="3.4"/><circle cx="351.3" cy="2031.6" r="3.4"/><circle cx="370.4" cy="2031.2" r="3.4"/><circle cx="328.7" cy="2037.5" r="3.4"/><circle cx="383.5" cy="2039.1" r="3.4"/><circle cx="341.5" cy="2047.2" r="3.4"/><circle cx="317.1" cy="2052.3" r="3.4"/><circle cx="380.8" cy="2059.3" r="3.4"/><circle cx="420.6" cy="2059.6" r="3.4"/><circle cx="431.2" cy="2058.8" r="3.4"/><circle cx="353.5" cy="2075.9" r="3.4"/><circle cx="433.5" cy="2090.9" r="3.4"/><circle cx="450.3" cy="1936.2" r="3.4"/><circle cx="523.7" cy="1936.9" r="3.4"/><circle cx="558.5" cy="1935.0" r="3.4"/><circle cx="442.2" cy="1940.9" r="3.4"/><circle cx="443.7" cy="1944.1" r="3.4"/><circle cx="468.3" cy="1942.0" r="3.4"/><circle cx="452.2" cy="1948.5" r="3.4"/><circle cx="475.4" cy="1949.1" r="3.4"/><circle cx="494.8" cy="1948.4" r="3.4"/><circle cx="511.5" cy="1946.3" r="3.4"/><circle cx="518.1" cy="1949.1" r="3.4"/><circle cx="528.4" cy="1950.1" r="3.4"/><circle cx="456.9" cy="1953.3" r="3.4"/><circle cx="509.1" cy="1958.3" r="3.4"/><circle cx="546.7" cy="1958.5" r="3.4"/><circle cx="446.6" cy="1963.9" r="3.4"/><circle cx="449.8" cy="1967.3" r="3.4"/><circle cx="487.1" cy="1965.4" r="3.4"/><circle cx="487.7" cy="1977.9" r="3.4"/><circle cx="507.8" cy="1980.2" r="3.4"/><circle cx="627.8" cy="1977.3" r="3.4"/><circle cx="445.9" cy="1987.4" r="3.4"/><circle cx="490.4" cy="1990.6" r="3.4"/><circle cx="458.2" cy="1994.0" r="3.4"/><circle cx="464.2" cy="2001.8" r="3.4"/><circle cx="467.2" cy="2003.6" r="3.4"/><circle cx="489.3" cy="2005.9" r="3.4"/><circle cx="453.8" cy="2044.7" r="3.4"/><circle cx="464.1" cy="2047.6" r="3.4"/></g>
<g class="di"><circle cx="324.5" cy="1479.8" r="0.7"/><circle cx="419.0" cy="1525.0" r="0.7"/><circle cx="343.6" cy="1566.5" r="0.7"/><circle cx="307.9" cy="1573.0" r="0.7"/><circle cx="249.5" cy="1577.7" r="0.7"/><circle cx="346.0" cy="1579.3" r="0.7"/><circle cx="370.4" cy="1580.3" r="0.7"/><circle cx="299.2" cy="1583.7" r="0.7"/><circle cx="414.6" cy="1589.4" r="0.7"/><circle cx="414.9" cy="1596.5" r="0.7"/><circle cx="354.9" cy="1594.3" r="0.7"/><circle cx="338.0" cy="1604.6" r="0.7"/><circle cx="348.5" cy="1611.9" r="0.7"/><circle cx="350.0" cy="1614.1" r="0.7"/><circle cx="271.8" cy="1619.5" r="0.7"/><circle cx="290.6" cy="1618.5" r="0.7"/><circle cx="338.7" cy="1621.7" r="0.7"/><circle cx="401.4" cy="1619.4" r="0.7"/><circle cx="411.4" cy="1624.2" r="0.7"/><circle cx="439.6" cy="1623.9" r="0.7"/><circle cx="380.3" cy="1629.8" r="0.7"/><circle cx="403.3" cy="1636.1" r="0.7"/><circle cx="397.7" cy="1638.3" r="0.7"/><circle cx="348.0" cy="1639.6" r="0.7"/><circle cx="368.2" cy="1639.1" r="0.7"/><circle cx="376.6" cy="1639.3" r="0.7"/><circle cx="319.2" cy="1640.5" r="0.7"/><circle cx="315.5" cy="1646.7" r="0.7"/><circle cx="294.7" cy="1646.0" r="0.7"/><circle cx="283.4" cy="1647.3" r="0.7"/><circle cx="291.4" cy="1652.0" r="0.7"/><circle cx="438.4" cy="1644.9" r="0.7"/><circle cx="384.1" cy="1652.1" r="0.7"/><circle cx="422.4" cy="1653.7" r="0.7"/><circle cx="251.1" cy="1655.2" r="0.7"/><circle cx="339.7" cy="1659.2" r="0.7"/><circle cx="397.4" cy="1659.2" r="0.7"/><circle cx="429.6" cy="1659.0" r="0.7"/><circle cx="404.0" cy="1661.5" r="0.7"/><circle cx="421.9" cy="1661.5" r="0.7"/><circle cx="380.8" cy="1661.1" r="0.7"/><circle cx="383.8" cy="1662.8" r="0.7"/><circle cx="344.1" cy="1662.8" r="0.7"/><circle cx="348.3" cy="1666.2" r="0.7"/><circle cx="332.1" cy="1665.5" r="0.7"/><circle cx="341.2" cy="1668.4" r="0.7"/><circle cx="366.2" cy="1668.4" r="0.7"/><circle cx="263.5" cy="1667.2" r="0.7"/><circle cx="412.8" cy="1671.5" r="0.7"/><circle cx="364.1" cy="1673.8" r="0.7"/><circle cx="288.2" cy="1676.2" r="0.7"/><circle cx="268.4" cy="1678.7" r="0.7"/><circle cx="314.6" cy="1679.6" r="0.7"/><circle cx="325.1" cy="1679.4" r="0.7"/><circle cx="349.3" cy="1678.7" r="0.7"/><circle cx="389.1" cy="1678.4" r="0.7"/><circle cx="364.4" cy="1680.4" r="0.7"/><circle cx="329.5" cy="1683.1" r="0.7"/><circle cx="380.1" cy="1682.4" r="0.7"/><circle cx="341.2" cy="1684.6" r="0.7"/><circle cx="351.5" cy="1683.1" r="0.7"/><circle cx="286.9" cy="1683.8" r="0.7"/><circle cx="427.8" cy="1684.6" r="0.7"/><circle cx="589.3" cy="1485.2" r="0.7"/><circle cx="559.5" cy="1489.0" r="0.7"/><circle cx="484.3" cy="1512.8" r="0.7"/><circle cx="559.2" cy="1535.6" r="0.7"/><circle cx="565.8" cy="1552.4" r="0.7"/><circle cx="468.3" cy="1563.0" r="0.7"/><circle cx="453.8" cy="1570.5" r="0.7"/><circle cx="534.0" cy="1593.1" r="0.7"/><circle cx="579.5" cy="1594.6" r="0.7"/><circle cx="450.1" cy="1598.2" r="0.7"/><circle cx="553.5" cy="1602.8" r="0.7"/><circle cx="605.9" cy="1605.3" r="0.7"/><circle cx="501.2" cy="1605.3" r="0.7"/><circle cx="513.5" cy="1609.0" r="0.7"/><circle cx="452.3" cy="1612.9" r="0.7"/><circle cx="534.7" cy="1613.8" r="0.7"/><circle cx="441.8" cy="1623.9" r="0.7"/><circle cx="522.4" cy="1624.8" r="0.7"/><circle cx="469.2" cy="1627.6" r="0.7"/><circle cx="463.0" cy="1629.8" r="0.7"/><circle cx="493.9" cy="1635.2" r="0.7"/><circle cx="458.6" cy="1635.7" r="0.7"/><circle cx="462.3" cy="1639.1" r="0.7"/><circle cx="602.1" cy="1642.7" r="0.7"/><circle cx="577.0" cy="1654.5" r="0.7"/><circle cx="633.8" cy="1654.2" r="0.7"/><circle cx="467.9" cy="1658.1" r="0.7"/><circle cx="468.9" cy="1660.8" r="0.7"/><circle cx="453.1" cy="1664.7" r="0.7"/><circle cx="508.8" cy="1666.1" r="0.7"/><circle cx="543.3" cy="1677.7" r="0.7"/><circle cx="464.4" cy="1679.3" r="0.7"/><circle cx="474.6" cy="1680.3" r="0.7"/><circle cx="504.6" cy="1679.1" r="0.7"/><circle cx="508.7" cy="1682.4" r="0.7"/><circle cx="753.6" cy="1491.4" r="0.7"/><circle cx="695.1" cy="1632.9" r="0.7"/><circle cx="734.1" cy="1640.8" r="0.7"/><circle cx="244.3" cy="1695.0" r="0.7"/><circle cx="259.9" cy="1693.1" r="0.7"/><circle cx="264.1" cy="1699.7" r="0.7"/><circle cx="269.3" cy="1699.4" r="0.7"/><circle cx="282.2" cy="1695.0" r="0.7"/><circle cx="284.7" cy="1686.5" r="0.7"/><circle cx="290.6" cy="1686.2" r="0.7"/><circle cx="315.8" cy="1691.6" r="0.7"/><circle cx="322.6" cy="1697.2" r="0.7"/><circle cx="330.9" cy="1690.9" r="0.7"/><circle cx="333.1" cy="1687.2" r="0.7"/><circle cx="338.3" cy="1689.4" r="0.7"/><circle cx="356.2" cy="1697.5" r="0.7"/><circle cx="373.5" cy="1698.7" r="0.7"/><circle cx="377.2" cy="1701.9" r="0.7"/><circle cx="379.4" cy="1690.9" r="0.7"/><circle cx="385.2" cy="1689.4" r="0.7"/><circle cx="388.5" cy="1694.5" r="0.7"/><circle cx="392.6" cy="1693.1" r="0.7"/><circle cx="396.7" cy="1691.6" r="0.7"/><circle cx="424.1" cy="1697.2" r="0.7"/><circle cx="427.5" cy="1686.8" r="0.7"/><circle cx="263.7" cy="1709.2" r="0.7"/><circle cx="287.9" cy="1705.1" r="0.7"/><circle cx="306.7" cy="1701.4" r="0.7"/><circle cx="304.2" cy="1705.6" r="0.7"/><circle cx="311.6" cy="1708.8" r="0.7"/><circle cx="319.2" cy="1711.9" r="0.7"/><circle cx="323.9" cy="1706.7" r="0.7"/><circle cx="329.2" cy="1702.9" r="0.7"/><circle cx="333.1" cy="1707.8" r="0.7"/><circle cx="325.1" cy="1711.4" r="0.7"/><circle cx="346.8" cy="1703.6" r="0.7"/><circle cx="347.1" cy="1711.9" r="0.7"/><circle cx="355.1" cy="1711.9" r="0.7"/><circle cx="369.1" cy="1707.3" r="0.7"/><circle cx="380.1" cy="1713.9" r="0.7"/><circle cx="386.7" cy="1711.0" r="0.7"/><circle cx="394.1" cy="1711.0" r="0.7"/><circle cx="401.8" cy="1711.1" r="0.7"/><circle cx="409.0" cy="1701.9" r="0.7"/><circle cx="414.2" cy="1703.6" r="0.7"/><circle cx="419.4" cy="1708.8" r="0.7"/><circle cx="435.9" cy="1708.0" r="0.7"/><circle cx="234.5" cy="1730.9" r="0.7"/><circle cx="280.6" cy="1727.3" r="0.7"/><circle cx="257.5" cy="1731.7" r="0.7"/><circle cx="263.8" cy="1730.2" r="0.7"/><circle cx="269.3" cy="1732.0" r="0.7"/><circle cx="333.1" cy="1723.2" r="0.7"/><circle cx="336.8" cy="1720.2" r="0.7"/><circle cx="341.2" cy="1719.1" r="0.7"/><circle cx="347.4" cy="1721.0" r="0.7"/><circle cx="325.8" cy="1725.4" r="0.7"/><circle cx="348.5" cy="1726.1" r="0.7"/><circle cx="344.4" cy="1728.0" r="0.7"/><circle cx="365.9" cy="1721.7" r="0.7"/><circle cx="386.4" cy="1719.5" r="0.7"/><circle cx="383.0" cy="1723.2" r="0.7"/><circle cx="390.4" cy="1723.5" r="0.7"/><circle cx="378.2" cy="1728.6" r="0.7"/><circle cx="411.7" cy="1723.9" r="0.7"/><circle cx="435.2" cy="1721.3" r="0.7"/><circle cx="238.4" cy="1735.9" r="0.7"/><circle cx="272.2" cy="1735.6" r="0.7"/><circle cx="267.8" cy="1738.6" r="0.7"/><circle cx="294.2" cy="1732.3" r="0.7"/><circle cx="312.6" cy="1736.7" r="0.7"/><circle cx="322.9" cy="1732.0" r="0.7"/><circle cx="325.8" cy="1729.0" r="0.7"/><circle cx="353.7" cy="1730.2" r="0.7"/><circle cx="353.2" cy="1734.6" r="0.7"/><circle cx="370.6" cy="1731.7" r="0.7"/><circle cx="364.0" cy="1736.4" r="0.7"/><circle cx="368.4" cy="1736.1" r="0.7"/><circle cx="373.5" cy="1735.6" r="0.7"/><circle cx="383.5" cy="1735.4" r="0.7"/><circle cx="390.1" cy="1732.3" r="0.7"/><circle cx="344.1" cy="1739.6" r="0.7"/><circle cx="339.0" cy="1742.5" r="0.7"/><circle cx="281.0" cy="1741.2" r="0.7"/><circle cx="288.6" cy="1742.3" r="0.7"/><circle cx="403.6" cy="1742.3" r="0.7"/><circle cx="438.8" cy="1740.8" r="0.7"/><circle cx="265.6" cy="1746.7" r="0.7"/><circle cx="274.4" cy="1747.4" r="0.7"/><circle cx="270.7" cy="1750.8" r="0.7"/><circle cx="273.7" cy="1754.3" r="0.7"/><circle cx="282.2" cy="1751.1" r="0.7"/><circle cx="282.8" cy="1754.3" r="0.7"/><circle cx="291.7" cy="1748.4" r="0.7"/><circle cx="298.3" cy="1751.4" r="0.7"/><circle cx="322.1" cy="1746.4" r="0.7"/><circle cx="324.3" cy="1751.8" r="0.7"/><circle cx="333.4" cy="1751.5" r="0.7"/><circle cx="353.2" cy="1744.7" r="0.7"/><circle cx="364.7" cy="1744.9" r="0.7"/><circle cx="369.1" cy="1748.1" r="0.7"/><circle cx="375.3" cy="1747.8" r="0.7"/><circle cx="374.2" cy="1751.4" r="0.7"/><circle cx="382.7" cy="1751.5" r="0.7"/><circle cx="393.3" cy="1751.4" r="0.7"/><circle cx="397.0" cy="1748.4" r="0.7"/><circle cx="404.6" cy="1747.4" r="0.7"/><circle cx="409.8" cy="1752.8" r="0.7"/><circle cx="415.3" cy="1751.8" r="0.7"/><circle cx="422.4" cy="1750.6" r="0.7"/><circle cx="314.3" cy="1757.7" r="0.7"/><circle cx="324.3" cy="1756.9" r="0.7"/><circle cx="347.1" cy="1755.5" r="0.7"/><circle cx="364.0" cy="1757.2" r="0.7"/><circle cx="371.6" cy="1757.7" r="0.7"/><circle cx="397.0" cy="1758.0" r="0.7"/><circle cx="439.6" cy="1758.0" r="0.7"/><circle cx="259.4" cy="1761.5" r="0.7"/><circle cx="267.4" cy="1764.7" r="0.7"/><circle cx="272.6" cy="1767.5" r="0.7"/><circle cx="289.8" cy="1762.8" r="0.7"/><circle cx="286.2" cy="1766.5" r="0.7"/><circle cx="304.9" cy="1766.0" r="0.7"/><circle cx="317.3" cy="1766.5" r="0.7"/><circle cx="330.9" cy="1767.2" r="0.7"/><circle cx="340.8" cy="1759.4" r="0.7"/><circle cx="357.8" cy="1761.0" r="0.7"/><circle cx="393.3" cy="1760.9" r="0.7"/><circle cx="384.8" cy="1762.5" r="0.7"/><circle cx="382.0" cy="1766.2" r="0.7"/><circle cx="419.7" cy="1759.9" r="0.7"/><circle cx="430.0" cy="1766.0" r="0.7"/><circle cx="343.4" cy="1772.8" r="0.7"/><circle cx="347.8" cy="1772.8" r="0.7"/><circle cx="352.2" cy="1773.8" r="0.7"/><circle cx="360.3" cy="1773.1" r="0.7"/><circle cx="396.3" cy="1772.3" r="0.7"/><circle cx="400.7" cy="1773.1" r="0.7"/><circle cx="413.1" cy="1770.9" r="0.7"/><circle cx="417.5" cy="1770.6" r="0.7"/><circle cx="421.2" cy="1773.1" r="0.7"/><circle cx="228.2" cy="1773.4" r="0.7"/><circle cx="284.0" cy="1777.2" r="0.7"/><circle cx="291.0" cy="1777.8" r="0.7"/><circle cx="294.2" cy="1780.1" r="0.7"/><circle cx="297.2" cy="1781.4" r="0.7"/><circle cx="310.7" cy="1775.6" r="0.7"/><circle cx="324.3" cy="1774.8" r="0.7"/><circle cx="328.0" cy="1779.0" r="0.7"/><circle cx="333.1" cy="1773.8" r="0.7"/><circle cx="338.3" cy="1777.2" r="0.7"/><circle cx="361.0" cy="1778.2" r="0.7"/><circle cx="365.4" cy="1781.2" r="0.7"/><circle cx="372.0" cy="1779.0" r="0.7"/><circle cx="347.8" cy="1781.6" r="0.7"/><circle cx="355.9" cy="1782.6" r="0.7"/><circle cx="382.3" cy="1779.7" r="0.7"/><circle cx="388.2" cy="1779.0" r="0.7"/><circle cx="392.6" cy="1776.0" r="0.7"/><circle cx="403.6" cy="1777.5" r="0.7"/><circle cx="406.5" cy="1781.2" r="0.7"/><circle cx="414.6" cy="1774.8" r="0.7"/><circle cx="422.7" cy="1779.0" r="0.7"/><circle cx="428.5" cy="1779.2" r="0.7"/><circle cx="434.4" cy="1778.7" r="0.7"/><circle cx="312.6" cy="1783.6" r="0.7"/><circle cx="315.5" cy="1785.9" r="0.7"/><circle cx="335.0" cy="1784.5" r="0.7"/><circle cx="347.8" cy="1785.6" r="0.7"/><circle cx="364.7" cy="1786.3" r="0.7"/><circle cx="380.8" cy="1784.8" r="0.7"/><circle cx="387.4" cy="1787.0" r="0.7"/><circle cx="400.7" cy="1784.8" r="0.7"/><circle cx="397.0" cy="1787.8" r="0.7"/><circle cx="412.4" cy="1785.6" r="0.7"/><circle cx="420.5" cy="1787.0" r="0.7"/><circle cx="247.0" cy="1788.2" r="0.7"/><circle cx="300.8" cy="1791.0" r="0.7"/><circle cx="297.2" cy="1794.8" r="0.7"/><circle cx="302.3" cy="1797.7" r="0.7"/><circle cx="308.5" cy="1795.4" r="0.7"/><circle cx="319.6" cy="1794.7" r="0.7"/><circle cx="331.7" cy="1792.9" r="0.7"/><circle cx="365.4" cy="1790.7" r="0.7"/><circle cx="371.3" cy="1791.0" r="0.7"/><circle cx="361.8" cy="1796.1" r="0.7"/><circle cx="373.5" cy="1795.8" r="0.7"/><circle cx="372.0" cy="1800.5" r="0.7"/><circle cx="381.6" cy="1798.3" r="0.7"/><circle cx="394.8" cy="1792.9" r="0.7"/><circle cx="394.8" cy="1798.3" r="0.7"/><circle cx="402.1" cy="1791.4" r="0.7"/><circle cx="405.8" cy="1794.4" r="0.7"/><circle cx="410.2" cy="1795.4" r="0.7"/><circle cx="407.3" cy="1798.0" r="0.7"/><circle cx="419.7" cy="1795.8" r="0.7"/><circle cx="420.2" cy="1800.7" r="0.7"/><circle cx="431.5" cy="1790.7" r="0.7"/><circle cx="436.6" cy="1797.3" r="0.7"/><circle cx="270.2" cy="1803.2" r="0.7"/><circle cx="283.2" cy="1802.9" r="0.7"/><circle cx="287.6" cy="1802.4" r="0.7"/><circle cx="285.4" cy="1810.5" r="0.7"/><circle cx="293.5" cy="1806.8" r="0.7"/><circle cx="296.4" cy="1809.5" r="0.7"/><circle cx="300.1" cy="1808.0" r="0.7"/><circle cx="299.4" cy="1812.0" r="0.7"/><circle cx="305.2" cy="1811.7" r="0.7"/><circle cx="307.4" cy="1814.9" r="0.7"/><circle cx="310.4" cy="1803.9" r="0.7"/><circle cx="316.0" cy="1806.8" r="0.7"/><circle cx="314.5" cy="1812.4" r="0.7"/><circle cx="329.5" cy="1803.2" r="0.7"/><circle cx="333.9" cy="1806.6" r="0.7"/><circle cx="339.7" cy="1810.8" r="0.7"/><circle cx="323.6" cy="1811.2" r="0.7"/><circle cx="328.0" cy="1814.9" r="0.7"/><circle cx="345.6" cy="1802.9" r="0.7"/><circle cx="359.8" cy="1803.2" r="0.7"/><circle cx="368.8" cy="1807.3" r="0.7"/><circle cx="377.2" cy="1806.1" r="0.7"/><circle cx="380.8" cy="1809.0" r="0.7"/><circle cx="386.7" cy="1808.0" r="0.7"/><circle cx="393.3" cy="1806.6" r="0.7"/><circle cx="382.3" cy="1812.4" r="0.7"/><circle cx="401.4" cy="1813.7" r="0.7"/><circle cx="427.1" cy="1807.6" r="0.7"/><circle cx="365.4" cy="1815.7" r="0.7"/><circle cx="372.0" cy="1814.9" r="0.7"/><circle cx="377.6" cy="1818.3" r="0.7"/><circle cx="389.6" cy="1816.7" r="0.7"/><circle cx="260.9" cy="1813.4" r="0.7"/><circle cx="273.4" cy="1815.2" r="0.7"/><circle cx="426.3" cy="1816.7" r="0.7"/><circle cx="434.4" cy="1815.7" r="0.7"/><circle cx="439.6" cy="1805.4" r="0.7"/><circle cx="289.1" cy="1817.1" r="0.7"/><circle cx="301.3" cy="1823.0" r="0.7"/><circle cx="308.9" cy="1822.3" r="0.7"/><circle cx="328.7" cy="1817.9" r="0.7"/><circle cx="338.6" cy="1820.8" r="0.7"/><circle cx="343.4" cy="1819.3" r="0.7"/><circle cx="347.8" cy="1820.1" r="0.7"/><circle cx="352.2" cy="1820.3" r="0.7"/><circle cx="344.1" cy="1825.9" r="0.7"/><circle cx="352.9" cy="1828.6" r="0.7"/><circle cx="369.8" cy="1821.5" r="0.7"/><circle cx="372.8" cy="1824.5" r="0.7"/><circle cx="397.0" cy="1819.6" r="0.7"/><circle cx="418.3" cy="1820.3" r="0.7"/><circle cx="423.4" cy="1825.9" r="0.7"/><circle cx="402.9" cy="1827.1" r="0.7"/><circle cx="409.5" cy="1824.5" r="0.7"/><circle cx="413.1" cy="1827.4" r="0.7"/><circle cx="395.5" cy="1830.3" r="0.7"/><circle cx="363.2" cy="1831.1" r="0.7"/><circle cx="332.8" cy="1831.4" r="0.7"/><circle cx="255.0" cy="1836.5" r="0.7"/><circle cx="263.7" cy="1835.5" r="0.7"/><circle cx="299.8" cy="1839.1" r="0.7"/><circle cx="307.0" cy="1841.8" r="0.7"/><circle cx="314.8" cy="1837.7" r="0.7"/><circle cx="328.7" cy="1834.7" r="0.7"/><circle cx="326.2" cy="1839.9" r="0.7"/><circle cx="358.1" cy="1834.4" r="0.7"/><circle cx="341.9" cy="1839.1" r="0.7"/><circle cx="345.6" cy="1843.3" r="0.7"/><circle cx="381.6" cy="1839.6" r="0.7"/><circle cx="388.2" cy="1835.5" r="0.7"/><circle cx="392.6" cy="1840.6" r="0.7"/><circle cx="397.7" cy="1835.5" r="0.7"/><circle cx="400.7" cy="1839.1" r="0.7"/><circle cx="407.3" cy="1833.3" r="0.7"/><circle cx="412.4" cy="1836.9" r="0.7"/><circle cx="416.8" cy="1839.1" r="0.7"/><circle cx="433.7" cy="1835.5" r="0.7"/><circle cx="430.8" cy="1840.9" r="0.7"/><circle cx="437.4" cy="1840.6" r="0.7"/><circle cx="285.4" cy="1842.1" r="0.7"/><circle cx="286.9" cy="1847.2" r="0.7"/><circle cx="374.7" cy="1846.5" r="0.7"/><circle cx="384.5" cy="1844.3" r="0.7"/><circle cx="386.7" cy="1847.9" r="0.7"/><circle cx="408.7" cy="1847.2" r="0.7"/><circle cx="416.8" cy="1846.5" r="0.7"/><circle cx="431.5" cy="1846.5" r="0.7"/><circle cx="252.8" cy="1849.4" r="0.7"/><circle cx="281.7" cy="1851.6" r="0.7"/><circle cx="307.0" cy="1849.7" r="0.7"/><circle cx="327.6" cy="1853.8" r="0.7"/><circle cx="340.5" cy="1852.4" r="0.7"/><circle cx="342.7" cy="1855.3" r="0.7"/><circle cx="345.9" cy="1856.5" r="0.7"/><circle cx="360.3" cy="1853.8" r="0.7"/><circle cx="399.2" cy="1849.4" r="0.7"/><circle cx="402.9" cy="1852.4" r="0.7"/><circle cx="402.1" cy="1855.3" r="0.7"/><circle cx="406.5" cy="1853.1" r="0.7"/><circle cx="413.9" cy="1849.4" r="0.7"/><circle cx="426.3" cy="1852.1" r="0.7"/><circle cx="246.2" cy="1857.8" r="0.7"/><circle cx="318.4" cy="1860.4" r="0.7"/><circle cx="323.9" cy="1860.0" r="0.7"/><circle cx="363.7" cy="1860.4" r="0.7"/><circle cx="375.0" cy="1859.7" r="0.7"/><circle cx="386.7" cy="1859.7" r="0.7"/><circle cx="419.7" cy="1858.2" r="0.7"/><circle cx="424.1" cy="1860.4" r="0.7"/><circle cx="307.4" cy="1865.3" r="0.7"/><circle cx="316.2" cy="1867.0" r="0.7"/><circle cx="312.6" cy="1872.2" r="0.7"/><circle cx="334.6" cy="1866.7" r="0.7"/><circle cx="338.3" cy="1867.8" r="0.7"/><circle cx="344.9" cy="1868.8" r="0.7"/><circle cx="359.6" cy="1863.8" r="0.7"/><circle cx="364.3" cy="1865.6" r="0.7"/><circle cx="386.7" cy="1863.8" r="0.7"/><circle cx="390.4" cy="1865.3" r="0.7"/><circle cx="357.4" cy="1872.6" r="0.7"/><circle cx="372.0" cy="1871.4" r="0.7"/><circle cx="380.8" cy="1872.2" r="0.7"/><circle cx="378.3" cy="1875.5" r="0.7"/><circle cx="427.8" cy="1863.8" r="0.7"/><circle cx="428.3" cy="1868.5" r="0.7"/><circle cx="419.0" cy="1867.8" r="0.7"/><circle cx="416.8" cy="1870.7" r="0.7"/><circle cx="276.2" cy="1882.2" r="0.7"/><circle cx="304.9" cy="1881.0" r="0.7"/><circle cx="289.5" cy="1888.0" r="0.7"/><circle cx="338.3" cy="1878.0" r="0.7"/><circle cx="349.3" cy="1881.0" r="0.7"/><circle cx="348.5" cy="1888.0" r="0.7"/><circle cx="363.2" cy="1882.2" r="0.7"/><circle cx="324.3" cy="1889.3" r="0.7"/><circle cx="377.2" cy="1887.3" r="0.7"/><circle cx="372.8" cy="1890.2" r="0.7"/><circle cx="395.5" cy="1881.0" r="0.7"/><circle cx="399.9" cy="1879.5" r="0.7"/><circle cx="404.3" cy="1877.3" r="0.7"/><circle cx="393.3" cy="1888.3" r="0.7"/><circle cx="397.0" cy="1886.8" r="0.7"/><circle cx="411.2" cy="1884.2" r="0.7"/><circle cx="420.5" cy="1885.4" r="0.7"/><circle cx="424.9" cy="1883.9" r="0.7"/><circle cx="429.3" cy="1881.4" r="0.7"/><circle cx="423.4" cy="1888.3" r="0.7"/><circle cx="404.3" cy="1889.8" r="0.7"/><circle cx="436.6" cy="1876.6" r="0.7"/><circle cx="439.6" cy="1880.2" r="0.7"/><circle cx="268.1" cy="1893.7" r="0.7"/><circle cx="302.0" cy="1898.2" r="0.7"/><circle cx="325.1" cy="1895.2" r="0.7"/><circle cx="339.7" cy="1894.5" r="0.7"/><circle cx="356.3" cy="1894.9" r="0.7"/><circle cx="369.1" cy="1897.6" r="0.7"/><circle cx="374.2" cy="1897.9" r="0.7"/><circle cx="378.6" cy="1900.1" r="0.7"/><circle cx="384.5" cy="1893.5" r="0.7"/><circle cx="388.2" cy="1896.4" r="0.7"/><circle cx="392.6" cy="1894.2" r="0.7"/><circle cx="401.4" cy="1896.7" r="0.7"/><circle cx="402.9" cy="1901.1" r="0.7"/><circle cx="393.3" cy="1902.7" r="0.7"/><circle cx="417.2" cy="1894.9" r="0.7"/><circle cx="425.6" cy="1896.8" r="0.7"/><circle cx="420.2" cy="1902.7" r="0.7"/><circle cx="352.5" cy="1902.7" r="0.7"/><circle cx="280.7" cy="1904.0" r="0.7"/><circle cx="311.1" cy="1904.5" r="0.7"/><circle cx="316.0" cy="1905.5" r="0.7"/><circle cx="325.1" cy="1905.2" r="0.7"/><circle cx="339.4" cy="1905.6" r="0.7"/><circle cx="284.7" cy="1913.3" r="0.7"/><circle cx="306.0" cy="1909.9" r="0.7"/><circle cx="325.8" cy="1909.6" r="0.7"/><circle cx="339.7" cy="1911.1" r="0.7"/><circle cx="344.1" cy="1913.3" r="0.7"/><circle cx="367.2" cy="1913.3" r="0.7"/><circle cx="373.8" cy="1908.9" r="0.7"/><circle cx="405.8" cy="1910.0" r="0.7"/><circle cx="414.6" cy="1912.2" r="0.7"/><circle cx="426.8" cy="1911.8" r="0.7"/><circle cx="377.9" cy="1914.7" r="0.7"/><circle cx="382.3" cy="1916.2" r="0.7"/><circle cx="374.2" cy="1919.4" r="0.7"/><circle cx="390.4" cy="1915.5" r="0.7"/><circle cx="394.5" cy="1918.4" r="0.7"/><circle cx="409.9" cy="1920.2" r="0.7"/><circle cx="419.0" cy="1921.1" r="0.7"/><circle cx="422.7" cy="1921.6" r="0.7"/><circle cx="430.0" cy="1923.1" r="0.7"/><circle cx="435.9" cy="1918.4" r="0.7"/><circle cx="323.6" cy="1919.4" r="0.7"/><circle cx="324.8" cy="1924.6" r="0.7"/><circle cx="315.1" cy="1929.0" r="0.7"/><circle cx="353.7" cy="1925.0" r="0.7"/><circle cx="360.3" cy="1926.0" r="0.7"/><circle cx="355.1" cy="1930.9" r="0.7"/><circle cx="386.0" cy="1922.8" r="0.7"/><circle cx="386.7" cy="1927.2" r="0.7"/><circle cx="389.6" cy="1931.6" r="0.7"/><circle cx="395.5" cy="1933.1" r="0.7"/><circle cx="408.7" cy="1933.1" r="0.7"/><circle cx="421.9" cy="1933.1" r="0.7"/><circle cx="430.8" cy="1933.8" r="0.7"/><circle cx="322.9" cy="1934.6" r="0.7"/><circle cx="380.8" cy="1934.6" r="0.7"/><circle cx="449.5" cy="1692.0" r="0.7"/><circle cx="470.8" cy="1688.7" r="0.7"/><circle cx="514.6" cy="1690.1" r="0.7"/><circle cx="477.0" cy="1698.7" r="0.7"/><circle cx="486.5" cy="1698.9" r="0.7"/><circle cx="508.7" cy="1685.0" r="0.7"/><circle cx="455.9" cy="1703.8" r="0.7"/><circle cx="480.7" cy="1704.5" r="0.7"/><circle cx="505.5" cy="1701.1" r="0.7"/><circle cx="525.1" cy="1702.6" r="0.7"/><circle cx="546.0" cy="1703.5" r="0.7"/><circle cx="469.1" cy="1709.7" r="0.7"/><circle cx="499.7" cy="1710.0" r="0.7"/><circle cx="448.1" cy="1714.8" r="0.7"/><circle cx="459.2" cy="1716.4" r="0.7"/><circle cx="472.4" cy="1716.0" r="0.7"/><circle cx="493.3" cy="1718.3" r="0.7"/><circle cx="447.3" cy="1721.7" r="0.7"/><circle cx="511.9" cy="1723.2" r="0.7"/><circle cx="588.3" cy="1718.5" r="0.7"/><circle cx="639.4" cy="1715.5" r="0.7"/><circle cx="548.0" cy="1721.7" r="0.7"/><circle cx="540.6" cy="1724.3" r="0.7"/><circle cx="461.6" cy="1728.3" r="0.7"/><circle cx="486.4" cy="1728.7" r="0.7"/><circle cx="541.4" cy="1729.8" r="0.7"/><circle cx="459.8" cy="1732.7" r="0.7"/><circle cx="456.4" cy="1735.6" r="0.7"/><circle cx="529.1" cy="1733.2" r="0.7"/><circle cx="519.3" cy="1736.4" r="0.7"/><circle cx="523.2" cy="1738.3" r="0.7"/><circle cx="594.0" cy="1733.2" r="0.7"/><circle cx="549.1" cy="1737.8" r="0.7"/><circle cx="445.1" cy="1740.8" r="0.7"/><circle cx="441.5" cy="1740.8" r="0.7"/><circle cx="441.8" cy="1744.5" r="0.7"/><circle cx="467.3" cy="1739.6" r="0.7"/><circle cx="474.8" cy="1741.5" r="0.7"/><circle cx="485.8" cy="1739.3" r="0.7"/><circle cx="494.8" cy="1742.5" r="0.7"/><circle cx="499.0" cy="1743.7" r="0.7"/><circle cx="457.0" cy="1745.2" r="0.7"/><circle cx="475.2" cy="1745.2" r="0.7"/><circle cx="472.6" cy="1746.7" r="0.7"/><circle cx="470.1" cy="1748.9" r="0.7"/><circle cx="525.1" cy="1746.7" r="0.7"/><circle cx="579.9" cy="1745.9" r="0.7"/><circle cx="477.1" cy="1753.4" r="0.7"/><circle cx="486.4" cy="1751.8" r="0.7"/><circle cx="446.6" cy="1755.5" r="0.7"/><circle cx="579.0" cy="1756.9" r="0.7"/><circle cx="441.8" cy="1760.6" r="0.7"/><circle cx="444.4" cy="1763.5" r="0.7"/><circle cx="452.8" cy="1764.6" r="0.7"/><circle cx="472.1" cy="1761.5" r="0.7"/><circle cx="480.7" cy="1761.0" r="0.7"/><circle cx="487.0" cy="1765.4" r="0.7"/><circle cx="494.2" cy="1764.6" r="0.7"/><circle cx="500.2" cy="1761.6" r="0.7"/><circle cx="506.5" cy="1760.7" r="0.7"/><circle cx="515.0" cy="1765.4" r="0.7"/><circle cx="511.8" cy="1769.0" r="0.7"/><circle cx="469.8" cy="1769.6" r="0.7"/><circle cx="575.1" cy="1771.6" r="0.7"/><circle cx="447.3" cy="1772.8" r="0.7"/><circle cx="456.9" cy="1774.3" r="0.7"/><circle cx="463.5" cy="1773.5" r="0.7"/><circle cx="446.6" cy="1776.7" r="0.7"/><circle cx="496.5" cy="1776.3" r="0.7"/><circle cx="498.7" cy="1778.5" r="0.7"/><circle cx="502.7" cy="1777.5" r="0.7"/><circle cx="471.1" cy="1779.4" r="0.7"/><circle cx="465.7" cy="1782.3" r="0.7"/><circle cx="558.2" cy="1780.1" r="0.7"/><circle cx="565.1" cy="1781.6" r="0.7"/><circle cx="442.5" cy="1783.1" r="0.7"/><circle cx="643.2" cy="1786.9" r="0.7"/><circle cx="463.5" cy="1788.2" r="0.7"/><circle cx="471.3" cy="1788.5" r="0.7"/><circle cx="474.9" cy="1787.8" r="0.7"/><circle cx="495.5" cy="1787.8" r="0.7"/><circle cx="441.8" cy="1792.9" r="0.7"/><circle cx="453.5" cy="1792.6" r="0.7"/><circle cx="449.2" cy="1796.1" r="0.7"/><circle cx="457.9" cy="1796.6" r="0.7"/><circle cx="504.3" cy="1793.9" r="0.7"/><circle cx="504.3" cy="1796.1" r="0.7"/><circle cx="493.7" cy="1797.0" r="0.7"/><circle cx="489.9" cy="1800.5" r="0.7"/><circle cx="560.2" cy="1798.9" r="0.7"/><circle cx="530.1" cy="1801.6" r="0.7"/><circle cx="446.9" cy="1803.2" r="0.7"/><circle cx="505.8" cy="1804.6" r="0.7"/><circle cx="519.6" cy="1803.5" r="0.7"/><circle cx="539.7" cy="1806.8" r="0.7"/><circle cx="483.6" cy="1807.6" r="0.7"/><circle cx="441.5" cy="1807.6" r="0.7"/><circle cx="445.1" cy="1811.2" r="0.7"/><circle cx="451.7" cy="1812.4" r="0.7"/><circle cx="455.4" cy="1814.5" r="0.7"/><circle cx="473.6" cy="1811.5" r="0.7"/><circle cx="503.7" cy="1814.2" r="0.7"/><circle cx="512.5" cy="1813.2" r="0.7"/><circle cx="517.8" cy="1815.7" r="0.7"/><circle cx="483.3" cy="1816.8" r="0.7"/><circle cx="475.2" cy="1817.6" r="0.7"/><circle cx="451.0" cy="1818.6" r="0.7"/><circle cx="499.7" cy="1818.6" r="0.7"/><circle cx="490.8" cy="1821.8" r="0.7"/><circle cx="522.5" cy="1822.6" r="0.7"/><circle cx="475.7" cy="1822.3" r="0.7"/><circle cx="442.9" cy="1823.0" r="0.7"/><circle cx="459.5" cy="1823.0" r="0.7"/><circle cx="457.6" cy="1826.4" r="0.7"/><circle cx="468.3" cy="1825.6" r="0.7"/><circle cx="569.2" cy="1823.0" r="0.7"/><circle cx="576.1" cy="1825.2" r="0.7"/><circle cx="589.7" cy="1825.9" r="0.7"/><circle cx="447.6" cy="1835.9" r="0.7"/><circle cx="441.2" cy="1839.1" r="0.7"/><circle cx="459.7" cy="1841.0" r="0.7"/><circle cx="472.4" cy="1842.5" r="0.7"/><circle cx="487.0" cy="1842.2" r="0.7"/><circle cx="497.7" cy="1841.3" r="0.7"/><circle cx="452.5" cy="1845.0" r="0.7"/><circle cx="444.1" cy="1845.7" r="0.7"/><circle cx="614.0" cy="1845.9" r="0.7"/><circle cx="479.6" cy="1851.6" r="0.7"/><circle cx="475.4" cy="1854.3" r="0.7"/><circle cx="514.0" cy="1853.4" r="0.7"/><circle cx="534.7" cy="1854.6" r="0.7"/><circle cx="552.3" cy="1854.3" r="0.7"/><circle cx="623.1" cy="1852.9" r="0.7"/><circle cx="634.5" cy="1853.7" r="0.7"/><circle cx="452.9" cy="1857.6" r="0.7"/><circle cx="506.2" cy="1861.2" r="0.7"/><circle cx="454.7" cy="1865.1" r="0.7"/><circle cx="459.1" cy="1864.4" r="0.7"/><circle cx="460.1" cy="1869.2" r="0.7"/><circle cx="477.1" cy="1864.1" r="0.7"/><circle cx="471.6" cy="1866.3" r="0.7"/><circle cx="558.5" cy="1864.1" r="0.7"/><circle cx="491.4" cy="1869.7" r="0.7"/><circle cx="500.6" cy="1869.5" r="0.7"/><circle cx="497.7" cy="1874.4" r="0.7"/><circle cx="517.8" cy="1873.6" r="0.7"/><circle cx="527.1" cy="1871.4" r="0.7"/><circle cx="528.5" cy="1874.7" r="0.7"/><circle cx="463.0" cy="1875.1" r="0.7"/><circle cx="563.0" cy="1876.7" r="0.7"/><circle cx="487.0" cy="1880.2" r="0.7"/><circle cx="484.0" cy="1882.7" r="0.7"/><circle cx="443.2" cy="1886.1" r="0.7"/><circle cx="455.0" cy="1885.8" r="0.7"/><circle cx="463.0" cy="1889.5" r="0.7"/><circle cx="473.5" cy="1889.1" r="0.7"/><circle cx="496.5" cy="1888.3" r="0.7"/><circle cx="548.3" cy="1889.1" r="0.7"/><circle cx="524.7" cy="1891.3" r="0.7"/><circle cx="514.0" cy="1891.3" r="0.7"/><circle cx="510.3" cy="1894.5" r="0.7"/><circle cx="574.0" cy="1891.7" r="0.7"/><circle cx="449.1" cy="1900.4" r="0.7"/><circle cx="476.8" cy="1899.0" r="0.7"/><circle cx="483.6" cy="1897.1" r="0.7"/><circle cx="488.2" cy="1900.8" r="0.7"/><circle cx="530.1" cy="1900.1" r="0.7"/><circle cx="470.4" cy="1904.2" r="0.7"/><circle cx="489.5" cy="1905.9" r="0.7"/><circle cx="499.5" cy="1908.6" r="0.7"/><circle cx="504.3" cy="1909.6" r="0.7"/><circle cx="530.6" cy="1908.9" r="0.7"/><circle cx="471.6" cy="1913.3" r="0.7"/><circle cx="476.1" cy="1914.0" r="0.7"/><circle cx="579.5" cy="1915.2" r="0.7"/><circle cx="651.0" cy="1911.2" r="0.7"/><circle cx="442.6" cy="1922.1" r="0.7"/><circle cx="526.9" cy="1922.1" r="0.7"/><circle cx="452.8" cy="1926.9" r="0.7"/><circle cx="624.5" cy="1925.9" r="0.7"/><circle cx="598.1" cy="1929.0" r="0.7"/><circle cx="466.6" cy="1929.7" r="0.7"/><circle cx="558.5" cy="1932.4" r="0.7"/><circle cx="442.2" cy="1931.6" r="0.7"/><circle cx="447.3" cy="1933.1" r="0.7"/><circle cx="453.9" cy="1933.1" r="0.7"/><circle cx="523.7" cy="1934.6" r="0.7"/><circle cx="708.7" cy="1737.6" r="0.7"/><circle cx="700.2" cy="1849.1" r="0.7"/><circle cx="253.1" cy="1939.0" r="0.7"/><circle cx="293.2" cy="1940.1" r="0.7"/><circle cx="350.7" cy="1938.7" r="0.7"/><circle cx="359.3" cy="1936.8" r="0.7"/><circle cx="382.0" cy="1937.2" r="0.7"/><circle cx="399.9" cy="1938.7" r="0.7"/><circle cx="401.7" cy="1941.2" r="0.7"/><circle cx="438.8" cy="1940.1" r="0.7"/><circle cx="324.3" cy="1945.3" r="0.7"/><circle cx="328.0" cy="1942.6" r="0.7"/><circle cx="329.5" cy="1945.6" r="0.7"/><circle cx="338.6" cy="1945.0" r="0.7"/><circle cx="361.8" cy="1951.1" r="0.7"/><circle cx="385.2" cy="1947.5" r="0.7"/><circle cx="385.5" cy="1950.4" r="0.7"/><circle cx="397.7" cy="1954.1" r="0.7"/><circle cx="409.0" cy="1958.0" r="0.7"/><circle cx="422.5" cy="1947.5" r="0.7"/><circle cx="433.0" cy="1945.0" r="0.7"/><circle cx="436.6" cy="1947.5" r="0.7"/><circle cx="438.8" cy="1949.7" r="0.7"/><circle cx="393.6" cy="1962.6" r="0.7"/><circle cx="394.3" cy="1966.1" r="0.7"/><circle cx="359.8" cy="1965.8" r="0.7"/><circle cx="372.9" cy="1968.8" r="0.7"/><circle cx="332.8" cy="1969.9" r="0.7"/><circle cx="386.3" cy="1971.3" r="0.7"/><circle cx="415.8" cy="1966.9" r="0.7"/><circle cx="421.5" cy="1968.0" r="0.7"/><circle cx="428.0" cy="1966.6" r="0.7"/><circle cx="294.5" cy="1977.7" r="0.7"/><circle cx="331.1" cy="1977.6" r="0.7"/><circle cx="352.5" cy="1975.1" r="0.7"/><circle cx="361.0" cy="1975.1" r="0.7"/><circle cx="355.6" cy="1981.2" r="0.7"/><circle cx="360.3" cy="1980.5" r="0.7"/><circle cx="325.8" cy="1985.9" r="0.7"/><circle cx="361.8" cy="1988.3" r="0.7"/><circle cx="366.2" cy="1994.2" r="0.7"/><circle cx="389.2" cy="1990.3" r="0.7"/><circle cx="403.0" cy="1981.2" r="0.7"/><circle cx="403.6" cy="1985.9" r="0.7"/><circle cx="411.4" cy="1979.0" r="0.7"/><circle cx="414.2" cy="1980.5" r="0.7"/><circle cx="420.6" cy="1983.2" r="0.7"/><circle cx="351.6" cy="1998.4" r="0.7"/><circle cx="417.8" cy="2011.2" r="0.7"/><circle cx="374.1" cy="2014.1" r="0.7"/><circle cx="386.3" cy="2014.7" r="0.7"/><circle cx="342.7" cy="2017.4" r="0.7"/><circle cx="323.3" cy="2018.2" r="0.7"/><circle cx="432.5" cy="2018.7" r="0.7"/><circle cx="351.3" cy="2031.6" r="0.7"/><circle cx="370.4" cy="2031.2" r="0.7"/><circle cx="328.7" cy="2037.5" r="0.7"/><circle cx="383.5" cy="2039.1" r="0.7"/><circle cx="341.5" cy="2047.2" r="0.7"/><circle cx="317.1" cy="2052.3" r="0.7"/><circle cx="380.8" cy="2059.3" r="0.7"/><circle cx="420.6" cy="2059.6" r="0.7"/><circle cx="431.2" cy="2058.8" r="0.7"/><circle cx="353.5" cy="2075.9" r="0.7"/><circle cx="433.5" cy="2090.9" r="0.7"/><circle cx="450.3" cy="1936.2" r="0.7"/><circle cx="523.7" cy="1936.9" r="0.7"/><circle cx="558.5" cy="1935.0" r="0.7"/><circle cx="442.2" cy="1940.9" r="0.7"/><circle cx="443.7" cy="1944.1" r="0.7"/><circle cx="468.3" cy="1942.0" r="0.7"/><circle cx="452.2" cy="1948.5" r="0.7"/><circle cx="475.4" cy="1949.1" r="0.7"/><circle cx="494.8" cy="1948.4" r="0.7"/><circle cx="511.5" cy="1946.3" r="0.7"/><circle cx="518.1" cy="1949.1" r="0.7"/><circle cx="528.4" cy="1950.1" r="0.7"/><circle cx="456.9" cy="1953.3" r="0.7"/><circle cx="509.1" cy="1958.3" r="0.7"/><circle cx="546.7" cy="1958.5" r="0.7"/><circle cx="446.6" cy="1963.9" r="0.7"/><circle cx="449.8" cy="1967.3" r="0.7"/><circle cx="487.1" cy="1965.4" r="0.7"/><circle cx="487.7" cy="1977.9" r="0.7"/><circle cx="507.8" cy="1980.2" r="0.7"/><circle cx="627.8" cy="1977.3" r="0.7"/><circle cx="445.9" cy="1987.4" r="0.7"/><circle cx="490.4" cy="1990.6" r="0.7"/><circle cx="458.2" cy="1994.0" r="0.7"/><circle cx="464.2" cy="2001.8" r="0.7"/><circle cx="467.2" cy="2003.6" r="0.7"/><circle cx="489.3" cy="2005.9" r="0.7"/><circle cx="453.8" cy="2044.7" r="0.7"/><circle cx="464.1" cy="2047.6" r="0.7"/></g>
<circle cx="392.1" cy="1464.8" r="3.8" fill="#6f7878" stroke="#5a5a5a" stroke-width="1.2"/><circle cx="392.1" cy="1464.8" r="1" fill="#9cf060"/>
<path class="ld" d="M402.2 1463.6L431.6 1463.6"/>
<text class="lb" x="442.5" y="1470.6" text-anchor="start">Spartan</text>
<circle cx="863.2" cy="1485.6" r="3.8" fill="#6f7878" stroke="#5a5a5a" stroke-width="1.2"/><circle cx="863.2" cy="1485.6" r="1" fill="#6a6ae0"/>
<path class="ld" d="M862.7 1497.4L862.7 1550.2"/>
<text class="lb" x="773.5" y="1570.6" text-anchor="start">Sparreholm</text>
<circle cx="220.4" cy="1726.7" r="3.8" fill="#6f7878" stroke="#5a5a5a" stroke-width="1.2"/><circle cx="220.4" cy="1726.7" r="1" fill="#e0506a"/>
<path class="ld" d="M219.4 1613.4L219.4 1714.5"/>
<text class="lb" x="197.2" y="1606.2" text-anchor="start">Binet Rouge</text>
<circle cx="474.2" cy="2107.5" r="3.8" fill="#6f7878" stroke="#5a5a5a" stroke-width="1.2"/><circle cx="474.2" cy="2107.5" r="1" fill="#e8e860"/>
<path class="ld" d="M484.2 2107.9L512.8 2107.9"/>
<text class="lb" x="518.9" y="2114.6" text-anchor="start">GMAL 2251</text>
<rect x="188.7" y="1432.9" width="707.2" height="706.4" fill="none" stroke="#fff" stroke-width="7"/>
<rect x="188.7" y="1432.9" width="707.2" height="706.4" fill="none" stroke="#0c0c0c" stroke-width="3.6"/>
<path class="tk" d="M279.6 2140.8v10.6M403.7 2140.8v10.6M527.8 2140.8v10.6M651.9 2140.8v10.6M776.0 2140.8v10.6M187.2 1971.7h-10.6M187.2 1802.1h-10.6M187.2 1632.5h-10.6M187.2 1462.9h-10.6"/>
<text class="ax" transform="translate(283.1 2189.3) scale(.94 1)" text-anchor="middle">−0.1</text>
<text class="ax" transform="translate(403.2 2189.3) scale(.94 1)" text-anchor="middle">0.0</text>
<text class="ax" transform="translate(527.3 2189.3) scale(.94 1)" text-anchor="middle">0.1</text>
<text class="ax" transform="translate(651.6 2189.3) scale(.94 1)" text-anchor="middle">0.2</text>
<text class="ax" transform="translate(776.0 2189.3) scale(.94 1)" text-anchor="middle">0.3</text>
<text class="ax" transform="translate(166.6 1982.7) scale(.94 1)" text-anchor="end">−0.04</text>
<text class="ax" transform="translate(166.6 1813.1) scale(.94 1)" text-anchor="end">0.00</text>
<text class="ax" transform="translate(166.6 1643.5) scale(.94 1)" text-anchor="end">0.04</text>
<text class="ax" transform="translate(166.6 1473.9) scale(.94 1)" text-anchor="end">0.08</text>
<text class="at" x="542.6" y="2251.5">EFD PC1 (80.23%)</text>
<text class="at" transform="translate(49.7 1785.7) rotate(-90)">EFD PC2 (11.12%)</text>
</g>
<g>
<rect x="1060.8" y="1432.7" width="702.4" height="702.9" fill="#fff"/>
<path class="gm" d="M1138.4 1432.7V2135.6M1281.6 1432.7V2135.6M1424.8 1432.7V2135.6M1568.0 1432.7V2135.6M1711.2 1432.7V2135.6M1060.8 2095.0H1763.2M1060.8 1947.2H1763.2M1060.8 1799.4H1763.2M1060.8 1651.6H1763.2M1060.8 1503.8H1763.2"/>
<path class="gM" d="M1066.8 1432.7V2135.6M1210.0 1432.7V2135.6M1353.2 1432.7V2135.6M1496.4 1432.7V2135.6M1639.6 1432.7V2135.6M1060.8 2021.1H1763.2M1060.8 1873.3H1763.2M1060.8 1725.5H1763.2M1060.8 1577.7H1763.2"/>
<g class="d"><circle cx="1103.4" cy="1613.1" r="3.4"/><circle cx="1127.3" cy="1635.4" r="3.4"/><circle cx="1098.3" cy="1652.0" r="3.4"/><circle cx="1124.8" cy="1648.9" r="3.4"/><circle cx="1140.5" cy="1659.3" r="3.4"/><circle cx="1138.0" cy="1661.8" r="3.4"/><circle cx="1231.3" cy="1668.9" r="3.4"/><circle cx="1226.4" cy="1671.3" r="3.4"/><circle cx="1117.5" cy="1671.1" r="3.4"/><circle cx="1126.3" cy="1671.8" r="3.4"/><circle cx="1155.2" cy="1677.5" r="3.4"/><circle cx="1122.6" cy="1681.9" r="3.4"/><circle cx="1163.0" cy="1682.4" r="3.4"/><circle cx="1145.7" cy="1683.8" r="3.4"/><circle cx="1171.4" cy="1685.0" r="3.4"/><circle cx="1550.8" cy="1680.9" r="3.4"/><circle cx="1634.7" cy="1497.8" r="3.4"/><circle cx="1623.7" cy="1506.9" r="3.4"/><circle cx="1604.4" cy="1524.0" r="3.4"/><circle cx="1650.4" cy="1527.9" r="3.4"/><circle cx="1613.7" cy="1533.4" r="3.4"/><circle cx="1616.1" cy="1540.7" r="3.4"/><circle cx="1584.1" cy="1551.6" r="3.4"/><circle cx="1714.5" cy="1556.4" r="3.4"/><circle cx="1697.1" cy="1578.1" r="3.4"/><circle cx="1681.9" cy="1591.0" r="3.4"/><circle cx="1572.4" cy="1589.4" r="3.4"/><circle cx="1593.8" cy="1591.6" r="3.4"/><circle cx="1584.8" cy="1596.5" r="3.4"/><circle cx="1567.4" cy="1609.4" r="3.4"/><circle cx="1576.6" cy="1616.9" r="3.4"/><circle cx="1581.2" cy="1628.9" r="3.4"/><circle cx="1598.8" cy="1638.5" r="3.4"/><circle cx="1566.8" cy="1661.5" r="3.4"/><circle cx="1564.9" cy="1684.6" r="3.4"/><circle cx="1581.2" cy="1685.0" r="3.4"/><circle cx="1652.4" cy="1685.0" r="3.4"/><circle cx="1122.6" cy="1685.0" r="3.4"/><circle cx="1163.0" cy="1685.0" r="3.4"/><circle cx="1171.4" cy="1687.5" r="3.4"/><circle cx="1148.6" cy="1691.6" r="3.4"/><circle cx="1142.4" cy="1694.8" r="3.4"/><circle cx="1178.3" cy="1697.2" r="3.4"/><circle cx="1258.7" cy="1693.4" r="3.4"/><circle cx="1150.1" cy="1699.7" r="3.4"/><circle cx="1128.9" cy="1702.2" r="3.4"/><circle cx="1143.9" cy="1703.3" r="3.4"/><circle cx="1150.5" cy="1701.9" r="3.4"/><circle cx="1181.1" cy="1704.8" r="3.4"/><circle cx="1102.1" cy="1707.5" r="3.4"/><circle cx="1248.7" cy="1708.2" r="3.4"/><circle cx="1161.7" cy="1711.4" r="3.4"/><circle cx="1155.7" cy="1715.1" r="3.4"/><circle cx="1169.9" cy="1712.9" r="3.4"/><circle cx="1173.9" cy="1711.9" r="3.4"/><circle cx="1177.2" cy="1714.4" r="3.4"/><circle cx="1185.2" cy="1714.4" r="3.4"/><circle cx="1160.4" cy="1718.5" r="3.4"/><circle cx="1152.3" cy="1720.5" r="3.4"/><circle cx="1136.3" cy="1720.4" r="3.4"/><circle cx="1204.2" cy="1717.4" r="3.4"/><circle cx="1244.6" cy="1716.9" r="3.4"/><circle cx="1177.5" cy="1723.2" r="3.4"/><circle cx="1247.3" cy="1724.6" r="3.4"/><circle cx="1210.3" cy="1726.5" r="3.4"/><circle cx="1156.4" cy="1728.6" r="3.4"/><circle cx="1183.0" cy="1728.7" r="3.4"/><circle cx="1172.4" cy="1731.5" r="3.4"/><circle cx="1199.0" cy="1733.3" r="3.4"/><circle cx="1245.5" cy="1736.4" r="3.4"/><circle cx="1193.1" cy="1738.6" r="3.4"/><circle cx="1191.2" cy="1740.5" r="3.4"/><circle cx="1170.9" cy="1742.3" r="3.4"/><circle cx="1175.0" cy="1741.1" r="3.4"/><circle cx="1178.0" cy="1740.8" r="3.4"/><circle cx="1125.9" cy="1742.7" r="3.4"/><circle cx="1146.0" cy="1743.7" r="3.4"/><circle cx="1163.6" cy="1744.7" r="3.4"/><circle cx="1161.1" cy="1748.1" r="3.4"/><circle cx="1181.9" cy="1746.2" r="3.4"/><circle cx="1224.9" cy="1745.6" r="3.4"/><circle cx="1244.8" cy="1743.7" r="3.4"/><circle cx="1241.8" cy="1747.4" r="3.4"/><circle cx="1223.9" cy="1750.8" r="3.4"/><circle cx="1255.6" cy="1750.8" r="3.4"/><circle cx="1242.6" cy="1753.0" r="3.4"/><circle cx="1113.4" cy="1751.9" r="3.4"/><circle cx="1296.1" cy="1752.2" r="3.4"/><circle cx="1167.7" cy="1754.3" r="3.4"/><circle cx="1235.5" cy="1756.2" r="3.4"/><circle cx="1216.1" cy="1756.5" r="3.4"/><circle cx="1219.1" cy="1756.5" r="3.4"/><circle cx="1210.0" cy="1758.0" r="3.4"/><circle cx="1187.1" cy="1757.4" r="3.4"/><circle cx="1284.1" cy="1758.1" r="3.4"/><circle cx="1234.5" cy="1761.8" r="3.4"/><circle cx="1239.6" cy="1765.7" r="3.4"/><circle cx="1202.9" cy="1765.7" r="3.4"/><circle cx="1161.8" cy="1765.3" r="3.4"/><circle cx="1151.5" cy="1765.7" r="3.4"/><circle cx="1152.7" cy="1768.7" r="3.4"/><circle cx="1139.4" cy="1767.2" r="3.4"/><circle cx="1165.5" cy="1768.7" r="3.4"/><circle cx="1171.4" cy="1770.1" r="3.4"/><circle cx="1292.6" cy="1767.4" r="3.4"/><circle cx="1205.9" cy="1772.1" r="3.4"/><circle cx="1180.9" cy="1772.1" r="3.4"/><circle cx="1197.2" cy="1773.8" r="3.4"/><circle cx="1237.9" cy="1775.3" r="3.4"/><circle cx="1243.3" cy="1776.0" r="3.4"/><circle cx="1241.8" cy="1779.0" r="3.4"/><circle cx="1220.1" cy="1776.9" r="3.4"/><circle cx="1287.2" cy="1779.0" r="3.4"/><circle cx="1265.6" cy="1779.7" r="3.4"/><circle cx="1160.8" cy="1778.5" r="3.4"/><circle cx="1161.1" cy="1781.9" r="3.4"/><circle cx="1158.0" cy="1785.3" r="3.4"/><circle cx="1184.7" cy="1780.4" r="3.4"/><circle cx="1207.3" cy="1779.7" r="3.4"/><circle cx="1211.4" cy="1781.9" r="3.4"/><circle cx="1192.4" cy="1781.9" r="3.4"/><circle cx="1195.3" cy="1784.5" r="3.4"/><circle cx="1250.3" cy="1782.3" r="3.4"/><circle cx="1305.7" cy="1783.1" r="3.4"/><circle cx="1311.6" cy="1776.0" r="3.4"/><circle cx="1170.9" cy="1785.0" r="3.4"/><circle cx="1175.0" cy="1786.3" r="3.4"/><circle cx="1207.3" cy="1787.8" r="3.4"/><circle cx="1219.5" cy="1787.5" r="3.4"/><circle cx="1261.6" cy="1788.1" r="3.4"/><circle cx="1178.4" cy="1791.6" r="3.4"/><circle cx="1191.2" cy="1795.5" r="3.4"/><circle cx="1244.0" cy="1797.0" r="3.4"/><circle cx="1227.1" cy="1798.3" r="3.4"/><circle cx="1233.5" cy="1798.3" r="3.4"/><circle cx="1178.9" cy="1799.2" r="3.4"/><circle cx="1277.8" cy="1797.9" r="3.4"/><circle cx="1283.7" cy="1797.3" r="3.4"/><circle cx="1284.8" cy="1794.4" r="3.4"/><circle cx="1291.7" cy="1799.2" r="3.4"/><circle cx="1303.5" cy="1799.8" r="3.4"/><circle cx="1193.4" cy="1803.2" r="3.4"/><circle cx="1191.9" cy="1804.9" r="3.4"/><circle cx="1159.5" cy="1806.8" r="3.4"/><circle cx="1170.3" cy="1806.4" r="3.4"/><circle cx="1264.3" cy="1803.3" r="3.4"/><circle cx="1243.7" cy="1805.8" r="3.4"/><circle cx="1283.7" cy="1805.4" r="3.4"/><circle cx="1284.4" cy="1807.6" r="3.4"/><circle cx="1292.5" cy="1804.6" r="3.4"/><circle cx="1217.6" cy="1809.6" r="3.4"/><circle cx="1235.5" cy="1809.5" r="3.4"/><circle cx="1236.7" cy="1812.7" r="3.4"/><circle cx="1244.8" cy="1812.7" r="3.4"/><circle cx="1255.8" cy="1813.4" r="3.4"/><circle cx="1256.5" cy="1816.4" r="3.4"/><circle cx="1130.1" cy="1813.3" r="3.4"/><circle cx="1195.3" cy="1815.7" r="3.4"/><circle cx="1228.9" cy="1815.4" r="3.4"/><circle cx="1284.7" cy="1816.8" r="3.4"/><circle cx="1291.0" cy="1817.1" r="3.4"/><circle cx="1293.9" cy="1816.7" r="3.4"/><circle cx="1296.6" cy="1815.7" r="3.4"/><circle cx="1311.6" cy="1816.1" r="3.4"/><circle cx="1220.8" cy="1818.3" r="3.4"/><circle cx="1211.0" cy="1819.8" r="3.4"/><circle cx="1230.8" cy="1821.2" r="3.4"/><circle cx="1203.5" cy="1822.7" r="3.4"/><circle cx="1192.4" cy="1824.2" r="3.4"/><circle cx="1124.8" cy="1823.7" r="3.4"/><circle cx="1242.6" cy="1823.0" r="3.4"/><circle cx="1241.4" cy="1825.6" r="3.4"/><circle cx="1257.2" cy="1824.5" r="3.4"/><circle cx="1267.2" cy="1825.9" r="3.4"/><circle cx="1277.8" cy="1823.4" r="3.4"/><circle cx="1235.7" cy="1827.4" r="3.4"/><circle cx="1292.0" cy="1828.1" r="3.4"/><circle cx="1304.7" cy="1827.4" r="3.4"/><circle cx="1285.0" cy="1831.1" r="3.4"/><circle cx="1311.6" cy="1822.3" r="3.4"/><circle cx="1222.0" cy="1832.1" r="3.4"/><circle cx="1232.3" cy="1832.5" r="3.4"/><circle cx="1126.6" cy="1834.3" r="3.4"/><circle cx="1149.8" cy="1834.4" r="3.4"/><circle cx="1169.6" cy="1838.1" r="3.4"/><circle cx="1208.5" cy="1833.7" r="3.4"/><circle cx="1213.6" cy="1838.1" r="3.4"/><circle cx="1259.4" cy="1833.6" r="3.4"/><circle cx="1269.7" cy="1834.0" r="3.4"/><circle cx="1277.8" cy="1835.9" r="3.4"/><circle cx="1227.9" cy="1836.9" r="3.4"/><circle cx="1224.9" cy="1842.1" r="3.4"/><circle cx="1227.9" cy="1840.3" r="3.4"/><circle cx="1232.3" cy="1840.6" r="3.4"/><circle cx="1232.0" cy="1845.0" r="3.4"/><circle cx="1243.6" cy="1840.3" r="3.4"/><circle cx="1252.1" cy="1842.5" r="3.4"/><circle cx="1260.2" cy="1843.3" r="3.4"/><circle cx="1263.1" cy="1839.9" r="3.4"/><circle cx="1267.1" cy="1839.9" r="3.4"/><circle cx="1185.3" cy="1842.1" r="3.4"/><circle cx="1308.3" cy="1841.0" r="3.4"/><circle cx="1165.5" cy="1846.9" r="3.4"/><circle cx="1163.6" cy="1852.1" r="3.4"/><circle cx="1188.5" cy="1849.1" r="3.4"/><circle cx="1198.1" cy="1848.5" r="3.4"/><circle cx="1217.9" cy="1850.0" r="3.4"/><circle cx="1224.9" cy="1850.9" r="3.4"/><circle cx="1230.1" cy="1852.8" r="3.4"/><circle cx="1237.9" cy="1852.4" r="3.4"/><circle cx="1285.7" cy="1847.9" r="3.4"/><circle cx="1236.0" cy="1859.0" r="3.4"/><circle cx="1152.3" cy="1859.7" r="3.4"/><circle cx="1153.0" cy="1862.3" r="3.4"/><circle cx="1261.2" cy="1860.1" r="3.4"/><circle cx="1269.0" cy="1860.4" r="3.4"/><circle cx="1273.4" cy="1862.9" r="3.4"/><circle cx="1285.7" cy="1860.7" r="3.4"/><circle cx="1208.1" cy="1862.8" r="3.4"/><circle cx="1307.9" cy="1862.2" r="3.4"/><circle cx="1169.9" cy="1869.2" r="3.4"/><circle cx="1172.8" cy="1871.7" r="3.4"/><circle cx="1179.4" cy="1868.2" r="3.4"/><circle cx="1180.2" cy="1872.2" r="3.4"/><circle cx="1218.5" cy="1870.4" r="3.4"/><circle cx="1225.2" cy="1869.2" r="3.4"/><circle cx="1264.3" cy="1869.2" r="3.4"/><circle cx="1233.5" cy="1872.6" r="3.4"/><circle cx="1239.9" cy="1872.6" r="3.4"/><circle cx="1254.6" cy="1873.6" r="3.4"/><circle cx="1188.2" cy="1874.8" r="3.4"/><circle cx="1228.3" cy="1877.6" r="3.4"/><circle cx="1177.2" cy="1877.6" r="3.4"/><circle cx="1287.3" cy="1870.3" r="3.4"/><circle cx="1289.5" cy="1872.9" r="3.4"/><circle cx="1301.6" cy="1872.5" r="3.4"/><circle cx="1274.9" cy="1876.3" r="3.4"/><circle cx="1281.5" cy="1875.8" r="3.4"/><circle cx="1293.5" cy="1876.6" r="3.4"/><circle cx="1302.0" cy="1877.3" r="3.4"/><circle cx="1154.9" cy="1878.0" r="3.4"/><circle cx="1147.4" cy="1880.2" r="3.4"/><circle cx="1259.4" cy="1880.2" r="3.4"/><circle cx="1263.8" cy="1879.5" r="3.4"/><circle cx="1261.9" cy="1882.7" r="3.4"/><circle cx="1268.3" cy="1882.4" r="3.4"/><circle cx="1280.7" cy="1880.0" r="3.4"/><circle cx="1276.3" cy="1881.7" r="3.4"/><circle cx="1213.2" cy="1883.5" r="3.4"/><circle cx="1217.9" cy="1884.6" r="3.4"/><circle cx="1216.4" cy="1888.8" r="3.4"/><circle cx="1163.0" cy="1887.9" r="3.4"/><circle cx="1250.6" cy="1886.4" r="3.4"/><circle cx="1271.2" cy="1888.3" r="3.4"/><circle cx="1279.7" cy="1888.3" r="3.4"/><circle cx="1296.1" cy="1882.4" r="3.4"/><circle cx="1299.1" cy="1882.7" r="3.4"/><circle cx="1310.1" cy="1888.3" r="3.4"/><circle cx="1310.1" cy="1893.5" r="3.4"/><circle cx="1212.8" cy="1896.4" r="3.4"/><circle cx="1216.9" cy="1898.6" r="3.4"/><circle cx="1220.5" cy="1898.6" r="3.4"/><circle cx="1221.3" cy="1900.8" r="3.4"/><circle cx="1215.0" cy="1903.4" r="3.4"/><circle cx="1229.4" cy="1900.8" r="3.4"/><circle cx="1291.0" cy="1896.4" r="3.4"/><circle cx="1299.8" cy="1896.4" r="3.4"/><circle cx="1289.5" cy="1900.4" r="3.4"/><circle cx="1255.8" cy="1902.3" r="3.4"/><circle cx="1258.7" cy="1904.5" r="3.4"/><circle cx="1263.8" cy="1901.5" r="3.4"/><circle cx="1280.0" cy="1903.7" r="3.4"/><circle cx="1297.6" cy="1902.7" r="3.4"/><circle cx="1306.4" cy="1903.4" r="3.4"/><circle cx="1201.6" cy="1905.3" r="3.4"/><circle cx="1213.9" cy="1908.4" r="3.4"/><circle cx="1212.5" cy="1912.5" r="3.4"/><circle cx="1249.9" cy="1909.9" r="3.4"/><circle cx="1258.0" cy="1908.1" r="3.4"/><circle cx="1270.5" cy="1907.8" r="3.4"/><circle cx="1276.6" cy="1906.7" r="3.4"/><circle cx="1275.3" cy="1911.8" r="3.4"/><circle cx="1286.6" cy="1912.2" r="3.4"/><circle cx="1290.3" cy="1909.6" r="3.4"/><circle cx="1293.9" cy="1907.4" r="3.4"/><circle cx="1299.8" cy="1911.8" r="3.4"/><circle cx="1305.0" cy="1909.9" r="3.4"/><circle cx="1311.6" cy="1914.0" r="3.4"/><circle cx="1189.0" cy="1916.7" r="3.4"/><circle cx="1234.5" cy="1923.7" r="3.4"/><circle cx="1224.9" cy="1928.0" r="3.4"/><circle cx="1226.4" cy="1930.9" r="3.4"/><circle cx="1215.0" cy="1931.6" r="3.4"/><circle cx="1233.0" cy="1933.1" r="3.4"/><circle cx="1245.5" cy="1930.4" r="3.4"/><circle cx="1256.5" cy="1932.4" r="3.4"/><circle cx="1264.6" cy="1927.2" r="3.4"/><circle cx="1271.2" cy="1925.3" r="3.4"/><circle cx="1270.5" cy="1929.4" r="3.4"/><circle cx="1283.7" cy="1926.5" r="3.4"/><circle cx="1290.0" cy="1925.8" r="3.4"/><circle cx="1288.8" cy="1929.9" r="3.4"/><circle cx="1276.3" cy="1934.6" r="3.4"/><circle cx="1310.1" cy="1930.9" r="3.4"/><circle cx="1399.2" cy="1704.1" r="3.4"/><circle cx="1535.1" cy="1699.4" r="3.4"/><circle cx="1534.0" cy="1709.5" r="3.4"/><circle cx="1559.8" cy="1706.3" r="3.4"/><circle cx="1552.3" cy="1713.3" r="3.4"/><circle cx="1551.6" cy="1722.1" r="3.4"/><circle cx="1432.2" cy="1729.8" r="3.4"/><circle cx="1426.2" cy="1739.0" r="3.4"/><circle cx="1441.3" cy="1737.4" r="3.4"/><circle cx="1318.2" cy="1742.3" r="3.4"/><circle cx="1327.6" cy="1742.0" r="3.4"/><circle cx="1531.5" cy="1741.7" r="3.4"/><circle cx="1546.1" cy="1737.4" r="3.4"/><circle cx="1553.8" cy="1743.7" r="3.4"/><circle cx="1550.3" cy="1748.6" r="3.4"/><circle cx="1509.3" cy="1757.7" r="3.4"/><circle cx="1321.4" cy="1760.6" r="3.4"/><circle cx="1389.4" cy="1762.4" r="3.4"/><circle cx="1507.5" cy="1769.1" r="3.4"/><circle cx="1539.5" cy="1772.8" r="3.4"/><circle cx="1336.8" cy="1778.1" r="3.4"/><circle cx="1405.8" cy="1775.3" r="3.4"/><circle cx="1534.8" cy="1777.2" r="3.4"/><circle cx="1552.9" cy="1776.0" r="3.4"/><circle cx="1463.6" cy="1782.3" r="3.4"/><circle cx="1342.1" cy="1785.9" r="3.4"/><circle cx="1509.0" cy="1784.8" r="3.4"/><circle cx="1484.9" cy="1786.0" r="3.4"/><circle cx="1486.7" cy="1787.5" r="3.4"/><circle cx="1330.6" cy="1789.4" r="3.4"/><circle cx="1377.3" cy="1790.4" r="3.4"/><circle cx="1377.0" cy="1795.8" r="3.4"/><circle cx="1398.0" cy="1792.2" r="3.4"/><circle cx="1416.5" cy="1793.6" r="3.4"/><circle cx="1320.7" cy="1795.0" r="3.4"/><circle cx="1513.8" cy="1790.4" r="3.4"/><circle cx="1516.3" cy="1793.6" r="3.4"/><circle cx="1467.6" cy="1796.1" r="3.4"/><circle cx="1467.6" cy="1801.7" r="3.4"/><circle cx="1352.2" cy="1798.2" r="3.4"/><circle cx="1497.0" cy="1798.5" r="3.4"/><circle cx="1521.6" cy="1799.8" r="3.4"/><circle cx="1431.6" cy="1803.9" r="3.4"/><circle cx="1440.7" cy="1804.3" r="3.4"/><circle cx="1454.5" cy="1802.9" r="3.4"/><circle cx="1533.7" cy="1803.2" r="3.4"/><circle cx="1326.4" cy="1807.6" r="3.4"/><circle cx="1382.9" cy="1808.0" r="3.4"/><circle cx="1514.6" cy="1807.6" r="3.4"/><circle cx="1520.0" cy="1808.0" r="3.4"/><circle cx="1318.0" cy="1810.8" r="3.4"/><circle cx="1347.7" cy="1810.2" r="3.4"/><circle cx="1410.9" cy="1810.2" r="3.4"/><circle cx="1457.6" cy="1811.5" r="3.4"/><circle cx="1495.1" cy="1811.2" r="3.4"/><circle cx="1533.7" cy="1813.6" r="3.4"/><circle cx="1545.4" cy="1814.2" r="3.4"/><circle cx="1559.8" cy="1812.4" r="3.4"/><circle cx="1338.1" cy="1813.4" r="3.4"/><circle cx="1340.6" cy="1817.1" r="3.4"/><circle cx="1454.4" cy="1815.7" r="3.4"/><circle cx="1513.1" cy="1815.2" r="3.4"/><circle cx="1371.7" cy="1817.3" r="3.4"/><circle cx="1461.0" cy="1817.9" r="3.4"/><circle cx="1525.4" cy="1817.7" r="3.4"/><circle cx="1478.2" cy="1819.8" r="3.4"/><circle cx="1488.3" cy="1822.4" r="3.4"/><circle cx="1504.6" cy="1823.4" r="3.4"/><circle cx="1551.6" cy="1822.7" r="3.4"/><circle cx="1411.1" cy="1824.5" r="3.4"/><circle cx="1420.8" cy="1824.5" r="3.4"/><circle cx="1519.0" cy="1827.4" r="3.4"/><circle cx="1438.1" cy="1829.6" r="3.4"/><circle cx="1456.5" cy="1829.6" r="3.4"/><circle cx="1477.9" cy="1829.2" r="3.4"/><circle cx="1477.1" cy="1831.4" r="3.4"/><circle cx="1510.9" cy="1829.9" r="3.4"/><circle cx="1556.4" cy="1829.6" r="3.4"/><circle cx="1394.9" cy="1831.5" r="3.4"/><circle cx="1403.5" cy="1830.2" r="3.4"/><circle cx="1451.2" cy="1832.5" r="3.4"/><circle cx="1548.1" cy="1831.5" r="3.4"/><circle cx="1333.9" cy="1838.1" r="3.4"/><circle cx="1373.9" cy="1836.1" r="3.4"/><circle cx="1434.4" cy="1836.2" r="3.4"/><circle cx="1473.5" cy="1836.2" r="3.4"/><circle cx="1498.1" cy="1836.2" r="3.4"/><circle cx="1551.3" cy="1836.2" r="3.4"/><circle cx="1412.9" cy="1841.3" r="3.4"/><circle cx="1473.5" cy="1841.3" r="3.4"/><circle cx="1498.4" cy="1841.3" r="3.4"/><circle cx="1508.3" cy="1843.0" r="3.4"/><circle cx="1333.3" cy="1845.3" r="3.4"/><circle cx="1347.7" cy="1844.7" r="3.4"/><circle cx="1422.1" cy="1843.5" r="3.4"/><circle cx="1481.3" cy="1843.8" r="3.4"/><circle cx="1392.2" cy="1845.3" r="3.4"/><circle cx="1355.7" cy="1846.5" r="3.4"/><circle cx="1369.7" cy="1847.1" r="3.4"/><circle cx="1342.4" cy="1849.1" r="3.4"/><circle cx="1347.2" cy="1850.9" r="3.4"/><circle cx="1360.2" cy="1850.3" r="3.4"/><circle cx="1467.6" cy="1846.9" r="3.4"/><circle cx="1475.4" cy="1847.5" r="3.4"/><circle cx="1495.5" cy="1847.7" r="3.4"/><circle cx="1501.7" cy="1848.7" r="3.4"/><circle cx="1463.2" cy="1851.2" r="3.4"/><circle cx="1372.2" cy="1852.1" r="3.4"/><circle cx="1335.9" cy="1855.3" r="3.4"/><circle cx="1348.0" cy="1855.6" r="3.4"/><circle cx="1420.3" cy="1854.3" r="3.4"/><circle cx="1378.5" cy="1856.8" r="3.4"/><circle cx="1537.3" cy="1855.7" r="3.4"/><circle cx="1445.6" cy="1860.4" r="3.4"/><circle cx="1450.0" cy="1859.0" r="3.4"/><circle cx="1454.1" cy="1858.5" r="3.4"/><circle cx="1460.7" cy="1861.0" r="3.4"/><circle cx="1351.2" cy="1863.8" r="3.4"/><circle cx="1383.8" cy="1863.8" r="3.4"/><circle cx="1447.1" cy="1863.8" r="3.4"/><circle cx="1479.1" cy="1865.0" r="3.4"/><circle cx="1363.7" cy="1866.6" r="3.4"/><circle cx="1329.3" cy="1868.1" r="3.4"/><circle cx="1338.6" cy="1868.6" r="3.4"/><circle cx="1398.3" cy="1868.9" r="3.4"/><circle cx="1445.1" cy="1868.1" r="3.4"/><circle cx="1415.9" cy="1868.4" r="3.4"/><circle cx="1523.0" cy="1870.4" r="3.4"/><circle cx="1518.3" cy="1872.2" r="3.4"/><circle cx="1520.5" cy="1873.6" r="3.4"/><circle cx="1553.2" cy="1870.6" r="3.4"/><circle cx="1320.8" cy="1872.2" r="3.4"/><circle cx="1459.5" cy="1871.9" r="3.4"/><circle cx="1468.2" cy="1870.7" r="3.4"/><circle cx="1477.4" cy="1872.5" r="3.4"/><circle cx="1394.2" cy="1872.6" r="3.4"/><circle cx="1419.9" cy="1871.9" r="3.4"/><circle cx="1355.9" cy="1873.2" r="3.4"/><circle cx="1440.4" cy="1874.7" r="3.4"/><circle cx="1503.0" cy="1875.8" r="3.4"/><circle cx="1392.7" cy="1876.6" r="3.4"/><circle cx="1454.1" cy="1876.6" r="3.4"/><circle cx="1323.3" cy="1878.5" r="3.4"/><circle cx="1338.1" cy="1879.5" r="3.4"/><circle cx="1345.9" cy="1878.8" r="3.4"/><circle cx="1356.0" cy="1879.5" r="3.4"/><circle cx="1424.6" cy="1878.0" r="3.4"/><circle cx="1424.3" cy="1882.4" r="3.4"/><circle cx="1373.2" cy="1881.0" r="3.4"/><circle cx="1332.6" cy="1882.0" r="3.4"/><circle cx="1414.3" cy="1882.0" r="3.4"/><circle cx="1473.2" cy="1882.7" r="3.4"/><circle cx="1480.8" cy="1880.7" r="3.4"/><circle cx="1514.6" cy="1880.5" r="3.4"/><circle cx="1532.9" cy="1882.7" r="3.4"/><circle cx="1540.0" cy="1880.2" r="3.4"/><circle cx="1315.7" cy="1886.1" r="3.4"/><circle cx="1318.6" cy="1888.8" r="3.4"/><circle cx="1354.1" cy="1884.2" r="3.4"/><circle cx="1385.0" cy="1884.4" r="3.4"/><circle cx="1391.3" cy="1885.1" r="3.4"/><circle cx="1450.7" cy="1883.9" r="3.4"/><circle cx="1453.7" cy="1886.8" r="3.4"/><circle cx="1536.6" cy="1884.6" r="3.4"/><circle cx="1332.3" cy="1888.5" r="3.4"/><circle cx="1359.0" cy="1888.3" r="3.4"/><circle cx="1367.2" cy="1888.3" r="3.4"/><circle cx="1406.2" cy="1888.5" r="3.4"/><circle cx="1414.3" cy="1888.8" r="3.4"/><circle cx="1447.8" cy="1889.1" r="3.4"/><circle cx="1468.6" cy="1887.9" r="3.4"/><circle cx="1517.1" cy="1890.5" r="3.4"/><circle cx="1524.9" cy="1890.1" r="3.4"/><circle cx="1531.8" cy="1890.5" r="3.4"/><circle cx="1368.5" cy="1892.0" r="3.4"/><circle cx="1343.1" cy="1892.3" r="3.4"/><circle cx="1351.3" cy="1894.2" r="3.4"/><circle cx="1395.2" cy="1893.5" r="3.4"/><circle cx="1413.6" cy="1893.2" r="3.4"/><circle cx="1505.5" cy="1892.7" r="3.4"/><circle cx="1392.0" cy="1896.7" r="3.4"/><circle cx="1451.9" cy="1897.9" r="3.4"/><circle cx="1466.1" cy="1897.9" r="3.4"/><circle cx="1470.5" cy="1897.9" r="3.4"/><circle cx="1498.4" cy="1897.4" r="3.4"/><circle cx="1543.2" cy="1896.0" r="3.4"/><circle cx="1363.4" cy="1898.6" r="3.4"/><circle cx="1342.1" cy="1899.0" r="3.4"/><circle cx="1394.2" cy="1901.1" r="3.4"/><circle cx="1401.5" cy="1902.0" r="3.4"/><circle cx="1406.0" cy="1902.3" r="3.4"/><circle cx="1408.9" cy="1901.5" r="3.4"/><circle cx="1429.1" cy="1900.1" r="3.4"/><circle cx="1441.2" cy="1900.8" r="3.4"/><circle cx="1441.6" cy="1903.7" r="3.4"/><circle cx="1507.0" cy="1900.4" r="3.4"/><circle cx="1514.6" cy="1899.8" r="3.4"/><circle cx="1540.7" cy="1900.4" r="3.4"/><circle cx="1326.4" cy="1901.8" r="3.4"/><circle cx="1486.4" cy="1904.9" r="3.4"/><circle cx="1535.0" cy="1904.8" r="3.4"/><circle cx="1424.6" cy="1908.9" r="3.4"/><circle cx="1425.0" cy="1911.1" r="3.4"/><circle cx="1399.6" cy="1908.6" r="3.4"/><circle cx="1333.6" cy="1910.0" r="3.4"/><circle cx="1352.8" cy="1909.6" r="3.4"/><circle cx="1376.6" cy="1908.9" r="3.4"/><circle cx="1443.7" cy="1909.6" r="3.4"/><circle cx="1487.1" cy="1910.3" r="3.4"/><circle cx="1555.7" cy="1909.8" r="3.4"/><circle cx="1317.9" cy="1912.2" r="3.4"/><circle cx="1340.3" cy="1914.0" r="3.4"/><circle cx="1357.5" cy="1913.3" r="3.4"/><circle cx="1367.8" cy="1911.8" r="3.4"/><circle cx="1374.4" cy="1913.3" r="3.4"/><circle cx="1379.5" cy="1914.0" r="3.4"/><circle cx="1389.1" cy="1914.3" r="3.4"/><circle cx="1394.2" cy="1915.0" r="3.4"/><circle cx="1397.9" cy="1912.5" r="3.4"/><circle cx="1406.0" cy="1912.1" r="3.4"/><circle cx="1507.0" cy="1911.5" r="3.4"/><circle cx="1482.3" cy="1916.2" r="3.4"/><circle cx="1473.5" cy="1917.1" r="3.4"/><circle cx="1434.9" cy="1917.2" r="3.4"/><circle cx="1462.2" cy="1918.7" r="3.4"/><circle cx="1552.3" cy="1916.5" r="3.4"/><circle cx="1372.9" cy="1919.1" r="3.4"/><circle cx="1379.5" cy="1918.4" r="3.4"/><circle cx="1508.3" cy="1919.4" r="3.4"/><circle cx="1320.1" cy="1920.2" r="3.4"/><circle cx="1330.3" cy="1921.6" r="3.4"/><circle cx="1336.2" cy="1920.6" r="3.4"/><circle cx="1339.9" cy="1922.8" r="3.4"/><circle cx="1352.4" cy="1920.6" r="3.4"/><circle cx="1356.0" cy="1923.5" r="3.4"/><circle cx="1360.4" cy="1922.8" r="3.4"/><circle cx="1364.8" cy="1925.8" r="3.4"/><circle cx="1331.8" cy="1925.8" r="3.4"/><circle cx="1334.0" cy="1928.7" r="3.4"/><circle cx="1316.4" cy="1927.2" r="3.4"/><circle cx="1322.3" cy="1927.2" r="3.4"/><circle cx="1430.2" cy="1924.3" r="3.4"/><circle cx="1434.6" cy="1925.8" r="3.4"/><circle cx="1441.2" cy="1926.5" r="3.4"/><circle cx="1391.3" cy="1925.0" r="3.4"/><circle cx="1397.1" cy="1927.2" r="3.4"/><circle cx="1402.3" cy="1926.5" r="3.4"/><circle cx="1407.4" cy="1928.0" r="3.4"/><circle cx="1381.0" cy="1925.8" r="3.4"/><circle cx="1379.5" cy="1930.2" r="3.4"/><circle cx="1466.1" cy="1925.0" r="3.4"/><circle cx="1519.4" cy="1925.8" r="3.4"/><circle cx="1507.0" cy="1927.2" r="3.4"/><circle cx="1456.6" cy="1929.1" r="3.4"/><circle cx="1483.8" cy="1930.2" r="3.4"/><circle cx="1346.5" cy="1930.2" r="3.4"/><circle cx="1353.1" cy="1929.9" r="3.4"/><circle cx="1357.5" cy="1931.6" r="3.4"/><circle cx="1393.5" cy="1930.2" r="3.4"/><circle cx="1406.0" cy="1930.9" r="3.4"/><circle cx="1415.5" cy="1930.9" r="3.4"/><circle cx="1433.8" cy="1930.2" r="3.4"/><circle cx="1442.7" cy="1930.2" r="3.4"/><circle cx="1447.1" cy="1930.2" r="3.4"/><circle cx="1370.7" cy="1933.1" r="3.4"/><circle cx="1429.4" cy="1933.8" r="3.4"/><circle cx="1471.3" cy="1934.6" r="3.4"/><circle cx="1502.8" cy="1934.6" r="3.4"/><circle cx="1541.0" cy="1934.6" r="3.4"/><circle cx="1561.6" cy="1925.8" r="3.4"/><circle cx="1314.9" cy="1933.1" r="3.4"/><circle cx="1320.8" cy="1934.6" r="3.4"/><circle cx="1332.6" cy="1931.6" r="3.4"/><circle cx="1652.4" cy="1687.6" r="3.4"/><circle cx="1603.5" cy="1701.1" r="3.4"/><circle cx="1600.4" cy="1708.2" r="3.4"/><circle cx="1632.5" cy="1715.8" r="3.4"/><circle cx="1565.7" cy="1732.0" r="3.4"/><circle cx="1580.7" cy="1739.6" r="3.4"/><circle cx="1600.5" cy="1744.0" r="3.4"/><circle cx="1586.2" cy="1760.6" r="3.4"/><circle cx="1589.5" cy="1760.7" r="3.4"/><circle cx="1603.2" cy="1761.6" r="3.4"/><circle cx="1573.1" cy="1773.2" r="3.4"/><circle cx="1611.7" cy="1781.3" r="3.4"/><circle cx="1632.2" cy="1782.2" r="3.4"/><circle cx="1624.2" cy="1786.9" r="3.4"/><circle cx="1576.8" cy="1800.4" r="3.4"/><circle cx="1610.4" cy="1803.8" r="3.4"/><circle cx="1571.3" cy="1808.3" r="3.4"/><circle cx="1621.4" cy="1818.6" r="3.4"/><circle cx="1617.9" cy="1825.5" r="3.4"/><circle cx="1623.4" cy="1851.6" r="3.4"/><circle cx="1616.1" cy="1853.2" r="3.4"/><circle cx="1566.5" cy="1911.5" r="3.4"/><circle cx="1214.7" cy="1935.0" r="3.4"/><circle cx="1259.4" cy="1936.5" r="3.4"/><circle cx="1274.9" cy="1937.2" r="3.4"/><circle cx="1279.3" cy="1938.7" r="3.4"/><circle cx="1282.9" cy="1940.9" r="3.4"/><circle cx="1303.8" cy="1939.7" r="3.4"/><circle cx="1257.2" cy="1942.0" r="3.4"/><circle cx="1220.1" cy="1942.8" r="3.4"/><circle cx="1203.5" cy="1947.8" r="3.4"/><circle cx="1311.6" cy="1946.0" r="3.4"/><circle cx="1266.1" cy="1949.2" r="3.4"/><circle cx="1266.8" cy="1954.1" r="3.4"/><circle cx="1271.3" cy="1954.4" r="3.4"/><circle cx="1282.9" cy="1949.7" r="3.4"/><circle cx="1282.9" cy="1952.6" r="3.4"/><circle cx="1299.8" cy="1948.7" r="3.4"/><circle cx="1299.8" cy="1953.6" r="3.4"/><circle cx="1249.9" cy="1953.3" r="3.4"/><circle cx="1240.4" cy="1955.3" r="3.4"/><circle cx="1224.2" cy="1957.8" r="3.4"/><circle cx="1247.0" cy="1958.5" r="3.4"/><circle cx="1247.7" cy="1962.2" r="3.4"/><circle cx="1251.4" cy="1962.2" r="3.4"/><circle cx="1258.0" cy="1959.2" r="3.4"/><circle cx="1257.2" cy="1962.6" r="3.4"/><circle cx="1273.7" cy="1963.9" r="3.4"/><circle cx="1286.6" cy="1961.7" r="3.4"/><circle cx="1293.2" cy="1962.3" r="3.4"/><circle cx="1205.3" cy="1963.6" r="3.4"/><circle cx="1302.8" cy="1965.8" r="3.4"/><circle cx="1250.5" cy="1969.9" r="3.4"/><circle cx="1257.7" cy="1971.4" r="3.4"/><circle cx="1310.8" cy="1972.4" r="3.4"/><circle cx="1212.0" cy="1979.3" r="3.4"/><circle cx="1299.8" cy="1979.8" r="3.4"/><circle cx="1308.6" cy="1980.2" r="3.4"/><circle cx="1277.8" cy="1982.7" r="3.4"/><circle cx="1278.5" cy="1986.7" r="3.4"/><circle cx="1288.1" cy="1984.6" r="3.4"/><circle cx="1299.2" cy="1986.4" r="3.4"/><circle cx="1234.2" cy="1986.8" r="3.4"/><circle cx="1243.9" cy="1986.8" r="3.4"/><circle cx="1292.2" cy="1990.8" r="3.4"/><circle cx="1309.1" cy="1992.3" r="3.4"/><circle cx="1302.2" cy="1997.1" r="3.4"/><circle cx="1253.7" cy="2009.7" r="3.4"/><circle cx="1252.8" cy="2014.6" r="3.4"/><circle cx="1283.7" cy="2010.0" r="3.4"/><circle cx="1297.6" cy="2009.7" r="3.4"/><circle cx="1270.3" cy="2016.6" r="3.4"/><circle cx="1262.5" cy="2020.6" r="3.4"/><circle cx="1259.7" cy="2026.0" r="3.4"/><circle cx="1263.4" cy="2031.7" r="3.4"/><circle cx="1269.6" cy="2037.6" r="3.4"/><circle cx="1293.5" cy="2027.2" r="3.4"/><circle cx="1311.6" cy="2026.7" r="3.4"/><circle cx="1304.7" cy="2038.3" r="3.4"/><circle cx="1310.4" cy="2061.5" r="3.4"/><circle cx="1316.4" cy="1935.7" r="3.4"/><circle cx="1337.7" cy="1939.1" r="3.4"/><circle cx="1359.0" cy="1935.0" r="3.4"/><circle cx="1383.9" cy="1937.2" r="3.4"/><circle cx="1395.7" cy="1936.5" r="3.4"/><circle cx="1400.1" cy="1937.9" r="3.4"/><circle cx="1435.3" cy="1937.2" r="3.4"/><circle cx="1459.5" cy="1940.1" r="3.4"/><circle cx="1471.3" cy="1937.2" r="3.4"/><circle cx="1472.7" cy="1940.9" r="3.4"/><circle cx="1320.1" cy="1941.6" r="3.4"/><circle cx="1326.7" cy="1942.0" r="3.4"/><circle cx="1334.8" cy="1944.1" r="3.4"/><circle cx="1342.8" cy="1942.0" r="3.4"/><circle cx="1349.9" cy="1944.5" r="3.4"/><circle cx="1353.8" cy="1943.5" r="3.4"/><circle cx="1362.6" cy="1942.8" r="3.4"/><circle cx="1371.9" cy="1941.6" r="3.4"/><circle cx="1381.0" cy="1940.1" r="3.4"/><circle cx="1392.7" cy="1941.2" r="3.4"/><circle cx="1397.1" cy="1943.8" r="3.4"/><circle cx="1401.5" cy="1943.1" r="3.4"/><circle cx="1405.2" cy="1942.3" r="3.4"/><circle cx="1396.4" cy="1947.5" r="3.4"/><circle cx="1423.3" cy="1943.1" r="3.4"/><circle cx="1425.0" cy="1946.7" r="3.4"/><circle cx="1439.0" cy="1943.5" r="3.4"/><circle cx="1452.9" cy="1944.1" r="3.4"/><circle cx="1475.7" cy="1946.5" r="3.4"/><circle cx="1320.1" cy="1947.5" r="3.4"/><circle cx="1316.4" cy="1952.6" r="3.4"/><circle cx="1338.0" cy="1952.9" r="3.4"/><circle cx="1373.7" cy="1950.9" r="3.4"/><circle cx="1441.9" cy="1953.1" r="3.4"/><circle cx="1409.6" cy="1954.5" r="3.4"/><circle cx="1419.9" cy="1954.8" r="3.4"/><circle cx="1425.8" cy="1950.4" r="3.4"/><circle cx="1429.4" cy="1953.3" r="3.4"/><circle cx="1428.0" cy="1955.6" r="3.4"/><circle cx="1396.4" cy="1956.6" r="3.4"/><circle cx="1416.2" cy="1958.5" r="3.4"/><circle cx="1385.7" cy="1959.7" r="3.4"/><circle cx="1482.3" cy="1960.4" r="3.4"/><circle cx="1495.9" cy="1955.6" r="3.4"/><circle cx="1501.4" cy="1958.2" r="3.4"/><circle cx="1504.3" cy="1954.1" r="3.4"/><circle cx="1508.0" cy="1954.5" r="3.4"/><circle cx="1517.4" cy="1952.3" r="3.4"/><circle cx="1539.2" cy="1958.6" r="3.4"/><circle cx="1317.1" cy="1959.2" r="3.4"/><circle cx="1321.5" cy="1961.1" r="3.4"/><circle cx="1339.6" cy="1960.2" r="3.4"/><circle cx="1350.9" cy="1963.2" r="3.4"/><circle cx="1375.4" cy="1962.5" r="3.4"/><circle cx="1417.7" cy="1964.1" r="3.4"/><circle cx="1430.2" cy="1964.4" r="3.4"/><circle cx="1466.1" cy="1962.9" r="3.4"/><circle cx="1472.5" cy="1964.9" r="3.4"/><circle cx="1314.2" cy="1964.4" r="3.4"/><circle cx="1342.8" cy="1964.7" r="3.4"/><circle cx="1334.3" cy="1966.9" r="3.4"/><circle cx="1364.6" cy="1965.8" r="3.4"/><circle cx="1364.8" cy="1969.1" r="3.4"/><circle cx="1449.7" cy="1966.0" r="3.4"/><circle cx="1436.0" cy="1968.5" r="3.4"/><circle cx="1313.5" cy="1970.2" r="3.4"/><circle cx="1321.1" cy="1971.3" r="3.4"/><circle cx="1335.0" cy="1971.7" r="3.4"/><circle cx="1341.1" cy="1973.8" r="3.4"/><circle cx="1390.5" cy="1970.2" r="3.4"/><circle cx="1387.6" cy="1972.9" r="3.4"/><circle cx="1381.0" cy="1974.3" r="3.4"/><circle cx="1371.9" cy="1974.2" r="3.4"/><circle cx="1394.5" cy="1975.1" r="3.4"/><circle cx="1465.6" cy="1970.5" r="3.4"/><circle cx="1535.4" cy="1971.1" r="3.4"/><circle cx="1433.8" cy="1974.9" r="3.4"/><circle cx="1440.4" cy="1973.5" r="3.4"/><circle cx="1355.6" cy="1976.5" r="3.4"/><circle cx="1415.9" cy="1976.5" r="3.4"/><circle cx="1347.2" cy="1979.3" r="3.4"/><circle cx="1453.4" cy="1978.6" r="3.4"/><circle cx="1481.1" cy="1979.5" r="3.4"/><circle cx="1378.8" cy="1978.3" r="3.4"/><circle cx="1413.0" cy="1980.5" r="3.4"/><circle cx="1403.7" cy="1982.0" r="3.4"/><circle cx="1362.6" cy="1982.3" r="3.4"/><circle cx="1357.8" cy="1983.4" r="3.4"/><circle cx="1368.8" cy="1982.3" r="3.4"/><circle cx="1381.0" cy="1982.0" r="3.4"/><circle cx="1382.9" cy="1985.6" r="3.4"/><circle cx="1314.9" cy="1985.6" r="3.4"/><circle cx="1403.0" cy="1986.8" r="3.4"/><circle cx="1372.2" cy="1987.8" r="3.4"/><circle cx="1504.7" cy="1984.5" r="3.4"/><circle cx="1353.5" cy="1989.3" r="3.4"/><circle cx="1361.6" cy="1990.8" r="3.4"/><circle cx="1314.2" cy="1990.0" r="3.4"/><circle cx="1316.4" cy="1992.5" r="3.4"/><circle cx="1396.0" cy="1991.5" r="3.4"/><circle cx="1386.4" cy="1992.7" r="3.4"/><circle cx="1483.8" cy="1992.0" r="3.4"/><circle cx="1363.1" cy="1994.9" r="3.4"/><circle cx="1463.9" cy="1994.6" r="3.4"/><circle cx="1321.8" cy="1997.4" r="3.4"/><circle cx="1402.3" cy="1997.7" r="3.4"/><circle cx="1456.9" cy="1997.4" r="3.4"/><circle cx="1336.2" cy="2000.0" r="3.4"/><circle cx="1326.2" cy="2000.3" r="3.4"/><circle cx="1374.2" cy="2000.2" r="3.4"/><circle cx="1394.9" cy="1999.6" r="3.4"/><circle cx="1398.6" cy="2000.3" r="3.4"/><circle cx="1491.4" cy="1999.4" r="3.4"/><circle cx="1387.6" cy="2003.6" r="3.4"/><circle cx="1399.3" cy="2003.3" r="3.4"/><circle cx="1357.9" cy="2004.3" r="3.4"/><circle cx="1424.6" cy="2004.1" r="3.4"/><circle cx="1441.2" cy="2003.4" r="3.4"/><circle cx="1500.9" cy="2005.5" r="3.4"/><circle cx="1334.3" cy="2006.9" r="3.4"/><circle cx="1456.9" cy="2005.9" r="3.4"/><circle cx="1351.2" cy="2008.3" r="3.4"/><circle cx="1436.0" cy="2010.6" r="3.4"/><circle cx="1438.2" cy="2011.0" r="3.4"/><circle cx="1447.8" cy="2011.9" r="3.4"/><circle cx="1405.7" cy="2014.3" r="3.4"/><circle cx="1454.1" cy="2016.9" r="3.4"/><circle cx="1442.2" cy="2018.7" r="3.4"/><circle cx="1420.8" cy="2019.0" r="3.4"/><circle cx="1324.8" cy="2020.1" r="3.4"/><circle cx="1334.0" cy="2023.8" r="3.4"/><circle cx="1339.6" cy="2022.8" r="3.4"/><circle cx="1364.8" cy="2025.3" r="3.4"/><circle cx="1355.7" cy="2027.5" r="3.4"/><circle cx="1313.8" cy="2026.7" r="3.4"/><circle cx="1319.6" cy="2030.0" r="3.4"/><circle cx="1365.6" cy="2030.0" r="3.4"/><circle cx="1356.0" cy="2031.9" r="3.4"/><circle cx="1361.2" cy="2032.6" r="3.4"/><circle cx="1360.4" cy="2037.0" r="3.4"/><circle cx="1450.0" cy="2032.3" r="3.4"/><circle cx="1383.5" cy="2038.5" r="3.4"/><circle cx="1328.9" cy="2041.7" r="3.4"/><circle cx="1396.0" cy="2042.3" r="3.4"/><circle cx="1447.8" cy="2041.4" r="3.4"/><circle cx="1388.0" cy="2043.2" r="3.4"/><circle cx="1368.5" cy="2045.4" r="3.4"/><circle cx="1390.5" cy="2047.6" r="3.4"/><circle cx="1423.1" cy="2053.6" r="3.4"/><circle cx="1319.6" cy="2055.1" r="3.4"/><circle cx="1343.3" cy="2053.3" r="3.4"/><circle cx="1380.3" cy="2054.6" r="3.4"/><circle cx="1385.0" cy="2056.8" r="3.4"/><circle cx="1346.5" cy="2058.3" r="3.4"/><circle cx="1367.9" cy="2060.2" r="3.4"/><circle cx="1426.7" cy="2064.5" r="3.4"/><circle cx="1448.8" cy="2069.9" r="3.4"/><circle cx="1470.1" cy="2070.1" r="3.4"/><circle cx="1416.1" cy="2075.8" r="3.4"/><circle cx="1332.0" cy="2084.0" r="3.4"/><circle cx="1419.3" cy="2089.4" r="3.4"/><circle cx="1394.9" cy="2091.6" r="3.4"/><circle cx="1458.2" cy="2092.7" r="3.4"/><circle cx="1393.3" cy="2098.4" r="3.4"/></g>
<g class="di"><circle cx="1103.4" cy="1613.1" r="0.7"/><circle cx="1127.3" cy="1635.4" r="0.7"/><circle cx="1098.3" cy="1652.0" r="0.7"/><circle cx="1124.8" cy="1648.9" r="0.7"/><circle cx="1140.5" cy="1659.3" r="0.7"/><circle cx="1138.0" cy="1661.8" r="0.7"/><circle cx="1231.3" cy="1668.9" r="0.7"/><circle cx="1226.4" cy="1671.3" r="0.7"/><circle cx="1117.5" cy="1671.1" r="0.7"/><circle cx="1126.3" cy="1671.8" r="0.7"/><circle cx="1155.2" cy="1677.5" r="0.7"/><circle cx="1122.6" cy="1681.9" r="0.7"/><circle cx="1163.0" cy="1682.4" r="0.7"/><circle cx="1145.7" cy="1683.8" r="0.7"/><circle cx="1171.4" cy="1685.0" r="0.7"/><circle cx="1550.8" cy="1680.9" r="0.7"/><circle cx="1634.7" cy="1497.8" r="0.7"/><circle cx="1623.7" cy="1506.9" r="0.7"/><circle cx="1604.4" cy="1524.0" r="0.7"/><circle cx="1650.4" cy="1527.9" r="0.7"/><circle cx="1613.7" cy="1533.4" r="0.7"/><circle cx="1616.1" cy="1540.7" r="0.7"/><circle cx="1584.1" cy="1551.6" r="0.7"/><circle cx="1714.5" cy="1556.4" r="0.7"/><circle cx="1697.1" cy="1578.1" r="0.7"/><circle cx="1681.9" cy="1591.0" r="0.7"/><circle cx="1572.4" cy="1589.4" r="0.7"/><circle cx="1593.8" cy="1591.6" r="0.7"/><circle cx="1584.8" cy="1596.5" r="0.7"/><circle cx="1567.4" cy="1609.4" r="0.7"/><circle cx="1576.6" cy="1616.9" r="0.7"/><circle cx="1581.2" cy="1628.9" r="0.7"/><circle cx="1598.8" cy="1638.5" r="0.7"/><circle cx="1566.8" cy="1661.5" r="0.7"/><circle cx="1564.9" cy="1684.6" r="0.7"/><circle cx="1581.2" cy="1685.0" r="0.7"/><circle cx="1652.4" cy="1685.0" r="0.7"/><circle cx="1122.6" cy="1685.0" r="0.7"/><circle cx="1163.0" cy="1685.0" r="0.7"/><circle cx="1171.4" cy="1687.5" r="0.7"/><circle cx="1148.6" cy="1691.6" r="0.7"/><circle cx="1142.4" cy="1694.8" r="0.7"/><circle cx="1178.3" cy="1697.2" r="0.7"/><circle cx="1258.7" cy="1693.4" r="0.7"/><circle cx="1150.1" cy="1699.7" r="0.7"/><circle cx="1128.9" cy="1702.2" r="0.7"/><circle cx="1143.9" cy="1703.3" r="0.7"/><circle cx="1150.5" cy="1701.9" r="0.7"/><circle cx="1181.1" cy="1704.8" r="0.7"/><circle cx="1102.1" cy="1707.5" r="0.7"/><circle cx="1248.7" cy="1708.2" r="0.7"/><circle cx="1161.7" cy="1711.4" r="0.7"/><circle cx="1155.7" cy="1715.1" r="0.7"/><circle cx="1169.9" cy="1712.9" r="0.7"/><circle cx="1173.9" cy="1711.9" r="0.7"/><circle cx="1177.2" cy="1714.4" r="0.7"/><circle cx="1185.2" cy="1714.4" r="0.7"/><circle cx="1160.4" cy="1718.5" r="0.7"/><circle cx="1152.3" cy="1720.5" r="0.7"/><circle cx="1136.3" cy="1720.4" r="0.7"/><circle cx="1204.2" cy="1717.4" r="0.7"/><circle cx="1244.6" cy="1716.9" r="0.7"/><circle cx="1177.5" cy="1723.2" r="0.7"/><circle cx="1247.3" cy="1724.6" r="0.7"/><circle cx="1210.3" cy="1726.5" r="0.7"/><circle cx="1156.4" cy="1728.6" r="0.7"/><circle cx="1183.0" cy="1728.7" r="0.7"/><circle cx="1172.4" cy="1731.5" r="0.7"/><circle cx="1199.0" cy="1733.3" r="0.7"/><circle cx="1245.5" cy="1736.4" r="0.7"/><circle cx="1193.1" cy="1738.6" r="0.7"/><circle cx="1191.2" cy="1740.5" r="0.7"/><circle cx="1170.9" cy="1742.3" r="0.7"/><circle cx="1175.0" cy="1741.1" r="0.7"/><circle cx="1178.0" cy="1740.8" r="0.7"/><circle cx="1125.9" cy="1742.7" r="0.7"/><circle cx="1146.0" cy="1743.7" r="0.7"/><circle cx="1163.6" cy="1744.7" r="0.7"/><circle cx="1161.1" cy="1748.1" r="0.7"/><circle cx="1181.9" cy="1746.2" r="0.7"/><circle cx="1224.9" cy="1745.6" r="0.7"/><circle cx="1244.8" cy="1743.7" r="0.7"/><circle cx="1241.8" cy="1747.4" r="0.7"/><circle cx="1223.9" cy="1750.8" r="0.7"/><circle cx="1255.6" cy="1750.8" r="0.7"/><circle cx="1242.6" cy="1753.0" r="0.7"/><circle cx="1113.4" cy="1751.9" r="0.7"/><circle cx="1296.1" cy="1752.2" r="0.7"/><circle cx="1167.7" cy="1754.3" r="0.7"/><circle cx="1235.5" cy="1756.2" r="0.7"/><circle cx="1216.1" cy="1756.5" r="0.7"/><circle cx="1219.1" cy="1756.5" r="0.7"/><circle cx="1210.0" cy="1758.0" r="0.7"/><circle cx="1187.1" cy="1757.4" r="0.7"/><circle cx="1284.1" cy="1758.1" r="0.7"/><circle cx="1234.5" cy="1761.8" r="0.7"/><circle cx="1239.6" cy="1765.7" r="0.7"/><circle cx="1202.9" cy="1765.7" r="0.7"/><circle cx="1161.8" cy="1765.3" r="0.7"/><circle cx="1151.5" cy="1765.7" r="0.7"/><circle cx="1152.7" cy="1768.7" r="0.7"/><circle cx="1139.4" cy="1767.2" r="0.7"/><circle cx="1165.5" cy="1768.7" r="0.7"/><circle cx="1171.4" cy="1770.1" r="0.7"/><circle cx="1292.6" cy="1767.4" r="0.7"/><circle cx="1205.9" cy="1772.1" r="0.7"/><circle cx="1180.9" cy="1772.1" r="0.7"/><circle cx="1197.2" cy="1773.8" r="0.7"/><circle cx="1237.9" cy="1775.3" r="0.7"/><circle cx="1243.3" cy="1776.0" r="0.7"/><circle cx="1241.8" cy="1779.0" r="0.7"/><circle cx="1220.1" cy="1776.9" r="0.7"/><circle cx="1287.2" cy="1779.0" r="0.7"/><circle cx="1265.6" cy="1779.7" r="0.7"/><circle cx="1160.8" cy="1778.5" r="0.7"/><circle cx="1161.1" cy="1781.9" r="0.7"/><circle cx="1158.0" cy="1785.3" r="0.7"/><circle cx="1184.7" cy="1780.4" r="0.7"/><circle cx="1207.3" cy="1779.7" r="0.7"/><circle cx="1211.4" cy="1781.9" r="0.7"/><circle cx="1192.4" cy="1781.9" r="0.7"/><circle cx="1195.3" cy="1784.5" r="0.7"/><circle cx="1250.3" cy="1782.3" r="0.7"/><circle cx="1305.7" cy="1783.1" r="0.7"/><circle cx="1311.6" cy="1776.0" r="0.7"/><circle cx="1170.9" cy="1785.0" r="0.7"/><circle cx="1175.0" cy="1786.3" r="0.7"/><circle cx="1207.3" cy="1787.8" r="0.7"/><circle cx="1219.5" cy="1787.5" r="0.7"/><circle cx="1261.6" cy="1788.1" r="0.7"/><circle cx="1178.4" cy="1791.6" r="0.7"/><circle cx="1191.2" cy="1795.5" r="0.7"/><circle cx="1244.0" cy="1797.0" r="0.7"/><circle cx="1227.1" cy="1798.3" r="0.7"/><circle cx="1233.5" cy="1798.3" r="0.7"/><circle cx="1178.9" cy="1799.2" r="0.7"/><circle cx="1277.8" cy="1797.9" r="0.7"/><circle cx="1283.7" cy="1797.3" r="0.7"/><circle cx="1284.8" cy="1794.4" r="0.7"/><circle cx="1291.7" cy="1799.2" r="0.7"/><circle cx="1303.5" cy="1799.8" r="0.7"/><circle cx="1193.4" cy="1803.2" r="0.7"/><circle cx="1191.9" cy="1804.9" r="0.7"/><circle cx="1159.5" cy="1806.8" r="0.7"/><circle cx="1170.3" cy="1806.4" r="0.7"/><circle cx="1264.3" cy="1803.3" r="0.7"/><circle cx="1243.7" cy="1805.8" r="0.7"/><circle cx="1283.7" cy="1805.4" r="0.7"/><circle cx="1284.4" cy="1807.6" r="0.7"/><circle cx="1292.5" cy="1804.6" r="0.7"/><circle cx="1217.6" cy="1809.6" r="0.7"/><circle cx="1235.5" cy="1809.5" r="0.7"/><circle cx="1236.7" cy="1812.7" r="0.7"/><circle cx="1244.8" cy="1812.7" r="0.7"/><circle cx="1255.8" cy="1813.4" r="0.7"/><circle cx="1256.5" cy="1816.4" r="0.7"/><circle cx="1130.1" cy="1813.3" r="0.7"/><circle cx="1195.3" cy="1815.7" r="0.7"/><circle cx="1228.9" cy="1815.4" r="0.7"/><circle cx="1284.7" cy="1816.8" r="0.7"/><circle cx="1291.0" cy="1817.1" r="0.7"/><circle cx="1293.9" cy="1816.7" r="0.7"/><circle cx="1296.6" cy="1815.7" r="0.7"/><circle cx="1311.6" cy="1816.1" r="0.7"/><circle cx="1220.8" cy="1818.3" r="0.7"/><circle cx="1211.0" cy="1819.8" r="0.7"/><circle cx="1230.8" cy="1821.2" r="0.7"/><circle cx="1203.5" cy="1822.7" r="0.7"/><circle cx="1192.4" cy="1824.2" r="0.7"/><circle cx="1124.8" cy="1823.7" r="0.7"/><circle cx="1242.6" cy="1823.0" r="0.7"/><circle cx="1241.4" cy="1825.6" r="0.7"/><circle cx="1257.2" cy="1824.5" r="0.7"/><circle cx="1267.2" cy="1825.9" r="0.7"/><circle cx="1277.8" cy="1823.4" r="0.7"/><circle cx="1235.7" cy="1827.4" r="0.7"/><circle cx="1292.0" cy="1828.1" r="0.7"/><circle cx="1304.7" cy="1827.4" r="0.7"/><circle cx="1285.0" cy="1831.1" r="0.7"/><circle cx="1311.6" cy="1822.3" r="0.7"/><circle cx="1222.0" cy="1832.1" r="0.7"/><circle cx="1232.3" cy="1832.5" r="0.7"/><circle cx="1126.6" cy="1834.3" r="0.7"/><circle cx="1149.8" cy="1834.4" r="0.7"/><circle cx="1169.6" cy="1838.1" r="0.7"/><circle cx="1208.5" cy="1833.7" r="0.7"/><circle cx="1213.6" cy="1838.1" r="0.7"/><circle cx="1259.4" cy="1833.6" r="0.7"/><circle cx="1269.7" cy="1834.0" r="0.7"/><circle cx="1277.8" cy="1835.9" r="0.7"/><circle cx="1227.9" cy="1836.9" r="0.7"/><circle cx="1224.9" cy="1842.1" r="0.7"/><circle cx="1227.9" cy="1840.3" r="0.7"/><circle cx="1232.3" cy="1840.6" r="0.7"/><circle cx="1232.0" cy="1845.0" r="0.7"/><circle cx="1243.6" cy="1840.3" r="0.7"/><circle cx="1252.1" cy="1842.5" r="0.7"/><circle cx="1260.2" cy="1843.3" r="0.7"/><circle cx="1263.1" cy="1839.9" r="0.7"/><circle cx="1267.1" cy="1839.9" r="0.7"/><circle cx="1185.3" cy="1842.1" r="0.7"/><circle cx="1308.3" cy="1841.0" r="0.7"/><circle cx="1165.5" cy="1846.9" r="0.7"/><circle cx="1163.6" cy="1852.1" r="0.7"/><circle cx="1188.5" cy="1849.1" r="0.7"/><circle cx="1198.1" cy="1848.5" r="0.7"/><circle cx="1217.9" cy="1850.0" r="0.7"/><circle cx="1224.9" cy="1850.9" r="0.7"/><circle cx="1230.1" cy="1852.8" r="0.7"/><circle cx="1237.9" cy="1852.4" r="0.7"/><circle cx="1285.7" cy="1847.9" r="0.7"/><circle cx="1236.0" cy="1859.0" r="0.7"/><circle cx="1152.3" cy="1859.7" r="0.7"/><circle cx="1153.0" cy="1862.3" r="0.7"/><circle cx="1261.2" cy="1860.1" r="0.7"/><circle cx="1269.0" cy="1860.4" r="0.7"/><circle cx="1273.4" cy="1862.9" r="0.7"/><circle cx="1285.7" cy="1860.7" r="0.7"/><circle cx="1208.1" cy="1862.8" r="0.7"/><circle cx="1307.9" cy="1862.2" r="0.7"/><circle cx="1169.9" cy="1869.2" r="0.7"/><circle cx="1172.8" cy="1871.7" r="0.7"/><circle cx="1179.4" cy="1868.2" r="0.7"/><circle cx="1180.2" cy="1872.2" r="0.7"/><circle cx="1218.5" cy="1870.4" r="0.7"/><circle cx="1225.2" cy="1869.2" r="0.7"/><circle cx="1264.3" cy="1869.2" r="0.7"/><circle cx="1233.5" cy="1872.6" r="0.7"/><circle cx="1239.9" cy="1872.6" r="0.7"/><circle cx="1254.6" cy="1873.6" r="0.7"/><circle cx="1188.2" cy="1874.8" r="0.7"/><circle cx="1228.3" cy="1877.6" r="0.7"/><circle cx="1177.2" cy="1877.6" r="0.7"/><circle cx="1287.3" cy="1870.3" r="0.7"/><circle cx="1289.5" cy="1872.9" r="0.7"/><circle cx="1301.6" cy="1872.5" r="0.7"/><circle cx="1274.9" cy="1876.3" r="0.7"/><circle cx="1281.5" cy="1875.8" r="0.7"/><circle cx="1293.5" cy="1876.6" r="0.7"/><circle cx="1302.0" cy="1877.3" r="0.7"/><circle cx="1154.9" cy="1878.0" r="0.7"/><circle cx="1147.4" cy="1880.2" r="0.7"/><circle cx="1259.4" cy="1880.2" r="0.7"/><circle cx="1263.8" cy="1879.5" r="0.7"/><circle cx="1261.9" cy="1882.7" r="0.7"/><circle cx="1268.3" cy="1882.4" r="0.7"/><circle cx="1280.7" cy="1880.0" r="0.7"/><circle cx="1276.3" cy="1881.7" r="0.7"/><circle cx="1213.2" cy="1883.5" r="0.7"/><circle cx="1217.9" cy="1884.6" r="0.7"/><circle cx="1216.4" cy="1888.8" r="0.7"/><circle cx="1163.0" cy="1887.9" r="0.7"/><circle cx="1250.6" cy="1886.4" r="0.7"/><circle cx="1271.2" cy="1888.3" r="0.7"/><circle cx="1279.7" cy="1888.3" r="0.7"/><circle cx="1296.1" cy="1882.4" r="0.7"/><circle cx="1299.1" cy="1882.7" r="0.7"/><circle cx="1310.1" cy="1888.3" r="0.7"/><circle cx="1310.1" cy="1893.5" r="0.7"/><circle cx="1212.8" cy="1896.4" r="0.7"/><circle cx="1216.9" cy="1898.6" r="0.7"/><circle cx="1220.5" cy="1898.6" r="0.7"/><circle cx="1221.3" cy="1900.8" r="0.7"/><circle cx="1215.0" cy="1903.4" r="0.7"/><circle cx="1229.4" cy="1900.8" r="0.7"/><circle cx="1291.0" cy="1896.4" r="0.7"/><circle cx="1299.8" cy="1896.4" r="0.7"/><circle cx="1289.5" cy="1900.4" r="0.7"/><circle cx="1255.8" cy="1902.3" r="0.7"/><circle cx="1258.7" cy="1904.5" r="0.7"/><circle cx="1263.8" cy="1901.5" r="0.7"/><circle cx="1280.0" cy="1903.7" r="0.7"/><circle cx="1297.6" cy="1902.7" r="0.7"/><circle cx="1306.4" cy="1903.4" r="0.7"/><circle cx="1201.6" cy="1905.3" r="0.7"/><circle cx="1213.9" cy="1908.4" r="0.7"/><circle cx="1212.5" cy="1912.5" r="0.7"/><circle cx="1249.9" cy="1909.9" r="0.7"/><circle cx="1258.0" cy="1908.1" r="0.7"/><circle cx="1270.5" cy="1907.8" r="0.7"/><circle cx="1276.6" cy="1906.7" r="0.7"/><circle cx="1275.3" cy="1911.8" r="0.7"/><circle cx="1286.6" cy="1912.2" r="0.7"/><circle cx="1290.3" cy="1909.6" r="0.7"/><circle cx="1293.9" cy="1907.4" r="0.7"/><circle cx="1299.8" cy="1911.8" r="0.7"/><circle cx="1305.0" cy="1909.9" r="0.7"/><circle cx="1311.6" cy="1914.0" r="0.7"/><circle cx="1189.0" cy="1916.7" r="0.7"/><circle cx="1234.5" cy="1923.7" r="0.7"/><circle cx="1224.9" cy="1928.0" r="0.7"/><circle cx="1226.4" cy="1930.9" r="0.7"/><circle cx="1215.0" cy="1931.6" r="0.7"/><circle cx="1233.0" cy="1933.1" r="0.7"/><circle cx="1245.5" cy="1930.4" r="0.7"/><circle cx="1256.5" cy="1932.4" r="0.7"/><circle cx="1264.6" cy="1927.2" r="0.7"/><circle cx="1271.2" cy="1925.3" r="0.7"/><circle cx="1270.5" cy="1929.4" r="0.7"/><circle cx="1283.7" cy="1926.5" r="0.7"/><circle cx="1290.0" cy="1925.8" r="0.7"/><circle cx="1288.8" cy="1929.9" r="0.7"/><circle cx="1276.3" cy="1934.6" r="0.7"/><circle cx="1310.1" cy="1930.9" r="0.7"/><circle cx="1399.2" cy="1704.1" r="0.7"/><circle cx="1535.1" cy="1699.4" r="0.7"/><circle cx="1534.0" cy="1709.5" r="0.7"/><circle cx="1559.8" cy="1706.3" r="0.7"/><circle cx="1552.3" cy="1713.3" r="0.7"/><circle cx="1551.6" cy="1722.1" r="0.7"/><circle cx="1432.2" cy="1729.8" r="0.7"/><circle cx="1426.2" cy="1739.0" r="0.7"/><circle cx="1441.3" cy="1737.4" r="0.7"/><circle cx="1318.2" cy="1742.3" r="0.7"/><circle cx="1327.6" cy="1742.0" r="0.7"/><circle cx="1531.5" cy="1741.7" r="0.7"/><circle cx="1546.1" cy="1737.4" r="0.7"/><circle cx="1553.8" cy="1743.7" r="0.7"/><circle cx="1550.3" cy="1748.6" r="0.7"/><circle cx="1509.3" cy="1757.7" r="0.7"/><circle cx="1321.4" cy="1760.6" r="0.7"/><circle cx="1389.4" cy="1762.4" r="0.7"/><circle cx="1507.5" cy="1769.1" r="0.7"/><circle cx="1539.5" cy="1772.8" r="0.7"/><circle cx="1336.8" cy="1778.1" r="0.7"/><circle cx="1405.8" cy="1775.3" r="0.7"/><circle cx="1534.8" cy="1777.2" r="0.7"/><circle cx="1552.9" cy="1776.0" r="0.7"/><circle cx="1463.6" cy="1782.3" r="0.7"/><circle cx="1342.1" cy="1785.9" r="0.7"/><circle cx="1509.0" cy="1784.8" r="0.7"/><circle cx="1484.9" cy="1786.0" r="0.7"/><circle cx="1486.7" cy="1787.5" r="0.7"/><circle cx="1330.6" cy="1789.4" r="0.7"/><circle cx="1377.3" cy="1790.4" r="0.7"/><circle cx="1377.0" cy="1795.8" r="0.7"/><circle cx="1398.0" cy="1792.2" r="0.7"/><circle cx="1416.5" cy="1793.6" r="0.7"/><circle cx="1320.7" cy="1795.0" r="0.7"/><circle cx="1513.8" cy="1790.4" r="0.7"/><circle cx="1516.3" cy="1793.6" r="0.7"/><circle cx="1467.6" cy="1796.1" r="0.7"/><circle cx="1467.6" cy="1801.7" r="0.7"/><circle cx="1352.2" cy="1798.2" r="0.7"/><circle cx="1497.0" cy="1798.5" r="0.7"/><circle cx="1521.6" cy="1799.8" r="0.7"/><circle cx="1431.6" cy="1803.9" r="0.7"/><circle cx="1440.7" cy="1804.3" r="0.7"/><circle cx="1454.5" cy="1802.9" r="0.7"/><circle cx="1533.7" cy="1803.2" r="0.7"/><circle cx="1326.4" cy="1807.6" r="0.7"/><circle cx="1382.9" cy="1808.0" r="0.7"/><circle cx="1514.6" cy="1807.6" r="0.7"/><circle cx="1520.0" cy="1808.0" r="0.7"/><circle cx="1318.0" cy="1810.8" r="0.7"/><circle cx="1347.7" cy="1810.2" r="0.7"/><circle cx="1410.9" cy="1810.2" r="0.7"/><circle cx="1457.6" cy="1811.5" r="0.7"/><circle cx="1495.1" cy="1811.2" r="0.7"/><circle cx="1533.7" cy="1813.6" r="0.7"/><circle cx="1545.4" cy="1814.2" r="0.7"/><circle cx="1559.8" cy="1812.4" r="0.7"/><circle cx="1338.1" cy="1813.4" r="0.7"/><circle cx="1340.6" cy="1817.1" r="0.7"/><circle cx="1454.4" cy="1815.7" r="0.7"/><circle cx="1513.1" cy="1815.2" r="0.7"/><circle cx="1371.7" cy="1817.3" r="0.7"/><circle cx="1461.0" cy="1817.9" r="0.7"/><circle cx="1525.4" cy="1817.7" r="0.7"/><circle cx="1478.2" cy="1819.8" r="0.7"/><circle cx="1488.3" cy="1822.4" r="0.7"/><circle cx="1504.6" cy="1823.4" r="0.7"/><circle cx="1551.6" cy="1822.7" r="0.7"/><circle cx="1411.1" cy="1824.5" r="0.7"/><circle cx="1420.8" cy="1824.5" r="0.7"/><circle cx="1519.0" cy="1827.4" r="0.7"/><circle cx="1438.1" cy="1829.6" r="0.7"/><circle cx="1456.5" cy="1829.6" r="0.7"/><circle cx="1477.9" cy="1829.2" r="0.7"/><circle cx="1477.1" cy="1831.4" r="0.7"/><circle cx="1510.9" cy="1829.9" r="0.7"/><circle cx="1556.4" cy="1829.6" r="0.7"/><circle cx="1394.9" cy="1831.5" r="0.7"/><circle cx="1403.5" cy="1830.2" r="0.7"/><circle cx="1451.2" cy="1832.5" r="0.7"/><circle cx="1548.1" cy="1831.5" r="0.7"/><circle cx="1333.9" cy="1838.1" r="0.7"/><circle cx="1373.9" cy="1836.1" r="0.7"/><circle cx="1434.4" cy="1836.2" r="0.7"/><circle cx="1473.5" cy="1836.2" r="0.7"/><circle cx="1498.1" cy="1836.2" r="0.7"/><circle cx="1551.3" cy="1836.2" r="0.7"/><circle cx="1412.9" cy="1841.3" r="0.7"/><circle cx="1473.5" cy="1841.3" r="0.7"/><circle cx="1498.4" cy="1841.3" r="0.7"/><circle cx="1508.3" cy="1843.0" r="0.7"/><circle cx="1333.3" cy="1845.3" r="0.7"/><circle cx="1347.7" cy="1844.7" r="0.7"/><circle cx="1422.1" cy="1843.5" r="0.7"/><circle cx="1481.3" cy="1843.8" r="0.7"/><circle cx="1392.2" cy="1845.3" r="0.7"/><circle cx="1355.7" cy="1846.5" r="0.7"/><circle cx="1369.7" cy="1847.1" r="0.7"/><circle cx="1342.4" cy="1849.1" r="0.7"/><circle cx="1347.2" cy="1850.9" r="0.7"/><circle cx="1360.2" cy="1850.3" r="0.7"/><circle cx="1467.6" cy="1846.9" r="0.7"/><circle cx="1475.4" cy="1847.5" r="0.7"/><circle cx="1495.5" cy="1847.7" r="0.7"/><circle cx="1501.7" cy="1848.7" r="0.7"/><circle cx="1463.2" cy="1851.2" r="0.7"/><circle cx="1372.2" cy="1852.1" r="0.7"/><circle cx="1335.9" cy="1855.3" r="0.7"/><circle cx="1348.0" cy="1855.6" r="0.7"/><circle cx="1420.3" cy="1854.3" r="0.7"/><circle cx="1378.5" cy="1856.8" r="0.7"/><circle cx="1537.3" cy="1855.7" r="0.7"/><circle cx="1445.6" cy="1860.4" r="0.7"/><circle cx="1450.0" cy="1859.0" r="0.7"/><circle cx="1454.1" cy="1858.5" r="0.7"/><circle cx="1460.7" cy="1861.0" r="0.7"/><circle cx="1351.2" cy="1863.8" r="0.7"/><circle cx="1383.8" cy="1863.8" r="0.7"/><circle cx="1447.1" cy="1863.8" r="0.7"/><circle cx="1479.1" cy="1865.0" r="0.7"/><circle cx="1363.7" cy="1866.6" r="0.7"/><circle cx="1329.3" cy="1868.1" r="0.7"/><circle cx="1338.6" cy="1868.6" r="0.7"/><circle cx="1398.3" cy="1868.9" r="0.7"/><circle cx="1445.1" cy="1868.1" r="0.7"/><circle cx="1415.9" cy="1868.4" r="0.7"/><circle cx="1523.0" cy="1870.4" r="0.7"/><circle cx="1518.3" cy="1872.2" r="0.7"/><circle cx="1520.5" cy="1873.6" r="0.7"/><circle cx="1553.2" cy="1870.6" r="0.7"/><circle cx="1320.8" cy="1872.2" r="0.7"/><circle cx="1459.5" cy="1871.9" r="0.7"/><circle cx="1468.2" cy="1870.7" r="0.7"/><circle cx="1477.4" cy="1872.5" r="0.7"/><circle cx="1394.2" cy="1872.6" r="0.7"/><circle cx="1419.9" cy="1871.9" r="0.7"/><circle cx="1355.9" cy="1873.2" r="0.7"/><circle cx="1440.4" cy="1874.7" r="0.7"/><circle cx="1503.0" cy="1875.8" r="0.7"/><circle cx="1392.7" cy="1876.6" r="0.7"/><circle cx="1454.1" cy="1876.6" r="0.7"/><circle cx="1323.3" cy="1878.5" r="0.7"/><circle cx="1338.1" cy="1879.5" r="0.7"/><circle cx="1345.9" cy="1878.8" r="0.7"/><circle cx="1356.0" cy="1879.5" r="0.7"/><circle cx="1424.6" cy="1878.0" r="0.7"/><circle cx="1424.3" cy="1882.4" r="0.7"/><circle cx="1373.2" cy="1881.0" r="0.7"/><circle cx="1332.6" cy="1882.0" r="0.7"/><circle cx="1414.3" cy="1882.0" r="0.7"/><circle cx="1473.2" cy="1882.7" r="0.7"/><circle cx="1480.8" cy="1880.7" r="0.7"/><circle cx="1514.6" cy="1880.5" r="0.7"/><circle cx="1532.9" cy="1882.7" r="0.7"/><circle cx="1540.0" cy="1880.2" r="0.7"/><circle cx="1315.7" cy="1886.1" r="0.7"/><circle cx="1318.6" cy="1888.8" r="0.7"/><circle cx="1354.1" cy="1884.2" r="0.7"/><circle cx="1385.0" cy="1884.4" r="0.7"/><circle cx="1391.3" cy="1885.1" r="0.7"/><circle cx="1450.7" cy="1883.9" r="0.7"/><circle cx="1453.7" cy="1886.8" r="0.7"/><circle cx="1536.6" cy="1884.6" r="0.7"/><circle cx="1332.3" cy="1888.5" r="0.7"/><circle cx="1359.0" cy="1888.3" r="0.7"/><circle cx="1367.2" cy="1888.3" r="0.7"/><circle cx="1406.2" cy="1888.5" r="0.7"/><circle cx="1414.3" cy="1888.8" r="0.7"/><circle cx="1447.8" cy="1889.1" r="0.7"/><circle cx="1468.6" cy="1887.9" r="0.7"/><circle cx="1517.1" cy="1890.5" r="0.7"/><circle cx="1524.9" cy="1890.1" r="0.7"/><circle cx="1531.8" cy="1890.5" r="0.7"/><circle cx="1368.5" cy="1892.0" r="0.7"/><circle cx="1343.1" cy="1892.3" r="0.7"/><circle cx="1351.3" cy="1894.2" r="0.7"/><circle cx="1395.2" cy="1893.5" r="0.7"/><circle cx="1413.6" cy="1893.2" r="0.7"/><circle cx="1505.5" cy="1892.7" r="0.7"/><circle cx="1392.0" cy="1896.7" r="0.7"/><circle cx="1451.9" cy="1897.9" r="0.7"/><circle cx="1466.1" cy="1897.9" r="0.7"/><circle cx="1470.5" cy="1897.9" r="0.7"/><circle cx="1498.4" cy="1897.4" r="0.7"/><circle cx="1543.2" cy="1896.0" r="0.7"/><circle cx="1363.4" cy="1898.6" r="0.7"/><circle cx="1342.1" cy="1899.0" r="0.7"/><circle cx="1394.2" cy="1901.1" r="0.7"/><circle cx="1401.5" cy="1902.0" r="0.7"/><circle cx="1406.0" cy="1902.3" r="0.7"/><circle cx="1408.9" cy="1901.5" r="0.7"/><circle cx="1429.1" cy="1900.1" r="0.7"/><circle cx="1441.2" cy="1900.8" r="0.7"/><circle cx="1441.6" cy="1903.7" r="0.7"/><circle cx="1507.0" cy="1900.4" r="0.7"/><circle cx="1514.6" cy="1899.8" r="0.7"/><circle cx="1540.7" cy="1900.4" r="0.7"/><circle cx="1326.4" cy="1901.8" r="0.7"/><circle cx="1486.4" cy="1904.9" r="0.7"/><circle cx="1535.0" cy="1904.8" r="0.7"/><circle cx="1424.6" cy="1908.9" r="0.7"/><circle cx="1425.0" cy="1911.1" r="0.7"/><circle cx="1399.6" cy="1908.6" r="0.7"/><circle cx="1333.6" cy="1910.0" r="0.7"/><circle cx="1352.8" cy="1909.6" r="0.7"/><circle cx="1376.6" cy="1908.9" r="0.7"/><circle cx="1443.7" cy="1909.6" r="0.7"/><circle cx="1487.1" cy="1910.3" r="0.7"/><circle cx="1555.7" cy="1909.8" r="0.7"/><circle cx="1317.9" cy="1912.2" r="0.7"/><circle cx="1340.3" cy="1914.0" r="0.7"/><circle cx="1357.5" cy="1913.3" r="0.7"/><circle cx="1367.8" cy="1911.8" r="0.7"/><circle cx="1374.4" cy="1913.3" r="0.7"/><circle cx="1379.5" cy="1914.0" r="0.7"/><circle cx="1389.1" cy="1914.3" r="0.7"/><circle cx="1394.2" cy="1915.0" r="0.7"/><circle cx="1397.9" cy="1912.5" r="0.7"/><circle cx="1406.0" cy="1912.1" r="0.7"/><circle cx="1507.0" cy="1911.5" r="0.7"/><circle cx="1482.3" cy="1916.2" r="0.7"/><circle cx="1473.5" cy="1917.1" r="0.7"/><circle cx="1434.9" cy="1917.2" r="0.7"/><circle cx="1462.2" cy="1918.7" r="0.7"/><circle cx="1552.3" cy="1916.5" r="0.7"/><circle cx="1372.9" cy="1919.1" r="0.7"/><circle cx="1379.5" cy="1918.4" r="0.7"/><circle cx="1508.3" cy="1919.4" r="0.7"/><circle cx="1320.1" cy="1920.2" r="0.7"/><circle cx="1330.3" cy="1921.6" r="0.7"/><circle cx="1336.2" cy="1920.6" r="0.7"/><circle cx="1339.9" cy="1922.8" r="0.7"/><circle cx="1352.4" cy="1920.6" r="0.7"/><circle cx="1356.0" cy="1923.5" r="0.7"/><circle cx="1360.4" cy="1922.8" r="0.7"/><circle cx="1364.8" cy="1925.8" r="0.7"/><circle cx="1331.8" cy="1925.8" r="0.7"/><circle cx="1334.0" cy="1928.7" r="0.7"/><circle cx="1316.4" cy="1927.2" r="0.7"/><circle cx="1322.3" cy="1927.2" r="0.7"/><circle cx="1430.2" cy="1924.3" r="0.7"/><circle cx="1434.6" cy="1925.8" r="0.7"/><circle cx="1441.2" cy="1926.5" r="0.7"/><circle cx="1391.3" cy="1925.0" r="0.7"/><circle cx="1397.1" cy="1927.2" r="0.7"/><circle cx="1402.3" cy="1926.5" r="0.7"/><circle cx="1407.4" cy="1928.0" r="0.7"/><circle cx="1381.0" cy="1925.8" r="0.7"/><circle cx="1379.5" cy="1930.2" r="0.7"/><circle cx="1466.1" cy="1925.0" r="0.7"/><circle cx="1519.4" cy="1925.8" r="0.7"/><circle cx="1507.0" cy="1927.2" r="0.7"/><circle cx="1456.6" cy="1929.1" r="0.7"/><circle cx="1483.8" cy="1930.2" r="0.7"/><circle cx="1346.5" cy="1930.2" r="0.7"/><circle cx="1353.1" cy="1929.9" r="0.7"/><circle cx="1357.5" cy="1931.6" r="0.7"/><circle cx="1393.5" cy="1930.2" r="0.7"/><circle cx="1406.0" cy="1930.9" r="0.7"/><circle cx="1415.5" cy="1930.9" r="0.7"/><circle cx="1433.8" cy="1930.2" r="0.7"/><circle cx="1442.7" cy="1930.2" r="0.7"/><circle cx="1447.1" cy="1930.2" r="0.7"/><circle cx="1370.7" cy="1933.1" r="0.7"/><circle cx="1429.4" cy="1933.8" r="0.7"/><circle cx="1471.3" cy="1934.6" r="0.7"/><circle cx="1502.8" cy="1934.6" r="0.7"/><circle cx="1541.0" cy="1934.6" r="0.7"/><circle cx="1561.6" cy="1925.8" r="0.7"/><circle cx="1314.9" cy="1933.1" r="0.7"/><circle cx="1320.8" cy="1934.6" r="0.7"/><circle cx="1332.6" cy="1931.6" r="0.7"/><circle cx="1652.4" cy="1687.6" r="0.7"/><circle cx="1603.5" cy="1701.1" r="0.7"/><circle cx="1600.4" cy="1708.2" r="0.7"/><circle cx="1632.5" cy="1715.8" r="0.7"/><circle cx="1565.7" cy="1732.0" r="0.7"/><circle cx="1580.7" cy="1739.6" r="0.7"/><circle cx="1600.5" cy="1744.0" r="0.7"/><circle cx="1586.2" cy="1760.6" r="0.7"/><circle cx="1589.5" cy="1760.7" r="0.7"/><circle cx="1603.2" cy="1761.6" r="0.7"/><circle cx="1573.1" cy="1773.2" r="0.7"/><circle cx="1611.7" cy="1781.3" r="0.7"/><circle cx="1632.2" cy="1782.2" r="0.7"/><circle cx="1624.2" cy="1786.9" r="0.7"/><circle cx="1576.8" cy="1800.4" r="0.7"/><circle cx="1610.4" cy="1803.8" r="0.7"/><circle cx="1571.3" cy="1808.3" r="0.7"/><circle cx="1621.4" cy="1818.6" r="0.7"/><circle cx="1617.9" cy="1825.5" r="0.7"/><circle cx="1623.4" cy="1851.6" r="0.7"/><circle cx="1616.1" cy="1853.2" r="0.7"/><circle cx="1566.5" cy="1911.5" r="0.7"/><circle cx="1214.7" cy="1935.0" r="0.7"/><circle cx="1259.4" cy="1936.5" r="0.7"/><circle cx="1274.9" cy="1937.2" r="0.7"/><circle cx="1279.3" cy="1938.7" r="0.7"/><circle cx="1282.9" cy="1940.9" r="0.7"/><circle cx="1303.8" cy="1939.7" r="0.7"/><circle cx="1257.2" cy="1942.0" r="0.7"/><circle cx="1220.1" cy="1942.8" r="0.7"/><circle cx="1203.5" cy="1947.8" r="0.7"/><circle cx="1311.6" cy="1946.0" r="0.7"/><circle cx="1266.1" cy="1949.2" r="0.7"/><circle cx="1266.8" cy="1954.1" r="0.7"/><circle cx="1271.3" cy="1954.4" r="0.7"/><circle cx="1282.9" cy="1949.7" r="0.7"/><circle cx="1282.9" cy="1952.6" r="0.7"/><circle cx="1299.8" cy="1948.7" r="0.7"/><circle cx="1299.8" cy="1953.6" r="0.7"/><circle cx="1249.9" cy="1953.3" r="0.7"/><circle cx="1240.4" cy="1955.3" r="0.7"/><circle cx="1224.2" cy="1957.8" r="0.7"/><circle cx="1247.0" cy="1958.5" r="0.7"/><circle cx="1247.7" cy="1962.2" r="0.7"/><circle cx="1251.4" cy="1962.2" r="0.7"/><circle cx="1258.0" cy="1959.2" r="0.7"/><circle cx="1257.2" cy="1962.6" r="0.7"/><circle cx="1273.7" cy="1963.9" r="0.7"/><circle cx="1286.6" cy="1961.7" r="0.7"/><circle cx="1293.2" cy="1962.3" r="0.7"/><circle cx="1205.3" cy="1963.6" r="0.7"/><circle cx="1302.8" cy="1965.8" r="0.7"/><circle cx="1250.5" cy="1969.9" r="0.7"/><circle cx="1257.7" cy="1971.4" r="0.7"/><circle cx="1310.8" cy="1972.4" r="0.7"/><circle cx="1212.0" cy="1979.3" r="0.7"/><circle cx="1299.8" cy="1979.8" r="0.7"/><circle cx="1308.6" cy="1980.2" r="0.7"/><circle cx="1277.8" cy="1982.7" r="0.7"/><circle cx="1278.5" cy="1986.7" r="0.7"/><circle cx="1288.1" cy="1984.6" r="0.7"/><circle cx="1299.2" cy="1986.4" r="0.7"/><circle cx="1234.2" cy="1986.8" r="0.7"/><circle cx="1243.9" cy="1986.8" r="0.7"/><circle cx="1292.2" cy="1990.8" r="0.7"/><circle cx="1309.1" cy="1992.3" r="0.7"/><circle cx="1302.2" cy="1997.1" r="0.7"/><circle cx="1253.7" cy="2009.7" r="0.7"/><circle cx="1252.8" cy="2014.6" r="0.7"/><circle cx="1283.7" cy="2010.0" r="0.7"/><circle cx="1297.6" cy="2009.7" r="0.7"/><circle cx="1270.3" cy="2016.6" r="0.7"/><circle cx="1262.5" cy="2020.6" r="0.7"/><circle cx="1259.7" cy="2026.0" r="0.7"/><circle cx="1263.4" cy="2031.7" r="0.7"/><circle cx="1269.6" cy="2037.6" r="0.7"/><circle cx="1293.5" cy="2027.2" r="0.7"/><circle cx="1311.6" cy="2026.7" r="0.7"/><circle cx="1304.7" cy="2038.3" r="0.7"/><circle cx="1310.4" cy="2061.5" r="0.7"/><circle cx="1316.4" cy="1935.7" r="0.7"/><circle cx="1337.7" cy="1939.1" r="0.7"/><circle cx="1359.0" cy="1935.0" r="0.7"/><circle cx="1383.9" cy="1937.2" r="0.7"/><circle cx="1395.7" cy="1936.5" r="0.7"/><circle cx="1400.1" cy="1937.9" r="0.7"/><circle cx="1435.3" cy="1937.2" r="0.7"/><circle cx="1459.5" cy="1940.1" r="0.7"/><circle cx="1471.3" cy="1937.2" r="0.7"/><circle cx="1472.7" cy="1940.9" r="0.7"/><circle cx="1320.1" cy="1941.6" r="0.7"/><circle cx="1326.7" cy="1942.0" r="0.7"/><circle cx="1334.8" cy="1944.1" r="0.7"/><circle cx="1342.8" cy="1942.0" r="0.7"/><circle cx="1349.9" cy="1944.5" r="0.7"/><circle cx="1353.8" cy="1943.5" r="0.7"/><circle cx="1362.6" cy="1942.8" r="0.7"/><circle cx="1371.9" cy="1941.6" r="0.7"/><circle cx="1381.0" cy="1940.1" r="0.7"/><circle cx="1392.7" cy="1941.2" r="0.7"/><circle cx="1397.1" cy="1943.8" r="0.7"/><circle cx="1401.5" cy="1943.1" r="0.7"/><circle cx="1405.2" cy="1942.3" r="0.7"/><circle cx="1396.4" cy="1947.5" r="0.7"/><circle cx="1423.3" cy="1943.1" r="0.7"/><circle cx="1425.0" cy="1946.7" r="0.7"/><circle cx="1439.0" cy="1943.5" r="0.7"/><circle cx="1452.9" cy="1944.1" r="0.7"/><circle cx="1475.7" cy="1946.5" r="0.7"/><circle cx="1320.1" cy="1947.5" r="0.7"/><circle cx="1316.4" cy="1952.6" r="0.7"/><circle cx="1338.0" cy="1952.9" r="0.7"/><circle cx="1373.7" cy="1950.9" r="0.7"/><circle cx="1441.9" cy="1953.1" r="0.7"/><circle cx="1409.6" cy="1954.5" r="0.7"/><circle cx="1419.9" cy="1954.8" r="0.7"/><circle cx="1425.8" cy="1950.4" r="0.7"/><circle cx="1429.4" cy="1953.3" r="0.7"/><circle cx="1428.0" cy="1955.6" r="0.7"/><circle cx="1396.4" cy="1956.6" r="0.7"/><circle cx="1416.2" cy="1958.5" r="0.7"/><circle cx="1385.7" cy="1959.7" r="0.7"/><circle cx="1482.3" cy="1960.4" r="0.7"/><circle cx="1495.9" cy="1955.6" r="0.7"/><circle cx="1501.4" cy="1958.2" r="0.7"/><circle cx="1504.3" cy="1954.1" r="0.7"/><circle cx="1508.0" cy="1954.5" r="0.7"/><circle cx="1517.4" cy="1952.3" r="0.7"/><circle cx="1539.2" cy="1958.6" r="0.7"/><circle cx="1317.1" cy="1959.2" r="0.7"/><circle cx="1321.5" cy="1961.1" r="0.7"/><circle cx="1339.6" cy="1960.2" r="0.7"/><circle cx="1350.9" cy="1963.2" r="0.7"/><circle cx="1375.4" cy="1962.5" r="0.7"/><circle cx="1417.7" cy="1964.1" r="0.7"/><circle cx="1430.2" cy="1964.4" r="0.7"/><circle cx="1466.1" cy="1962.9" r="0.7"/><circle cx="1472.5" cy="1964.9" r="0.7"/><circle cx="1314.2" cy="1964.4" r="0.7"/><circle cx="1342.8" cy="1964.7" r="0.7"/><circle cx="1334.3" cy="1966.9" r="0.7"/><circle cx="1364.6" cy="1965.8" r="0.7"/><circle cx="1364.8" cy="1969.1" r="0.7"/><circle cx="1449.7" cy="1966.0" r="0.7"/><circle cx="1436.0" cy="1968.5" r="0.7"/><circle cx="1313.5" cy="1970.2" r="0.7"/><circle cx="1321.1" cy="1971.3" r="0.7"/><circle cx="1335.0" cy="1971.7" r="0.7"/><circle cx="1341.1" cy="1973.8" r="0.7"/><circle cx="1390.5" cy="1970.2" r="0.7"/><circle cx="1387.6" cy="1972.9" r="0.7"/><circle cx="1381.0" cy="1974.3" r="0.7"/><circle cx="1371.9" cy="1974.2" r="0.7"/><circle cx="1394.5" cy="1975.1" r="0.7"/><circle cx="1465.6" cy="1970.5" r="0.7"/><circle cx="1535.4" cy="1971.1" r="0.7"/><circle cx="1433.8" cy="1974.9" r="0.7"/><circle cx="1440.4" cy="1973.5" r="0.7"/><circle cx="1355.6" cy="1976.5" r="0.7"/><circle cx="1415.9" cy="1976.5" r="0.7"/><circle cx="1347.2" cy="1979.3" r="0.7"/><circle cx="1453.4" cy="1978.6" r="0.7"/><circle cx="1481.1" cy="1979.5" r="0.7"/><circle cx="1378.8" cy="1978.3" r="0.7"/><circle cx="1413.0" cy="1980.5" r="0.7"/><circle cx="1403.7" cy="1982.0" r="0.7"/><circle cx="1362.6" cy="1982.3" r="0.7"/><circle cx="1357.8" cy="1983.4" r="0.7"/><circle cx="1368.8" cy="1982.3" r="0.7"/><circle cx="1381.0" cy="1982.0" r="0.7"/><circle cx="1382.9" cy="1985.6" r="0.7"/><circle cx="1314.9" cy="1985.6" r="0.7"/><circle cx="1403.0" cy="1986.8" r="0.7"/><circle cx="1372.2" cy="1987.8" r="0.7"/><circle cx="1504.7" cy="1984.5" r="0.7"/><circle cx="1353.5" cy="1989.3" r="0.7"/><circle cx="1361.6" cy="1990.8" r="0.7"/><circle cx="1314.2" cy="1990.0" r="0.7"/><circle cx="1316.4" cy="1992.5" r="0.7"/><circle cx="1396.0" cy="1991.5" r="0.7"/><circle cx="1386.4" cy="1992.7" r="0.7"/><circle cx="1483.8" cy="1992.0" r="0.7"/><circle cx="1363.1" cy="1994.9" r="0.7"/><circle cx="1463.9" cy="1994.6" r="0.7"/><circle cx="1321.8" cy="1997.4" r="0.7"/><circle cx="1402.3" cy="1997.7" r="0.7"/><circle cx="1456.9" cy="1997.4" r="0.7"/><circle cx="1336.2" cy="2000.0" r="0.7"/><circle cx="1326.2" cy="2000.3" r="0.7"/><circle cx="1374.2" cy="2000.2" r="0.7"/><circle cx="1394.9" cy="1999.6" r="0.7"/><circle cx="1398.6" cy="2000.3" r="0.7"/><circle cx="1491.4" cy="1999.4" r="0.7"/><circle cx="1387.6" cy="2003.6" r="0.7"/><circle cx="1399.3" cy="2003.3" r="0.7"/><circle cx="1357.9" cy="2004.3" r="0.7"/><circle cx="1424.6" cy="2004.1" r="0.7"/><circle cx="1441.2" cy="2003.4" r="0.7"/><circle cx="1500.9" cy="2005.5" r="0.7"/><circle cx="1334.3" cy="2006.9" r="0.7"/><circle cx="1456.9" cy="2005.9" r="0.7"/><circle cx="1351.2" cy="2008.3" r="0.7"/><circle cx="1436.0" cy="2010.6" r="0.7"/><circle cx="1438.2" cy="2011.0" r="0.7"/><circle cx="1447.8" cy="2011.9" r="0.7"/><circle cx="1405.7" cy="2014.3" r="0.7"/><circle cx="1454.1" cy="2016.9" r="0.7"/><circle cx="1442.2" cy="2018.7" r="0.7"/><circle cx="1420.8" cy="2019.0" r="0.7"/><circle cx="1324.8" cy="2020.1" r="0.7"/><circle cx="1334.0" cy="2023.8" r="0.7"/><circle cx="1339.6" cy="2022.8" r="0.7"/><circle cx="1364.8" cy="2025.3" r="0.7"/><circle cx="1355.7" cy="2027.5" r="0.7"/><circle cx="1313.8" cy="2026.7" r="0.7"/><circle cx="1319.6" cy="2030.0" r="0.7"/><circle cx="1365.6" cy="2030.0" r="0.7"/><circle cx="1356.0" cy="2031.9" r="0.7"/><circle cx="1361.2" cy="2032.6" r="0.7"/><circle cx="1360.4" cy="2037.0" r="0.7"/><circle cx="1450.0" cy="2032.3" r="0.7"/><circle cx="1383.5" cy="2038.5" r="0.7"/><circle cx="1328.9" cy="2041.7" r="0.7"/><circle cx="1396.0" cy="2042.3" r="0.7"/><circle cx="1447.8" cy="2041.4" r="0.7"/><circle cx="1388.0" cy="2043.2" r="0.7"/><circle cx="1368.5" cy="2045.4" r="0.7"/><circle cx="1390.5" cy="2047.6" r="0.7"/><circle cx="1423.1" cy="2053.6" r="0.7"/><circle cx="1319.6" cy="2055.1" r="0.7"/><circle cx="1343.3" cy="2053.3" r="0.7"/><circle cx="1380.3" cy="2054.6" r="0.7"/><circle cx="1385.0" cy="2056.8" r="0.7"/><circle cx="1346.5" cy="2058.3" r="0.7"/><circle cx="1367.9" cy="2060.2" r="0.7"/><circle cx="1426.7" cy="2064.5" r="0.7"/><circle cx="1448.8" cy="2069.9" r="0.7"/><circle cx="1470.1" cy="2070.1" r="0.7"/><circle cx="1416.1" cy="2075.8" r="0.7"/><circle cx="1332.0" cy="2084.0" r="0.7"/><circle cx="1419.3" cy="2089.4" r="0.7"/><circle cx="1394.9" cy="2091.6" r="0.7"/><circle cx="1458.2" cy="2092.7" r="0.7"/><circle cx="1393.3" cy="2098.4" r="0.7"/></g>
<circle cx="1713.1" cy="1464.8" r="3.8" fill="#6f7878" stroke="#5a5a5a" stroke-width="1.2"/><circle cx="1713.1" cy="1464.8" r="1" fill="#9cf060"/>
<path class="ld" d="M1674.2 1463.4L1703.3 1463.4"/>
<text class="lb" x="1564.9" y="1469.2" text-anchor="start">Sparreholm</text>
<circle cx="1092.1" cy="1644.5" r="3.8" fill="#6f7878" stroke="#5a5a5a" stroke-width="1.2"/><circle cx="1092.1" cy="1644.5" r="1" fill="#e0506a"/>
<path class="ld" d="M1090.9 1582.5L1090.9 1635.4"/>
<text class="lb" x="1071.2" y="1575.8" text-anchor="start">Binet Rouge</text>
<circle cx="1731.3" cy="1570.5" r="3.8" fill="#6f7878" stroke="#5a5a5a" stroke-width="1.2"/><circle cx="1731.3" cy="1570.5" r="1" fill="#6a6ae0"/>
<path class="ld" d="M1730.2 1580.0L1730.2 1650.0"/>
<text class="lb" x="1582.1" y="1666.5" text-anchor="start">Suislepas Rozabols</text>
<circle cx="1498.4" cy="2103.8" r="3.8" fill="#6f7878" stroke="#5a5a5a" stroke-width="1.2"/><circle cx="1498.4" cy="2103.8" r="1" fill="#e8e860"/>
<path class="ld" d="M1510.2 2102.8L1538.8 2102.8"/>
<text class="lb" x="1545.4" y="2109.6" text-anchor="start">Paradiso</text>
<rect x="1060.8" y="1432.7" width="702.4" height="702.9" fill="none" stroke="#fff" stroke-width="7"/>
<rect x="1060.8" y="1432.7" width="702.4" height="702.9" fill="none" stroke="#1e1e1e" stroke-width="3.6"/>
<path class="tk" d="M1066.8 2137.1v10.6M1210.0 2137.1v10.6M1353.2 2137.1v10.6M1496.4 2137.1v10.6M1639.6 2137.1v10.6M1059.3 2021.1h-10.6M1059.3 1873.3h-10.6M1059.3 1725.5h-10.6M1059.3 1577.7h-10.6"/>
<text class="ax" transform="translate(1081.1 2185.2) scale(.94 1)" text-anchor="middle">−40</text>
<text class="ax" transform="translate(1224.5 2185.2) scale(.94 1)" text-anchor="middle">−20</text>
<text class="ax" transform="translate(1354.6 2185.2) scale(.94 1)" text-anchor="middle">0</text>
<text class="ax" transform="translate(1503.7 2185.2) scale(.94 1)" text-anchor="middle">20</text>
<text class="ax" transform="translate(1647.4 2185.2) scale(.94 1)" text-anchor="middle">40</text>
<text class="ax" transform="translate(1040.6 2035.9) scale(.94 1)" text-anchor="end">−10</text>
<text class="ax" transform="translate(1040.6 1888.1) scale(.94 1)" text-anchor="end">0</text>
<text class="ax" transform="translate(1040.6 1740.3) scale(.94 1)" text-anchor="end">10</text>
<text class="ax" transform="translate(1040.6 1592.5) scale(.94 1)" text-anchor="end">20</text>
<text class="at" x="1411.6" y="2251.5">PH PC1 (62.20%)</text>
<text class="at" transform="translate(968.8 1784.0) rotate(-90)">PH PC2 (8.92%)</text>
</g>
</svg></body></html>
